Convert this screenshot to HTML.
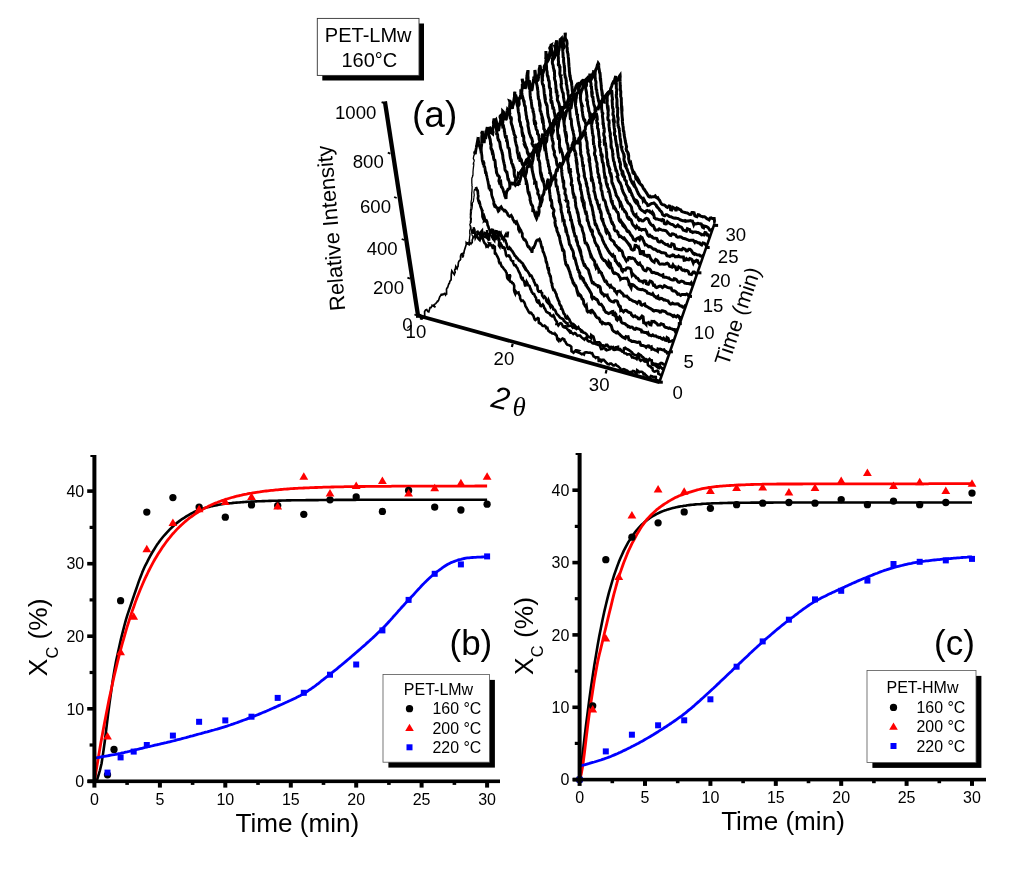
<!DOCTYPE html>
<html><head><meta charset="utf-8"><title>figure</title>
<style>
html,body{margin:0;padding:0;background:#fff;}
body{width:1024px;height:875px;overflow:hidden;font-family:'Liberation Sans', sans-serif;}
svg{display:block;will-change:transform;}
text{font-family:'Liberation Sans', sans-serif;fill:#000;}
</style></head><body>
<svg width="1024" height="875" viewBox="0 0 1024 875">
<rect width="1024" height="875" fill="#fff"/>
<g id="wf">
<path d="M553 140 L553.2 138.9 L553.3 137.7 L554.2 137.1 L554.3 136.2 L554.5 134.7 L553.9 131.7 L554.1 130.7 L554.2 129.9 L554.5 129.3 L554.7 127.8 L554.8 126.9 L554.7 127 L554.8 125.7 L555.1 124.5 L555.2 123.4 L555.4 121.9 L555.9 122.7 L556 121.2 L556.1 119.9 L555.9 117 L556 115.7 L556.1 114.4 L556.3 113.4 L556.4 112.3 L556.5 110.9 L556.1 109 L556.2 108.2 L556.9 109 L557 108 L557.1 107 L557.1 105.8 L556.9 104.1 L557 102.8 L557 102 L557.1 101.3 L556.9 100.3 L557 99.4 L557.5 95.9 L557.6 94.4 L557.8 93.9 L557.9 92.4 L558 90.8 L557.9 92.1 L557.9 90.8 L558 89.7 L558.1 87.3 L558.3 86.1 L558 84.7 L558.2 84.1 L558.2 83.4 L558.3 82.6 L558.2 81.8 L558.3 80 L558.3 78.9 L558.7 76.3 L558.7 77.5 L558.7 75.4 L559.1 72.3 L559.2 71.1 L559.1 71.7 L559.1 70.7 L558.9 68.6 L558.9 67.5 L559.3 68.3 L559.4 67.3 L559.4 66.2 L559.2 61.9 L559.2 60.6 L559.9 59.9 L559.9 58.9 L560 57.7 L559.6 57.8 L559.6 56.4 L559.7 55.7 L560.1 54 L560 54.3 L560 52.8 L560 51.7 L559.8 51.2 L559.8 49.6 L560.1 47.9 L560.1 46.3 L560.1 45 L560.2 43.4 L560.2 42.4 L560.3 40.7 L560.3 39.5 L560.4 38.3 L560.4 40.3 L560.7 41.5 L561.2 43.2 L561.5 44.7 L561.8 46.2 L561.9 45.3 L562.2 46.3 L562.6 48.1 L562.9 49.4 L563.1 47.7 L563.7 47.7 L563.8 45.9 L563.3 42.5 L563.5 41.1 L563.7 40.3 L564.4 39.9 L564.5 38.6 L564.5 38.2 L564.9 36.6 L565.1 36.1 L565.2 35.1 L565.1 33.5 L565.2 32.9 L565.4 33.9 L565.2 36.4 L565.3 37.3 L565.4 38.2 L566.1 39.9 L566.3 41.4 L566.2 39.8 L566.8 41 L566.9 42.3 L567.1 43.4 L566.8 46.5 L566.9 47.6 L567.2 47.9 L567.3 49.5 L567.2 50.9 L567.4 52.2 L567.4 51.6 L567.6 52.7 L568 54.1 L568.1 55.1 L568.2 56.7 L568.2 56.7 L568.3 57.8 L568.5 58.3 L568.7 62.1 L568.8 64 L568.9 64.7 L568.9 65.4 L569 66.5 L569.2 67.9 L569.3 69.7 L569.4 71.6 L569.6 72.8 L569.8 75.6 L569.9 77.1 L570.1 74.9 L570.2 76.6 L570.4 77.6 L570.5 79.3 L570.7 79.5 L570.8 80.7 L571.3 81.1 L571.5 82.3 L571.7 83.7 L571.6 83.9 L571.8 85.4 L572 86.5 L572.2 89.8 L572.4 91.3 L572.6 92.3 L572.8 91.3 L573 92.2 L573.2 93.8 L573.3 95 L573.6 96.1 L573.8 96.9 L574.3 96.6 L574.3 95.1 L574.4 93.8 L574.5 93.4 L574.8 92.4 L575.1 90.9 L575.5 89.9 L575.9 88.6 L576.5 87.4 L577 86.2 L577.5 85.4 L577.6 84.6 L578.3 84.3 L578.9 83.5 L579.7 83.7 L580.3 83.1 L581 82.5 L581.9 81 L582.8 80.4 L583.9 80.6 L585.3 80.1 L586.3 79.1 L587.8 80.6 L588.9 79.8 L589.7 79.6 L590.7 80.9 L591.3 81.9 L591.8 83.2 L592.3 84.4 L592.7 82.8 L593 81.6 L593 79.5 L593.4 78.2 L593.7 77.1 L594 74.7 L594.4 74.3 L594.7 73.6 L595.1 71.6 L595.5 70.9 L595.8 69.4 L596.4 68.8 L596.7 67.4 L597.1 66.6 L597.1 66.1 L597.4 64.9 L597.7 64.8 L598.2 63.2 L598.6 63.8 L598.7 64.3 L598.8 65.9 L598.5 64.7 L598.7 66.2 L598.8 67.9 L599.1 69.1 L599.3 70.2 L599.5 72 L599.6 72.8 L600 73.1 L600.1 74.1 L600.3 76.8 L600.2 77.9 L600.3 79 L600.5 80.1 L600.7 80 L600.8 81.6 L601 83.2 L601.2 86 L601.3 86.8 L601.3 87.5 L601.4 88.9 L601.9 91.4 L602 92.7 L602.2 92.5 L602.4 93.7 L602.3 94.5 L602.7 96.8 L602.9 97.8 L603.1 99 L603.2 101.1 L603.2 100.8 L603.4 101.6 L604 102.4 L604.4 99.1 L604.9 97.7 L605.4 96.9 L605.9 95.7 L606.5 94.7 L607 94.7 L607.6 93.5 L608.2 92.7 L609.3 92.2 L609.6 91.4 L610.2 90.8 L610.8 89.7 L611.9 88.7 L612.5 87.9 L613.2 86.4 L613.6 87.5 L614.3 86.1 L615 81.9 L615.6 82 L616.3 81.1 L617 80.6 L617.8 80 L618.5 78.3 L619.4 76.2 L620.1 75.2 L620.2 76.5 L620 79.2 L620.1 80.4 L620.1 81.3 L620 80.3 L620.1 81.7 L620.1 82.9 L620.2 85.5 L620.3 86.4 L620.3 88 L620.4 90.2 L620.6 90.7 L620.7 91.5 L620.8 91.8 L620.7 94.4 L620.7 96.2 L620.8 97.2 L620.9 97 L620.9 98.1 L621.2 97.3 L621.3 98.5 L621.3 101.3 L621.4 102.4 L621.4 103.9 L621.4 105.4 L621.5 106.5 L621.6 108.3 L621.9 108.1 L622 109.5 L622 110.9 L621.8 111.5 L621.8 112.4 L622 115 L622.1 116.3 L622.2 117.3 L622.5 120 L622.6 121.3 L622.3 119.9 L622.4 121.3 L622.5 122.5 L622.6 123.4 L622.7 124.6 L622.9 125.1 L623 126 L623.2 127.2 L623.3 129.8 L623.4 131.1 L623.8 131.3 L624 132.6 L624.1 134.1 L624.3 134.7 L624.2 135.2 L624.4 136.3 L624.6 137.4 L625 139.2 L625.2 140.6 L625.4 141.6 L625.6 142.8 L625.9 143.7 L626.1 145 L626.4 146 L626.6 146.7 L626.1 149 L626.4 149.6 L626.6 150.9 L627.5 151.8 L627.8 152.5 L628.1 154.1 L628.4 154.1 L628.7 155.9 L628.6 158.8 L628.9 159.7 L629.3 161.8 L629.6 162.9 L630 163.6 L630.7 162.9 L631 164.4 L631.4 165.7 L631.8 168.3 L632.2 169.5 L632.6 170.2 L632.8 171.8 L633.1 171.7 L633.6 173.1 L634.2 172.8 L634.6 173.7 L635.1 174.2 L635.4 175.2 L635.8 178.2 L636.4 179.3 L637.2 179.9 L637.8 180.8 L638.1 179.3 L638.9 180.7 L639.5 182.2 L639.7 183.1 L640.3 183.9 L641 184.9 L641.7 185.1 L642.3 185.9 L643.3 188.3 L644 189.4 L644.7 189.8 L645 190.7 L645.7 191.5 L646.2 192.4 L647 193.6 L648.4 196.2 L649.3 196.9 L650.1 196.2 L651.2 197.1 L652.2 196.8 L653 196.8 L654.2 196.7 L655.2 195.9 L656.4 197.7 L657.2 198.1 L657.8 197.8 L658.5 199.1 L659.6 200.4 L660.3 201.9 L661.1 203.3 L661.2 203.7 L662.1 204.5 L663.1 204.8 L664.2 204.9 L665.2 205.6 L666.3 206.9 L667.4 207.5 L669 205.9 L670.1 206.2 L670.6 209.8 L671.7 210 L672.9 207.4 L674 208.1 L675.1 208.3 L676 211.1 L677.1 208.1 L678.2 208.6 L679.3 209.5 L680.7 209.9 L681.6 211.3 L682.7 211.9 L683.8 212.1 L685.1 212.6 L686.2 212.8 L687.3 212.9 L688.8 214 L689.9 214.5 L691.1 214.3 L691.9 212.5 L693 212.6 L694.1 212.8 L694.8 215.7 L695.9 216.3 L697 216.7 L698.1 214.6 L699.2 214.8 L700.6 216.1 L701.7 216.4 L702.8 216.9 L703.4 216.7 L704.5 216.8 L705.6 217.4 L706.9 218.7 L708 219.2 L709.1 219.9 L710.1 218.1 L711.2 217.8 L712.3 218.6 L714.2 218.6 L714.6 221.9 L715.7 222.3 L715.7 430 L553 430 Z" fill="#fff" stroke="none"/>
<path d="M553 140 L553.2 138.9 L553.3 137.7 L554.2 137.1 L554.3 136.2 L554.5 134.7 L553.9 131.7 L554.1 130.7 L554.2 129.9 L554.5 129.3 L554.7 127.8 L554.8 126.9 L554.7 127 L554.8 125.7 L555.1 124.5 L555.2 123.4 L555.4 121.9 L555.9 122.7 L556 121.2 L556.1 119.9 L555.9 117 L556 115.7 L556.1 114.4 L556.3 113.4 L556.4 112.3 L556.5 110.9 L556.1 109 L556.2 108.2 L556.9 109 L557 108 L557.1 107 L557.1 105.8 L556.9 104.1 L557 102.8 L557 102 L557.1 101.3 L556.9 100.3 L557 99.4 L557.5 95.9 L557.6 94.4 L557.8 93.9 L557.9 92.4 L558 90.8 L557.9 92.1 L557.9 90.8 L558 89.7 L558.1 87.3 L558.3 86.1 L558 84.7 L558.2 84.1 L558.2 83.4 L558.3 82.6 L558.2 81.8 L558.3 80 L558.3 78.9 L558.7 76.3 L558.7 77.5 L558.7 75.4 L559.1 72.3 L559.2 71.1 L559.1 71.7 L559.1 70.7 L558.9 68.6 L558.9 67.5 L559.3 68.3 L559.4 67.3 L559.4 66.2 L559.2 61.9 L559.2 60.6 L559.9 59.9 L559.9 58.9 L560 57.7 L559.6 57.8 L559.6 56.4 L559.7 55.7 L560.1 54 L560 54.3 L560 52.8 L560 51.7 L559.8 51.2 L559.8 49.6 L560.1 47.9 L560.1 46.3 L560.1 45 L560.2 43.4 L560.2 42.4 L560.3 40.7 L560.3 39.5 L560.4 38.3 L560.4 40.3 L560.7 41.5 L561.2 43.2 L561.5 44.7 L561.8 46.2 L561.9 45.3 L562.2 46.3 L562.6 48.1 L562.9 49.4 L563.1 47.7 L563.7 47.7 L563.8 45.9 L563.3 42.5 L563.5 41.1 L563.7 40.3 L564.4 39.9 L564.5 38.6 L564.5 38.2 L564.9 36.6 L565.1 36.1 L565.2 35.1 L565.1 33.5 L565.2 32.9 L565.4 33.9 L565.2 36.4 L565.3 37.3 L565.4 38.2 L566.1 39.9 L566.3 41.4 L566.2 39.8 L566.8 41 L566.9 42.3 L567.1 43.4 L566.8 46.5 L566.9 47.6 L567.2 47.9 L567.3 49.5 L567.2 50.9 L567.4 52.2 L567.4 51.6 L567.6 52.7 L568 54.1 L568.1 55.1 L568.2 56.7 L568.2 56.7 L568.3 57.8 L568.5 58.3 L568.7 62.1 L568.8 64 L568.9 64.7 L568.9 65.4 L569 66.5 L569.2 67.9 L569.3 69.7 L569.4 71.6 L569.6 72.8 L569.8 75.6 L569.9 77.1 L570.1 74.9 L570.2 76.6 L570.4 77.6 L570.5 79.3 L570.7 79.5 L570.8 80.7 L571.3 81.1 L571.5 82.3 L571.7 83.7 L571.6 83.9 L571.8 85.4 L572 86.5 L572.2 89.8 L572.4 91.3 L572.6 92.3 L572.8 91.3 L573 92.2 L573.2 93.8 L573.3 95 L573.6 96.1 L573.8 96.9 L574.3 96.6 L574.3 95.1 L574.4 93.8 L574.5 93.4 L574.8 92.4 L575.1 90.9 L575.5 89.9 L575.9 88.6 L576.5 87.4 L577 86.2 L577.5 85.4 L577.6 84.6 L578.3 84.3 L578.9 83.5 L579.7 83.7 L580.3 83.1 L581 82.5 L581.9 81 L582.8 80.4 L583.9 80.6 L585.3 80.1 L586.3 79.1 L587.8 80.6 L588.9 79.8 L589.7 79.6 L590.7 80.9 L591.3 81.9 L591.8 83.2 L592.3 84.4 L592.7 82.8 L593 81.6 L593 79.5 L593.4 78.2 L593.7 77.1 L594 74.7 L594.4 74.3 L594.7 73.6 L595.1 71.6 L595.5 70.9 L595.8 69.4 L596.4 68.8 L596.7 67.4 L597.1 66.6 L597.1 66.1 L597.4 64.9 L597.7 64.8 L598.2 63.2 L598.6 63.8 L598.7 64.3 L598.8 65.9 L598.5 64.7 L598.7 66.2 L598.8 67.9 L599.1 69.1 L599.3 70.2 L599.5 72 L599.6 72.8 L600 73.1 L600.1 74.1 L600.3 76.8 L600.2 77.9 L600.3 79 L600.5 80.1 L600.7 80 L600.8 81.6 L601 83.2 L601.2 86 L601.3 86.8 L601.3 87.5 L601.4 88.9 L601.9 91.4 L602 92.7 L602.2 92.5 L602.4 93.7 L602.3 94.5 L602.7 96.8 L602.9 97.8 L603.1 99 L603.2 101.1 L603.2 100.8 L603.4 101.6 L604 102.4 L604.4 99.1 L604.9 97.7 L605.4 96.9 L605.9 95.7 L606.5 94.7 L607 94.7 L607.6 93.5 L608.2 92.7 L609.3 92.2 L609.6 91.4 L610.2 90.8 L610.8 89.7 L611.9 88.7 L612.5 87.9 L613.2 86.4 L613.6 87.5 L614.3 86.1 L615 81.9 L615.6 82 L616.3 81.1 L617 80.6 L617.8 80 L618.5 78.3 L619.4 76.2 L620.1 75.2 L620.2 76.5 L620 79.2 L620.1 80.4 L620.1 81.3 L620 80.3 L620.1 81.7 L620.1 82.9 L620.2 85.5 L620.3 86.4 L620.3 88 L620.4 90.2 L620.6 90.7 L620.7 91.5 L620.8 91.8 L620.7 94.4 L620.7 96.2 L620.8 97.2 L620.9 97 L620.9 98.1 L621.2 97.3 L621.3 98.5 L621.3 101.3 L621.4 102.4 L621.4 103.9 L621.4 105.4 L621.5 106.5 L621.6 108.3 L621.9 108.1 L622 109.5 L622 110.9 L621.8 111.5 L621.8 112.4 L622 115 L622.1 116.3 L622.2 117.3 L622.5 120 L622.6 121.3 L622.3 119.9 L622.4 121.3 L622.5 122.5 L622.6 123.4 L622.7 124.6 L622.9 125.1 L623 126 L623.2 127.2 L623.3 129.8 L623.4 131.1 L623.8 131.3 L624 132.6 L624.1 134.1 L624.3 134.7 L624.2 135.2 L624.4 136.3 L624.6 137.4 L625 139.2 L625.2 140.6 L625.4 141.6 L625.6 142.8 L625.9 143.7 L626.1 145 L626.4 146 L626.6 146.7 L626.1 149 L626.4 149.6 L626.6 150.9 L627.5 151.8 L627.8 152.5 L628.1 154.1 L628.4 154.1 L628.7 155.9 L628.6 158.8 L628.9 159.7 L629.3 161.8 L629.6 162.9 L630 163.6 L630.7 162.9 L631 164.4 L631.4 165.7 L631.8 168.3 L632.2 169.5 L632.6 170.2 L632.8 171.8 L633.1 171.7 L633.6 173.1 L634.2 172.8 L634.6 173.7 L635.1 174.2 L635.4 175.2 L635.8 178.2 L636.4 179.3 L637.2 179.9 L637.8 180.8 L638.1 179.3 L638.9 180.7 L639.5 182.2 L639.7 183.1 L640.3 183.9 L641 184.9 L641.7 185.1 L642.3 185.9 L643.3 188.3 L644 189.4 L644.7 189.8 L645 190.7 L645.7 191.5 L646.2 192.4 L647 193.6 L648.4 196.2 L649.3 196.9 L650.1 196.2 L651.2 197.1 L652.2 196.8 L653 196.8 L654.2 196.7 L655.2 195.9 L656.4 197.7 L657.2 198.1 L657.8 197.8 L658.5 199.1 L659.6 200.4 L660.3 201.9 L661.1 203.3 L661.2 203.7 L662.1 204.5 L663.1 204.8 L664.2 204.9 L665.2 205.6 L666.3 206.9 L667.4 207.5 L669 205.9 L670.1 206.2 L670.6 209.8 L671.7 210 L672.9 207.4 L674 208.1 L675.1 208.3 L676 211.1 L677.1 208.1 L678.2 208.6 L679.3 209.5 L680.7 209.9 L681.6 211.3 L682.7 211.9 L683.8 212.1 L685.1 212.6 L686.2 212.8 L687.3 212.9 L688.8 214 L689.9 214.5 L691.1 214.3 L691.9 212.5 L693 212.6 L694.1 212.8 L694.8 215.7 L695.9 216.3 L697 216.7 L698.1 214.6 L699.2 214.8 L700.6 216.1 L701.7 216.4 L702.8 216.9 L703.4 216.7 L704.5 216.8 L705.6 217.4 L706.9 218.7 L708 219.2 L709.1 219.9 L710.1 218.1 L711.2 217.8 L712.3 218.6 L714.2 218.6 L714.6 221.9 L715.7 222.3" fill="none" stroke="#000" stroke-width="3.0" stroke-linejoin="miter" stroke-miterlimit="3"/>
<path d="M548.4 147 L548.6 145.9 L548.8 144.7 L549.1 142.5 L549.2 141.1 L549.4 139.8 L549.1 139.7 L549.3 139.3 L549.5 138.9 L549.6 137.7 L549.8 136.7 L550.4 135 L550.5 134 L550.7 133 L550.8 131.8 L550.9 131.1 L550.5 129.2 L550.6 127.9 L551 124.9 L550.8 124.9 L550.9 124 L551 122.7 L551.2 121.3 L551.3 120.1 L551.4 121.4 L551.5 119.7 L551.8 116.5 L551.7 116.5 L552.1 116.3 L552.2 115.8 L552.5 112.8 L552.6 111.5 L552.7 110.2 L552.6 108.4 L552.6 107.6 L552.7 106.8 L553 106.6 L552.5 105.2 L552.5 104.1 L552.8 102.8 L552.8 101.7 L552.9 100.9 L553.3 98.4 L553.5 97.9 L553.6 96.9 L553.3 96.2 L553.3 95 L553.9 92 L554 90.6 L554.1 90.2 L554.2 88.9 L553.2 89.9 L553.2 89 L553.9 85.3 L554 84.3 L554.1 83.7 L554.4 81.6 L554.5 80.6 L554.5 79.4 L553.9 80.8 L554.6 77 L554.7 76.1 L554.8 74.5 L554.2 76 L554.3 75 L554.6 72.6 L554.7 71.4 L554.5 69.9 L554.6 68.9 L554.6 68 L555.1 65.6 L555.2 64.5 L555.3 63.7 L555.4 62.4 L555.4 60.9 L555.4 61.8 L555.5 60.8 L555.7 57.7 L555.7 56.4 L555.8 55.1 L554.9 54 L554.9 52.5 L555 51.4 L555.5 50.2 L555.6 49.7 L555.9 48.5 L555.9 47.5 L556 46.7 L556.1 43.6 L556 43.9 L556.3 45.5 L556.5 47 L556.8 47.3 L557.1 48 L557.4 48.6 L557.7 50 L557.7 51.9 L558 53.4 L558.2 55.1 L558.5 51.9 L558.7 50.2 L558.9 49.1 L558.9 50.7 L559.1 49.3 L559.6 46.3 L559.8 45 L559.7 43.2 L559.9 41.6 L559.9 42.2 L560.1 41.1 L560.7 41.3 L561.2 39.5 L561.4 38.5 L561.5 38.4 L561.6 39.5 L561.2 40.5 L561.4 41.9 L561.7 42.3 L561.8 43.7 L561.9 44.7 L562.1 45.3 L562.4 46.9 L562.6 47.8 L562.7 49.3 L562.8 51.2 L562.9 52.5 L563 53.6 L563.1 56.6 L563.2 57.8 L563.5 57.2 L563.6 58.2 L563.6 60.6 L563.7 62.1 L563.8 62.9 L563.9 63.2 L564.1 64.2 L564 64 L564.2 65.1 L564.3 66.4 L564.4 66.4 L564.5 67.6 L564.6 68.7 L564.7 72.9 L564.8 74.4 L565.1 75.7 L565.2 77 L565.4 78.3 L565.8 77.4 L566 79.4 L566.2 81.1 L566.4 82.4 L566.2 83.4 L566.4 84 L566.9 85.8 L567 86.9 L567.2 88.8 L567.4 89.6 L567.5 90.6 L567.6 89.8 L567.8 90.6 L567.9 92 L567.9 93 L568.1 94.1 L568.3 95 L568.8 97.7 L569 99.1 L569 100.4 L568.9 100.2 L569.1 101.5 L569.3 102.5 L569.9 103.5 L570.1 104.4 L570.3 105.6 L570.4 107.7 L570.6 108.8 L570.1 107.6 L570.1 106.2 L570.3 103.9 L570.5 102.7 L571 99.9 L571.3 98.3 L570.9 97.5 L571.3 96.4 L572.3 94.4 L572.7 93.1 L573.1 92.2 L573.2 92.3 L573.8 91 L574.3 90.2 L574.7 90.4 L575.2 89.4 L575.9 86.5 L576.5 85.4 L577 84.7 L577.9 86.6 L578.6 86.8 L579.6 86.5 L580.9 83.6 L582.2 83.5 L583.9 83.9 L584.9 84.4 L585.3 83.9 L586 83.5 L586.4 83.8 L586.9 85.3 L588 86.4 L588.5 86.7 L588.3 86.6 L588.7 85.2 L589.5 82.7 L589.9 81.7 L590.3 80.4 L590.2 81.4 L590.6 80.7 L591.3 79.4 L591.7 78.6 L592.1 77.6 L592.4 75 L592.8 73.6 L593.5 73.2 L593.6 71.8 L594.3 71.9 L594.5 73.3 L594.9 72 L595 73.4 L595.2 74.4 L595 76.1 L595.2 77.3 L595.1 77.7 L595.3 78.6 L595.5 80 L596 82.1 L595.8 85.3 L596 86.1 L596.1 87.2 L596.1 87.9 L596.2 89.1 L596.7 89.8 L596.8 91 L596.9 92 L597.3 94.4 L597.5 95.5 L597.7 96.6 L597.8 96.8 L598 98.2 L598.3 99 L598.4 100.5 L598.8 101.6 L599.2 102.7 L599.9 104.2 L600.7 103 L601.1 101.9 L601.9 100.4 L602.8 98.3 L603.5 97.7 L604.3 96.5 L604.9 96.1 L605.6 95.6 L606.6 94.7 L607.2 93.9 L607.9 92.4 L608.1 93.4 L608.7 91.9 L609.8 91.6 L610.4 90.3 L610.7 88.6 L611.3 87.1 L611.8 85.7 L612.2 84.2 L612.7 83.3 L613.2 82.2 L613.9 82.6 L614.3 81.9 L614.5 80.5 L614.9 78.7 L615.4 77.3 L615.8 75.9 L615.8 77.1 L616.1 78.1 L616.1 78.6 L615.9 80.2 L615.9 81.3 L616.3 83 L616.4 83.8 L616.3 84.6 L616.3 85.9 L616.3 87.2 L616.4 89.4 L616.8 88.6 L616.9 89.3 L616.5 92.2 L616.6 93.5 L616.6 94.3 L616.3 94.6 L616.3 95.9 L616.4 97.1 L616.9 99 L617 100.6 L617 102.3 L617 103.6 L617.1 105.1 L616.9 105 L616.9 106.4 L617 107.4 L617.7 107.9 L617.8 108.9 L617.6 110.7 L617.7 112 L617.5 115.6 L617.6 116.9 L618 117.4 L618.1 118.7 L618.2 119.1 L617.8 121.7 L617.9 123.2 L618 124.1 L618.3 123.4 L618 124.9 L618.1 125.8 L618.2 126.6 L618.5 125.9 L618.6 127.3 L619.2 128.6 L619.3 129.5 L619.4 130.2 L619.5 131.9 L619.6 132.9 L619.8 134 L619.9 136 L620 137.2 L620.3 138.8 L620.5 140 L620.4 140 L620.6 141.2 L620.8 142 L620.8 144.5 L621 145.4 L621.2 147.2 L621.9 147.4 L621.7 148.6 L621.9 149.9 L622.2 150.5 L623.4 153.4 L623.7 154.1 L623.9 155.9 L624.2 155.7 L624.4 156.8 L623.9 159.1 L624.1 160.7 L624.4 161.1 L624.7 162.3 L624.8 163.2 L625.1 165.1 L625.9 164.6 L626.2 165 L626.2 167.6 L626.6 168.5 L627 168.8 L627.4 170.3 L627.8 171.3 L628.2 172.3 L628.9 173.7 L629.3 174.8 L629.7 176 L630 177.4 L630.4 178.5 L630.3 179.3 L630.7 180 L631.2 180.6 L632.3 183.2 L632.8 183.6 L633.3 184.5 L633.9 183.3 L634.5 185.2 L635 186.4 L635.1 187.1 L635.7 187.7 L636.6 189.6 L637.2 191.1 L637.7 192.2 L638.3 193.7 L639 194.7 L639.6 195.6 L640.3 196.6 L641 197.3 L642 198.2 L642.8 199 L643.1 200.4 L643.8 199.2 L644.9 201.3 L645.7 202.6 L646.6 203.3 L647.5 204.6 L647.8 205.6 L648.8 205.4 L650.5 204.1 L651.7 203.5 L652.7 203.4 L653.8 203 L654.6 203.7 L655.3 204.4 L656.3 205.2 L656.5 206.3 L657.1 206.6 L657.9 207.9 L658.8 208.5 L659.8 210.3 L660.8 211.1 L661.9 212.5 L662.6 214.6 L663.7 215.5 L664.7 215.8 L665.8 214.8 L666.9 214.8 L668.1 215.5 L669.2 216.3 L670.3 216.7 L671 216.7 L672.7 217.7 L673.8 218.1 L674.9 218.3 L675.6 218.1 L676.6 218.3 L677.8 218.4 L678.9 219 L680.7 220 L681.8 220.3 L682.7 220.7 L683.8 220.8 L685 221.2 L685.4 220.6 L686.5 221.1 L687.6 221 L688.7 221.1 L690.3 220.5 L691.4 221 L692.5 221.1 L693.7 224.6 L694.2 223.4 L695.3 224 L696.7 223.8 L697.8 223.3 L698.8 223.5 L700.2 223.7 L701.3 224 L702.5 227.2 L703.6 227.8 L704.2 226 L705 226.3 L706.1 226.4 L707.2 227 L708.3 227.8 L709.8 230.2 L710.9 230.2 L712 229.4 L713.1 229.8 L713.1 430 L548.4 430 Z" fill="#fff" stroke="none"/>
<path d="M548.4 147 L548.6 145.9 L548.8 144.7 L549.1 142.5 L549.2 141.1 L549.4 139.8 L549.1 139.7 L549.3 139.3 L549.5 138.9 L549.6 137.7 L549.8 136.7 L550.4 135 L550.5 134 L550.7 133 L550.8 131.8 L550.9 131.1 L550.5 129.2 L550.6 127.9 L551 124.9 L550.8 124.9 L550.9 124 L551 122.7 L551.2 121.3 L551.3 120.1 L551.4 121.4 L551.5 119.7 L551.8 116.5 L551.7 116.5 L552.1 116.3 L552.2 115.8 L552.5 112.8 L552.6 111.5 L552.7 110.2 L552.6 108.4 L552.6 107.6 L552.7 106.8 L553 106.6 L552.5 105.2 L552.5 104.1 L552.8 102.8 L552.8 101.7 L552.9 100.9 L553.3 98.4 L553.5 97.9 L553.6 96.9 L553.3 96.2 L553.3 95 L553.9 92 L554 90.6 L554.1 90.2 L554.2 88.9 L553.2 89.9 L553.2 89 L553.9 85.3 L554 84.3 L554.1 83.7 L554.4 81.6 L554.5 80.6 L554.5 79.4 L553.9 80.8 L554.6 77 L554.7 76.1 L554.8 74.5 L554.2 76 L554.3 75 L554.6 72.6 L554.7 71.4 L554.5 69.9 L554.6 68.9 L554.6 68 L555.1 65.6 L555.2 64.5 L555.3 63.7 L555.4 62.4 L555.4 60.9 L555.4 61.8 L555.5 60.8 L555.7 57.7 L555.7 56.4 L555.8 55.1 L554.9 54 L554.9 52.5 L555 51.4 L555.5 50.2 L555.6 49.7 L555.9 48.5 L555.9 47.5 L556 46.7 L556.1 43.6 L556 43.9 L556.3 45.5 L556.5 47 L556.8 47.3 L557.1 48 L557.4 48.6 L557.7 50 L557.7 51.9 L558 53.4 L558.2 55.1 L558.5 51.9 L558.7 50.2 L558.9 49.1 L558.9 50.7 L559.1 49.3 L559.6 46.3 L559.8 45 L559.7 43.2 L559.9 41.6 L559.9 42.2 L560.1 41.1 L560.7 41.3 L561.2 39.5 L561.4 38.5 L561.5 38.4 L561.6 39.5 L561.2 40.5 L561.4 41.9 L561.7 42.3 L561.8 43.7 L561.9 44.7 L562.1 45.3 L562.4 46.9 L562.6 47.8 L562.7 49.3 L562.8 51.2 L562.9 52.5 L563 53.6 L563.1 56.6 L563.2 57.8 L563.5 57.2 L563.6 58.2 L563.6 60.6 L563.7 62.1 L563.8 62.9 L563.9 63.2 L564.1 64.2 L564 64 L564.2 65.1 L564.3 66.4 L564.4 66.4 L564.5 67.6 L564.6 68.7 L564.7 72.9 L564.8 74.4 L565.1 75.7 L565.2 77 L565.4 78.3 L565.8 77.4 L566 79.4 L566.2 81.1 L566.4 82.4 L566.2 83.4 L566.4 84 L566.9 85.8 L567 86.9 L567.2 88.8 L567.4 89.6 L567.5 90.6 L567.6 89.8 L567.8 90.6 L567.9 92 L567.9 93 L568.1 94.1 L568.3 95 L568.8 97.7 L569 99.1 L569 100.4 L568.9 100.2 L569.1 101.5 L569.3 102.5 L569.9 103.5 L570.1 104.4 L570.3 105.6 L570.4 107.7 L570.6 108.8 L570.1 107.6 L570.1 106.2 L570.3 103.9 L570.5 102.7 L571 99.9 L571.3 98.3 L570.9 97.5 L571.3 96.4 L572.3 94.4 L572.7 93.1 L573.1 92.2 L573.2 92.3 L573.8 91 L574.3 90.2 L574.7 90.4 L575.2 89.4 L575.9 86.5 L576.5 85.4 L577 84.7 L577.9 86.6 L578.6 86.8 L579.6 86.5 L580.9 83.6 L582.2 83.5 L583.9 83.9 L584.9 84.4 L585.3 83.9 L586 83.5 L586.4 83.8 L586.9 85.3 L588 86.4 L588.5 86.7 L588.3 86.6 L588.7 85.2 L589.5 82.7 L589.9 81.7 L590.3 80.4 L590.2 81.4 L590.6 80.7 L591.3 79.4 L591.7 78.6 L592.1 77.6 L592.4 75 L592.8 73.6 L593.5 73.2 L593.6 71.8 L594.3 71.9 L594.5 73.3 L594.9 72 L595 73.4 L595.2 74.4 L595 76.1 L595.2 77.3 L595.1 77.7 L595.3 78.6 L595.5 80 L596 82.1 L595.8 85.3 L596 86.1 L596.1 87.2 L596.1 87.9 L596.2 89.1 L596.7 89.8 L596.8 91 L596.9 92 L597.3 94.4 L597.5 95.5 L597.7 96.6 L597.8 96.8 L598 98.2 L598.3 99 L598.4 100.5 L598.8 101.6 L599.2 102.7 L599.9 104.2 L600.7 103 L601.1 101.9 L601.9 100.4 L602.8 98.3 L603.5 97.7 L604.3 96.5 L604.9 96.1 L605.6 95.6 L606.6 94.7 L607.2 93.9 L607.9 92.4 L608.1 93.4 L608.7 91.9 L609.8 91.6 L610.4 90.3 L610.7 88.6 L611.3 87.1 L611.8 85.7 L612.2 84.2 L612.7 83.3 L613.2 82.2 L613.9 82.6 L614.3 81.9 L614.5 80.5 L614.9 78.7 L615.4 77.3 L615.8 75.9 L615.8 77.1 L616.1 78.1 L616.1 78.6 L615.9 80.2 L615.9 81.3 L616.3 83 L616.4 83.8 L616.3 84.6 L616.3 85.9 L616.3 87.2 L616.4 89.4 L616.8 88.6 L616.9 89.3 L616.5 92.2 L616.6 93.5 L616.6 94.3 L616.3 94.6 L616.3 95.9 L616.4 97.1 L616.9 99 L617 100.6 L617 102.3 L617 103.6 L617.1 105.1 L616.9 105 L616.9 106.4 L617 107.4 L617.7 107.9 L617.8 108.9 L617.6 110.7 L617.7 112 L617.5 115.6 L617.6 116.9 L618 117.4 L618.1 118.7 L618.2 119.1 L617.8 121.7 L617.9 123.2 L618 124.1 L618.3 123.4 L618 124.9 L618.1 125.8 L618.2 126.6 L618.5 125.9 L618.6 127.3 L619.2 128.6 L619.3 129.5 L619.4 130.2 L619.5 131.9 L619.6 132.9 L619.8 134 L619.9 136 L620 137.2 L620.3 138.8 L620.5 140 L620.4 140 L620.6 141.2 L620.8 142 L620.8 144.5 L621 145.4 L621.2 147.2 L621.9 147.4 L621.7 148.6 L621.9 149.9 L622.2 150.5 L623.4 153.4 L623.7 154.1 L623.9 155.9 L624.2 155.7 L624.4 156.8 L623.9 159.1 L624.1 160.7 L624.4 161.1 L624.7 162.3 L624.8 163.2 L625.1 165.1 L625.9 164.6 L626.2 165 L626.2 167.6 L626.6 168.5 L627 168.8 L627.4 170.3 L627.8 171.3 L628.2 172.3 L628.9 173.7 L629.3 174.8 L629.7 176 L630 177.4 L630.4 178.5 L630.3 179.3 L630.7 180 L631.2 180.6 L632.3 183.2 L632.8 183.6 L633.3 184.5 L633.9 183.3 L634.5 185.2 L635 186.4 L635.1 187.1 L635.7 187.7 L636.6 189.6 L637.2 191.1 L637.7 192.2 L638.3 193.7 L639 194.7 L639.6 195.6 L640.3 196.6 L641 197.3 L642 198.2 L642.8 199 L643.1 200.4 L643.8 199.2 L644.9 201.3 L645.7 202.6 L646.6 203.3 L647.5 204.6 L647.8 205.6 L648.8 205.4 L650.5 204.1 L651.7 203.5 L652.7 203.4 L653.8 203 L654.6 203.7 L655.3 204.4 L656.3 205.2 L656.5 206.3 L657.1 206.6 L657.9 207.9 L658.8 208.5 L659.8 210.3 L660.8 211.1 L661.9 212.5 L662.6 214.6 L663.7 215.5 L664.7 215.8 L665.8 214.8 L666.9 214.8 L668.1 215.5 L669.2 216.3 L670.3 216.7 L671 216.7 L672.7 217.7 L673.8 218.1 L674.9 218.3 L675.6 218.1 L676.6 218.3 L677.8 218.4 L678.9 219 L680.7 220 L681.8 220.3 L682.7 220.7 L683.8 220.8 L685 221.2 L685.4 220.6 L686.5 221.1 L687.6 221 L688.7 221.1 L690.3 220.5 L691.4 221 L692.5 221.1 L693.7 224.6 L694.2 223.4 L695.3 224 L696.7 223.8 L697.8 223.3 L698.8 223.5 L700.2 223.7 L701.3 224 L702.5 227.2 L703.6 227.8 L704.2 226 L705 226.3 L706.1 226.4 L707.2 227 L708.3 227.8 L709.8 230.2 L710.9 230.2 L712 229.4 L713.1 229.8" fill="none" stroke="#000" stroke-width="3.0" stroke-linejoin="miter" stroke-miterlimit="3"/>
<path d="M543.9 154.1 L544.1 152.9 L544.2 151.8 L544.5 150.7 L544.5 151.7 L544.7 150.7 L544.8 149.5 L545 147.1 L545 145.7 L545.2 145 L545.3 143.3 L545.6 141.2 L545.7 140.4 L545.6 141.3 L545.7 140.4 L546.2 138.7 L545.9 138.5 L546 137 L546.4 134.8 L546.5 133.8 L546.5 132.2 L546.6 131.1 L547.1 129.4 L547.2 128.2 L547.6 129.2 L547.7 128.2 L547.8 127.4 L547.5 123.1 L547.5 121.8 L547.6 121 L547.4 119.7 L547.5 118.3 L547.6 117.2 L548.1 117 L548.2 116.7 L548.3 115.5 L547.9 113.2 L548 112.1 L548.1 110.5 L548.7 110.2 L548.8 109.5 L549 108.2 L548.7 105.8 L548.6 105.7 L548.6 104.1 L548.6 101.9 L549.1 102.2 L549.2 101.4 L549.2 101 L548.7 99.1 L548.8 98.6 L548.9 98.3 L549.5 96 L549.5 94.2 L549.5 94.2 L549.6 92.7 L549.7 91.2 L549.5 89.5 L549.6 86.5 L549.7 85.8 L549.8 85 L549.8 83.3 L549.7 83.9 L550.1 83.3 L550.1 81.9 L550.2 80.6 L550.8 76.5 L550.8 75.6 L550 74.9 L550.2 74.6 L550.2 73.8 L550.3 72.9 L550.6 70.5 L550.6 69.5 L550.4 69.7 L550.4 68.5 L551 67 L550.5 62.9 L550.5 61.5 L550.7 62.4 L550.8 61.4 L550.8 60 L550.8 57.2 L550.8 56.4 L550.9 58.2 L551 56.9 L551 55.8 L550.7 53.3 L550.8 52.5 L551.3 51.6 L551.4 50.5 L551.3 49.9 L551.3 48.6 L551.6 49.3 L552.1 51.8 L552.5 53.4 L552.8 54.5 L552.9 52.2 L553.2 53.6 L553.4 56.4 L553.8 58.7 L554.5 57.6 L554.7 55.6 L554.6 54.7 L554.7 53.7 L554.9 52.8 L555.5 50.6 L555.7 49.2 L555.1 47.3 L555.7 47.6 L555.9 46.1 L556 44.7 L555.8 44.8 L555.9 43.8 L556.1 42.6 L556.7 40.4 L556.8 41.6 L556.9 43.1 L556.8 46.2 L556.9 47.1 L557.2 47.9 L557.3 50.1 L557.4 51.6 L557.5 52.4 L557.6 53.5 L557.4 56.4 L558.1 55.3 L558.3 56.9 L558.4 58.2 L558.3 60.1 L558.5 61.3 L558.6 62.3 L558.3 64.2 L558.4 65 L559.3 65.1 L559.5 65.9 L559.6 67.2 L560 67.3 L559.9 68.9 L560 70.3 L559.8 73.4 L560 74.8 L560.3 75.6 L560.7 75.7 L560.4 76.1 L560.5 76.8 L560.8 77.3 L561 78.2 L561.1 79.2 L561.4 82.2 L561.6 83.6 L561 84.3 L561.2 85.8 L561.3 87.3 L561.7 88.3 L561.9 89.4 L562.2 90.9 L562.4 91.7 L562.6 92.2 L563 92.7 L563.2 94.1 L563.4 95.2 L563.4 97.1 L563.7 98.2 L563.9 99.5 L564.2 101.1 L564.4 102 L564.7 102.8 L564.7 104.2 L565 105.3 L565.2 106.3 L565.8 108 L566.1 109.7 L566.3 110.8 L566.8 110 L566.8 108.9 L566.5 109.4 L566.7 107.7 L567 105.9 L567.6 101.9 L568 100.3 L568.4 99.4 L568.6 98.7 L569.1 97.8 L569.7 97.4 L570.2 97.4 L570.8 95.9 L571.5 95 L572.5 94 L572.9 94 L573.6 94.3 L574.3 94.5 L575.7 94 L576.9 94 L578.2 93.7 L579.3 91.9 L580.4 91.9 L581.3 91.9 L582.4 91.7 L583 92.3 L583.5 93.7 L584 96.4 L584.3 95 L584.6 93.4 L584.6 93.4 L584.9 92 L585.2 90.7 L585.3 87.3 L585.6 86.1 L586.3 86 L586.6 84.6 L586.4 82.9 L586.7 82.2 L587.3 81.4 L587.2 78.7 L587.6 78 L588.9 79.8 L589.2 78.6 L589.5 77.6 L589.5 76.1 L589.8 75.6 L589.8 73.6 L589.9 75 L590 76.2 L590.2 76.1 L590.3 77.8 L590.4 79.3 L590.4 81.3 L590.7 82.2 L590.9 83 L591.1 84 L590.9 86.1 L591.5 86.6 L591.5 88.4 L591.7 89.4 L591.8 90.8 L592.1 91.9 L592.3 93.3 L592.1 95.3 L591.9 95.1 L592 96.1 L592.6 97.5 L592.7 96.1 L592.8 96.9 L593 97.9 L593.2 100.8 L593.5 101.7 L593.6 102.5 L593.8 103.8 L594 104.7 L594.2 105.5 L594.6 106.2 L594.9 107.8 L595.1 109.1 L594.9 110 L595.2 111.1 L595.5 112.2 L595.9 111.5 L596.4 110.8 L597.3 111.5 L597.8 109.5 L598.4 108.7 L599.1 106 L599.7 105.9 L600.3 105 L600.9 104.2 L601.4 104.6 L602 103.7 L602.7 102.9 L603.4 100.5 L604.2 99.5 L605 97.9 L605.8 96.7 L606.5 96.1 L607.9 94.9 L608.7 93.5 L609.4 93.2 L610.2 92.7 L611.1 91.6 L611.8 91.5 L611.9 92.3 L612 93.1 L612 95.5 L612 96.2 L612.3 97.5 L612.4 98.6 L612.5 99.6 L612.1 100.2 L612.2 101.8 L612.3 103 L612.4 105.4 L612.5 106.2 L612.6 107.9 L613 108.5 L613.1 109.2 L613.2 110.7 L613.3 111.2 L612.9 114 L613 115.7 L613.4 114.6 L613.9 118.4 L613.2 119.6 L613.3 120.5 L613.4 121.1 L614.3 121 L614.4 122 L613.8 123.8 L613.9 124.8 L614 125.5 L614.1 126.4 L614.2 127.7 L614.3 128.4 L614.9 131.5 L614.4 132.4 L614.5 134.3 L614.6 135.1 L615.3 136 L615.5 136.5 L615.4 137.1 L615.5 138.5 L615.6 139.7 L615.9 140.7 L616 142.1 L616.3 143.3 L616.4 144.6 L616.6 145.5 L617 145.5 L617.1 146.6 L617.3 147.6 L617.5 149.1 L617.3 149.3 L617.5 150.7 L618 153.8 L618.2 155.4 L618.3 156.4 L618.5 157.6 L619.1 158.5 L619.3 159.5 L619.3 160.9 L619.6 161.9 L620 162 L620.3 163.3 L620.5 164.4 L620.3 166.5 L620.5 167.9 L620.8 169.1 L621.7 170.8 L622 172.1 L622.3 172.9 L622 173.4 L622.3 174.4 L622.6 175 L623.2 173.9 L623.5 175.5 L624.3 176.6 L624.6 177.1 L624.6 179.3 L625 180.3 L625.9 180.8 L626.3 181.2 L626.5 184.3 L627 185 L627.5 185.7 L627.9 186.8 L628.4 187.7 L628.7 189.3 L629.2 190.3 L629.8 189.3 L630.3 190.3 L630.8 191.8 L632.1 194.7 L631.9 195.1 L632.5 195.9 L633.1 197.2 L634.2 199.9 L634.9 201.4 L635.5 202.1 L636 200.3 L636.7 200.7 L637.4 201.7 L638.3 205.2 L639 206.4 L639.7 207.1 L639.8 208.4 L640.6 209.2 L641.3 209.9 L642.1 210.6 L643.4 211.3 L644.2 212.1 L645.1 212.6 L646.1 211 L647.2 210.5 L648.3 211.2 L649.4 210.9 L650.4 212.4 L651.2 212.6 L652 213.4 L652.5 212.3 L653.2 213.3 L653.9 214.9 L654.3 217.8 L655.1 218.3 L655.9 219 L657.3 219 L658.2 219.4 L659.4 219.8 L660.4 219.8 L661.4 220.5 L662.5 219.6 L663.6 220.1 L664.3 223.4 L665.4 223.9 L666.4 223.8 L667.4 221.7 L668.6 222.8 L669.7 223.5 L670.8 224.2 L672.2 224.5 L673.3 225 L674.4 226.2 L675.5 226.9 L676.5 226.4 L677.9 225 L679 226.1 L679.4 226.8 L680.5 226.8 L681.6 227.3 L683.3 230.1 L684.4 230.4 L685.3 230.8 L686.4 231.1 L687.3 228.7 L688.4 229.2 L689.5 229.3 L690.5 231.4 L691.6 231.7 L692.7 232.5 L694.1 231.9 L695.2 231.9 L695.8 231.9 L696.9 232.4 L698 232.4 L699.4 233.3 L700.5 233.8 L701.6 234.9 L702.9 234.6 L703.9 234.9 L705 232.5 L706.1 232.7 L706.9 234.9 L708 234.8 L709.3 236.9 L710.4 237.3 L710.4 430 L543.9 430 Z" fill="#fff" stroke="none"/>
<path d="M543.9 154.1 L544.1 152.9 L544.2 151.8 L544.5 150.7 L544.5 151.7 L544.7 150.7 L544.8 149.5 L545 147.1 L545 145.7 L545.2 145 L545.3 143.3 L545.6 141.2 L545.7 140.4 L545.6 141.3 L545.7 140.4 L546.2 138.7 L545.9 138.5 L546 137 L546.4 134.8 L546.5 133.8 L546.5 132.2 L546.6 131.1 L547.1 129.4 L547.2 128.2 L547.6 129.2 L547.7 128.2 L547.8 127.4 L547.5 123.1 L547.5 121.8 L547.6 121 L547.4 119.7 L547.5 118.3 L547.6 117.2 L548.1 117 L548.2 116.7 L548.3 115.5 L547.9 113.2 L548 112.1 L548.1 110.5 L548.7 110.2 L548.8 109.5 L549 108.2 L548.7 105.8 L548.6 105.7 L548.6 104.1 L548.6 101.9 L549.1 102.2 L549.2 101.4 L549.2 101 L548.7 99.1 L548.8 98.6 L548.9 98.3 L549.5 96 L549.5 94.2 L549.5 94.2 L549.6 92.7 L549.7 91.2 L549.5 89.5 L549.6 86.5 L549.7 85.8 L549.8 85 L549.8 83.3 L549.7 83.9 L550.1 83.3 L550.1 81.9 L550.2 80.6 L550.8 76.5 L550.8 75.6 L550 74.9 L550.2 74.6 L550.2 73.8 L550.3 72.9 L550.6 70.5 L550.6 69.5 L550.4 69.7 L550.4 68.5 L551 67 L550.5 62.9 L550.5 61.5 L550.7 62.4 L550.8 61.4 L550.8 60 L550.8 57.2 L550.8 56.4 L550.9 58.2 L551 56.9 L551 55.8 L550.7 53.3 L550.8 52.5 L551.3 51.6 L551.4 50.5 L551.3 49.9 L551.3 48.6 L551.6 49.3 L552.1 51.8 L552.5 53.4 L552.8 54.5 L552.9 52.2 L553.2 53.6 L553.4 56.4 L553.8 58.7 L554.5 57.6 L554.7 55.6 L554.6 54.7 L554.7 53.7 L554.9 52.8 L555.5 50.6 L555.7 49.2 L555.1 47.3 L555.7 47.6 L555.9 46.1 L556 44.7 L555.8 44.8 L555.9 43.8 L556.1 42.6 L556.7 40.4 L556.8 41.6 L556.9 43.1 L556.8 46.2 L556.9 47.1 L557.2 47.9 L557.3 50.1 L557.4 51.6 L557.5 52.4 L557.6 53.5 L557.4 56.4 L558.1 55.3 L558.3 56.9 L558.4 58.2 L558.3 60.1 L558.5 61.3 L558.6 62.3 L558.3 64.2 L558.4 65 L559.3 65.1 L559.5 65.9 L559.6 67.2 L560 67.3 L559.9 68.9 L560 70.3 L559.8 73.4 L560 74.8 L560.3 75.6 L560.7 75.7 L560.4 76.1 L560.5 76.8 L560.8 77.3 L561 78.2 L561.1 79.2 L561.4 82.2 L561.6 83.6 L561 84.3 L561.2 85.8 L561.3 87.3 L561.7 88.3 L561.9 89.4 L562.2 90.9 L562.4 91.7 L562.6 92.2 L563 92.7 L563.2 94.1 L563.4 95.2 L563.4 97.1 L563.7 98.2 L563.9 99.5 L564.2 101.1 L564.4 102 L564.7 102.8 L564.7 104.2 L565 105.3 L565.2 106.3 L565.8 108 L566.1 109.7 L566.3 110.8 L566.8 110 L566.8 108.9 L566.5 109.4 L566.7 107.7 L567 105.9 L567.6 101.9 L568 100.3 L568.4 99.4 L568.6 98.7 L569.1 97.8 L569.7 97.4 L570.2 97.4 L570.8 95.9 L571.5 95 L572.5 94 L572.9 94 L573.6 94.3 L574.3 94.5 L575.7 94 L576.9 94 L578.2 93.7 L579.3 91.9 L580.4 91.9 L581.3 91.9 L582.4 91.7 L583 92.3 L583.5 93.7 L584 96.4 L584.3 95 L584.6 93.4 L584.6 93.4 L584.9 92 L585.2 90.7 L585.3 87.3 L585.6 86.1 L586.3 86 L586.6 84.6 L586.4 82.9 L586.7 82.2 L587.3 81.4 L587.2 78.7 L587.6 78 L588.9 79.8 L589.2 78.6 L589.5 77.6 L589.5 76.1 L589.8 75.6 L589.8 73.6 L589.9 75 L590 76.2 L590.2 76.1 L590.3 77.8 L590.4 79.3 L590.4 81.3 L590.7 82.2 L590.9 83 L591.1 84 L590.9 86.1 L591.5 86.6 L591.5 88.4 L591.7 89.4 L591.8 90.8 L592.1 91.9 L592.3 93.3 L592.1 95.3 L591.9 95.1 L592 96.1 L592.6 97.5 L592.7 96.1 L592.8 96.9 L593 97.9 L593.2 100.8 L593.5 101.7 L593.6 102.5 L593.8 103.8 L594 104.7 L594.2 105.5 L594.6 106.2 L594.9 107.8 L595.1 109.1 L594.9 110 L595.2 111.1 L595.5 112.2 L595.9 111.5 L596.4 110.8 L597.3 111.5 L597.8 109.5 L598.4 108.7 L599.1 106 L599.7 105.9 L600.3 105 L600.9 104.2 L601.4 104.6 L602 103.7 L602.7 102.9 L603.4 100.5 L604.2 99.5 L605 97.9 L605.8 96.7 L606.5 96.1 L607.9 94.9 L608.7 93.5 L609.4 93.2 L610.2 92.7 L611.1 91.6 L611.8 91.5 L611.9 92.3 L612 93.1 L612 95.5 L612 96.2 L612.3 97.5 L612.4 98.6 L612.5 99.6 L612.1 100.2 L612.2 101.8 L612.3 103 L612.4 105.4 L612.5 106.2 L612.6 107.9 L613 108.5 L613.1 109.2 L613.2 110.7 L613.3 111.2 L612.9 114 L613 115.7 L613.4 114.6 L613.9 118.4 L613.2 119.6 L613.3 120.5 L613.4 121.1 L614.3 121 L614.4 122 L613.8 123.8 L613.9 124.8 L614 125.5 L614.1 126.4 L614.2 127.7 L614.3 128.4 L614.9 131.5 L614.4 132.4 L614.5 134.3 L614.6 135.1 L615.3 136 L615.5 136.5 L615.4 137.1 L615.5 138.5 L615.6 139.7 L615.9 140.7 L616 142.1 L616.3 143.3 L616.4 144.6 L616.6 145.5 L617 145.5 L617.1 146.6 L617.3 147.6 L617.5 149.1 L617.3 149.3 L617.5 150.7 L618 153.8 L618.2 155.4 L618.3 156.4 L618.5 157.6 L619.1 158.5 L619.3 159.5 L619.3 160.9 L619.6 161.9 L620 162 L620.3 163.3 L620.5 164.4 L620.3 166.5 L620.5 167.9 L620.8 169.1 L621.7 170.8 L622 172.1 L622.3 172.9 L622 173.4 L622.3 174.4 L622.6 175 L623.2 173.9 L623.5 175.5 L624.3 176.6 L624.6 177.1 L624.6 179.3 L625 180.3 L625.9 180.8 L626.3 181.2 L626.5 184.3 L627 185 L627.5 185.7 L627.9 186.8 L628.4 187.7 L628.7 189.3 L629.2 190.3 L629.8 189.3 L630.3 190.3 L630.8 191.8 L632.1 194.7 L631.9 195.1 L632.5 195.9 L633.1 197.2 L634.2 199.9 L634.9 201.4 L635.5 202.1 L636 200.3 L636.7 200.7 L637.4 201.7 L638.3 205.2 L639 206.4 L639.7 207.1 L639.8 208.4 L640.6 209.2 L641.3 209.9 L642.1 210.6 L643.4 211.3 L644.2 212.1 L645.1 212.6 L646.1 211 L647.2 210.5 L648.3 211.2 L649.4 210.9 L650.4 212.4 L651.2 212.6 L652 213.4 L652.5 212.3 L653.2 213.3 L653.9 214.9 L654.3 217.8 L655.1 218.3 L655.9 219 L657.3 219 L658.2 219.4 L659.4 219.8 L660.4 219.8 L661.4 220.5 L662.5 219.6 L663.6 220.1 L664.3 223.4 L665.4 223.9 L666.4 223.8 L667.4 221.7 L668.6 222.8 L669.7 223.5 L670.8 224.2 L672.2 224.5 L673.3 225 L674.4 226.2 L675.5 226.9 L676.5 226.4 L677.9 225 L679 226.1 L679.4 226.8 L680.5 226.8 L681.6 227.3 L683.3 230.1 L684.4 230.4 L685.3 230.8 L686.4 231.1 L687.3 228.7 L688.4 229.2 L689.5 229.3 L690.5 231.4 L691.6 231.7 L692.7 232.5 L694.1 231.9 L695.2 231.9 L695.8 231.9 L696.9 232.4 L698 232.4 L699.4 233.3 L700.5 233.8 L701.6 234.9 L702.9 234.6 L703.9 234.9 L705 232.5 L706.1 232.7 L706.9 234.9 L708 234.8 L709.3 236.9 L710.4 237.3" fill="none" stroke="#000" stroke-width="3.0" stroke-linejoin="miter" stroke-miterlimit="3"/>
<path d="M538.6 162.3 L538.7 161.1 L538.9 160 L538.6 158.2 L539.2 158.3 L539.3 157.2 L539.4 156.4 L539.6 155.1 L539.5 154.6 L539.6 153 L539.8 152.3 L540.6 149.5 L540.7 148.3 L540.7 147 L540.8 145.6 L540.9 143.9 L541 141.4 L541.1 140.1 L541.2 138.5 L541.3 136.9 L541.5 136.8 L541.7 136.7 L541.7 136 L541.8 135.1 L541.9 134.5 L541.7 132.8 L541.8 131.8 L542 130.3 L542.1 128.8 L542.3 127.4 L542.4 126 L542.5 125.1 L542.6 123.7 L542.6 123 L543.7 122.6 L543.8 121 L543.9 120.1 L542.9 119.7 L543 118.9 L543.6 118.3 L543.7 117.4 L543.8 116.6 L543.4 114.7 L543.5 113.1 L543.6 111.1 L543.3 110.6 L543.4 109.6 L543.5 108.6 L543.9 106.6 L544 105.8 L544 104 L544.3 103.6 L544.4 102.3 L544.4 101.2 L543.9 100.3 L544.2 98.5 L544.2 97.4 L544.2 96.6 L544.3 95.6 L544 94.1 L544 93 L544.6 90.4 L544.7 90 L544.3 90.5 L544.5 88.9 L544.6 87.6 L544.9 86.4 L545 85.3 L544.9 82.8 L545 81.8 L545 80.7 L544.9 82 L544.9 80.8 L545 79.9 L544.8 78.1 L544.8 77.1 L544.9 75.7 L545 73.1 L545.3 71.2 L545.4 69.7 L545.5 68.6 L545.7 68.8 L545.8 67.9 L545.6 68.8 L545.7 67.5 L545.8 65.9 L545.8 62.8 L545.9 61.8 L545.9 60.3 L546.1 60.7 L546.1 59.4 L546.1 58.1 L545.8 58 L545.9 56.7 L545.9 55.6 L545.9 52.1 L545.9 51.1 L546.1 53.3 L546.4 54.2 L546.8 56.1 L547.1 57.3 L547.4 58.3 L547.9 58.9 L548.2 60.2 L548.6 59.5 L548.8 58.2 L549.3 57.9 L549.5 56.8 L549.7 55.4 L549.4 55.2 L549.6 53.4 L549.8 52.1 L550.2 51.7 L550.4 50.1 L549.7 48 L550.3 46.8 L550.9 46.2 L551.1 45.4 L550.7 45.7 L551.3 44.2 L551.4 45.2 L551.3 47.3 L551.4 48.6 L551.5 49.5 L551.4 50.8 L551.5 51.7 L551.6 52.8 L552.1 55.2 L552.2 55.9 L552.5 54.9 L552.7 55.4 L552.8 57.2 L552.4 58.8 L552.5 60 L552.3 61.8 L552.4 63.3 L552.5 63.8 L553 64.9 L553.2 65.9 L553.3 66.9 L553.3 67.3 L553.4 67.9 L553.9 69.6 L554 70.7 L554.4 70.9 L554.5 72.2 L554.5 74.6 L554.7 76.2 L554.8 77.2 L554.3 76.4 L554.5 77.7 L554.6 79.1 L555.3 81.2 L555.5 82 L555.6 84.1 L555.7 84.6 L555.9 85.8 L555.9 88.3 L556.1 89.6 L556.2 91.4 L556.8 91.3 L557 91.9 L557 94.6 L557.2 96.1 L557.4 97.3 L557.6 97.2 L557.3 99 L557.5 100.4 L558.1 101.5 L558.3 102 L558.7 102.7 L559 104 L559.3 105 L559.7 107.5 L560 110.5 L560.3 111.4 L560.6 111.7 L560.9 113.2 L561.5 112.1 L561.9 113 L562.4 114.5 L562.7 113.1 L563 110.9 L563.5 109.3 L564.1 107.3 L564.7 106 L565.4 104.6 L566.4 104.3 L567.2 103.7 L568 102.1 L568.5 100.1 L569.4 99.6 L570.2 101 L571.4 100.4 L572.8 98.9 L574 98.6 L575.3 97.5 L576 97.4 L576.7 97.8 L577.7 97.6 L578.3 98.8 L578.7 102.5 L579 100.7 L579 98.7 L579.5 97.1 L579.8 96.1 L580.3 96 L580.6 95.2 L580.8 93.5 L581.1 92.6 L581.4 91.4 L581.1 91.1 L581.4 90.5 L582.1 89.9 L582.4 88.8 L583 86.6 L583.4 85.4 L583.4 83.4 L583.7 82.4 L584 81.2 L584.3 79.7 L584.4 81 L584.7 80.2 L584.8 81.3 L584.6 84.3 L585.1 85.7 L585.1 86.2 L585.2 86.9 L585.2 85.4 L585.4 86.4 L585.5 87.9 L586.3 91.3 L586.5 92.6 L586.6 94.1 L586.8 95 L587 96.6 L586.6 100.1 L586.8 101.3 L587.2 99.4 L587.4 100.6 L587.6 101.3 L587.6 102.8 L587.5 103.6 L587.7 104.8 L587.9 105.9 L588.6 108.6 L588.7 110.2 L588.8 110.2 L589.2 111.9 L589.4 112.3 L589.6 113.5 L589.6 113.5 L589.8 114.6 L589.8 115.9 L590 116.8 L590.4 118.9 L590.5 119.8 L590.7 121.6 L590.9 122 L591.1 123.5 L590.9 124.6 L591.2 124 L591.6 122.9 L592.7 120.9 L593.1 119.8 L593 119.1 L593.8 117.3 L594.3 116.2 L594.4 117.3 L594.8 116.2 L595.7 114.1 L596.2 113.5 L596.3 111 L596.9 109.8 L597.5 110.1 L598 109.5 L599.1 106.8 L599.7 106.3 L600.3 105.5 L600.7 106.5 L601.4 105.8 L601.3 103.2 L602 102.4 L602.7 101.5 L604 101.9 L604.1 98.4 L604.8 97.4 L606.4 97.4 L607.2 96.8 L607.2 98.4 L607.2 99.6 L607.3 100.6 L607.1 102.6 L607.1 102.9 L607.2 103.9 L607.3 105.3 L607.5 107.8 L607.6 108.3 L608.1 107.9 L608.2 109 L608.3 110.1 L608 113 L608.1 114.4 L608.3 114.9 L608.4 116 L608.3 114.9 L607.8 117.6 L607.9 118.8 L608 119.8 L609 120.6 L609.1 122 L609.2 123.1 L608.9 124.1 L609 125.2 L609.1 126.7 L609.3 127.9 L609.4 129.5 L609.5 130.4 L610.1 132.5 L610.2 133.6 L610.1 132.6 L610.2 133.6 L610.4 134.9 L610.1 135.7 L610.3 136.6 L610.9 140.3 L611 141.6 L611.1 142.2 L611 146.2 L611.1 147.3 L611.3 148.2 L611.2 146 L611.7 148.4 L612 148.8 L612.2 149.6 L612.4 150.4 L612.6 152.2 L612.8 153.6 L613 154.1 L612.7 154.8 L612.9 156.4 L613.3 159.1 L613.5 160.5 L613.7 161.1 L614.1 161.8 L614.4 162.7 L614.4 163.9 L614.6 164.4 L614.8 165.8 L615.2 166.8 L615.5 167.9 L615.7 168.5 L615.6 168.9 L616.1 171.4 L616.4 169.9 L616.7 170.9 L617 172.4 L618 175.3 L617 176.8 L617.7 177.7 L618 178.9 L618.3 180.2 L618.8 181.1 L619.2 181.6 L619.5 182.9 L619.8 181.9 L620.1 182.9 L620.5 183.8 L621.3 185.8 L621.7 186.9 L621.8 188.7 L622.3 189.5 L622.7 190.7 L622.8 191.4 L623.2 192.1 L623.7 193.3 L625.1 195.6 L625.6 196.9 L626.1 197.6 L625.9 198.6 L626.4 200.1 L626.9 200.5 L627.5 202 L628 203 L628.8 203.5 L629.4 203.8 L630.2 205 L630.8 205.9 L631.5 207.3 L632 210.8 L632.7 211.7 L633.3 213.6 L634 214.6 L634.7 215.5 L636 214.6 L636.3 217 L637.2 217 L637.9 217.6 L638.4 219.5 L639.1 220.3 L640 219.5 L640.9 219.8 L641.8 220.8 L643 220.9 L644.1 220.2 L645.2 218.9 L646.4 218.3 L647.3 218.7 L648.1 219.1 L649.1 221.2 L649.4 222.5 L650 223 L650.7 224.2 L651.4 224.8 L652.3 225.7 L653.1 225.5 L654 226.8 L654.8 229.4 L655.8 230.1 L657.2 229.9 L658.2 230.1 L659.3 228.9 L660.4 229.5 L661.5 229.9 L662.7 230.2 L663.8 230.2 L664.9 230.6 L665.8 230.7 L666.8 231.5 L668 233.2 L669.1 234.2 L669.9 235.1 L671 235.5 L672.2 233.9 L673.3 234 L674.5 234.6 L675.6 234.9 L676.6 236.7 L677.7 237.2 L678.8 237 L679.7 236.7 L680.8 236.9 L681.9 237.6 L683 238.4 L684.1 238.5 L685.2 238.8 L686.2 239.1 L687.3 239.6 L688.1 239.8 L689.2 240.5 L691 240.3 L692.1 240.2 L693.2 240.2 L694.7 242.2 L695.1 241.4 L696.2 241.6 L697.4 242.4 L698.4 243 L699.5 242.8 L700.6 244.4 L701.7 245 L702.9 243 L704 243.2 L705.1 243.8 L706.2 245.7 L707.3 246.1 L707.3 430 L538.6 430 Z" fill="#fff" stroke="none"/>
<path d="M538.6 162.3 L538.7 161.1 L538.9 160 L538.6 158.2 L539.2 158.3 L539.3 157.2 L539.4 156.4 L539.6 155.1 L539.5 154.6 L539.6 153 L539.8 152.3 L540.6 149.5 L540.7 148.3 L540.7 147 L540.8 145.6 L540.9 143.9 L541 141.4 L541.1 140.1 L541.2 138.5 L541.3 136.9 L541.5 136.8 L541.7 136.7 L541.7 136 L541.8 135.1 L541.9 134.5 L541.7 132.8 L541.8 131.8 L542 130.3 L542.1 128.8 L542.3 127.4 L542.4 126 L542.5 125.1 L542.6 123.7 L542.6 123 L543.7 122.6 L543.8 121 L543.9 120.1 L542.9 119.7 L543 118.9 L543.6 118.3 L543.7 117.4 L543.8 116.6 L543.4 114.7 L543.5 113.1 L543.6 111.1 L543.3 110.6 L543.4 109.6 L543.5 108.6 L543.9 106.6 L544 105.8 L544 104 L544.3 103.6 L544.4 102.3 L544.4 101.2 L543.9 100.3 L544.2 98.5 L544.2 97.4 L544.2 96.6 L544.3 95.6 L544 94.1 L544 93 L544.6 90.4 L544.7 90 L544.3 90.5 L544.5 88.9 L544.6 87.6 L544.9 86.4 L545 85.3 L544.9 82.8 L545 81.8 L545 80.7 L544.9 82 L544.9 80.8 L545 79.9 L544.8 78.1 L544.8 77.1 L544.9 75.7 L545 73.1 L545.3 71.2 L545.4 69.7 L545.5 68.6 L545.7 68.8 L545.8 67.9 L545.6 68.8 L545.7 67.5 L545.8 65.9 L545.8 62.8 L545.9 61.8 L545.9 60.3 L546.1 60.7 L546.1 59.4 L546.1 58.1 L545.8 58 L545.9 56.7 L545.9 55.6 L545.9 52.1 L545.9 51.1 L546.1 53.3 L546.4 54.2 L546.8 56.1 L547.1 57.3 L547.4 58.3 L547.9 58.9 L548.2 60.2 L548.6 59.5 L548.8 58.2 L549.3 57.9 L549.5 56.8 L549.7 55.4 L549.4 55.2 L549.6 53.4 L549.8 52.1 L550.2 51.7 L550.4 50.1 L549.7 48 L550.3 46.8 L550.9 46.2 L551.1 45.4 L550.7 45.7 L551.3 44.2 L551.4 45.2 L551.3 47.3 L551.4 48.6 L551.5 49.5 L551.4 50.8 L551.5 51.7 L551.6 52.8 L552.1 55.2 L552.2 55.9 L552.5 54.9 L552.7 55.4 L552.8 57.2 L552.4 58.8 L552.5 60 L552.3 61.8 L552.4 63.3 L552.5 63.8 L553 64.9 L553.2 65.9 L553.3 66.9 L553.3 67.3 L553.4 67.9 L553.9 69.6 L554 70.7 L554.4 70.9 L554.5 72.2 L554.5 74.6 L554.7 76.2 L554.8 77.2 L554.3 76.4 L554.5 77.7 L554.6 79.1 L555.3 81.2 L555.5 82 L555.6 84.1 L555.7 84.6 L555.9 85.8 L555.9 88.3 L556.1 89.6 L556.2 91.4 L556.8 91.3 L557 91.9 L557 94.6 L557.2 96.1 L557.4 97.3 L557.6 97.2 L557.3 99 L557.5 100.4 L558.1 101.5 L558.3 102 L558.7 102.7 L559 104 L559.3 105 L559.7 107.5 L560 110.5 L560.3 111.4 L560.6 111.7 L560.9 113.2 L561.5 112.1 L561.9 113 L562.4 114.5 L562.7 113.1 L563 110.9 L563.5 109.3 L564.1 107.3 L564.7 106 L565.4 104.6 L566.4 104.3 L567.2 103.7 L568 102.1 L568.5 100.1 L569.4 99.6 L570.2 101 L571.4 100.4 L572.8 98.9 L574 98.6 L575.3 97.5 L576 97.4 L576.7 97.8 L577.7 97.6 L578.3 98.8 L578.7 102.5 L579 100.7 L579 98.7 L579.5 97.1 L579.8 96.1 L580.3 96 L580.6 95.2 L580.8 93.5 L581.1 92.6 L581.4 91.4 L581.1 91.1 L581.4 90.5 L582.1 89.9 L582.4 88.8 L583 86.6 L583.4 85.4 L583.4 83.4 L583.7 82.4 L584 81.2 L584.3 79.7 L584.4 81 L584.7 80.2 L584.8 81.3 L584.6 84.3 L585.1 85.7 L585.1 86.2 L585.2 86.9 L585.2 85.4 L585.4 86.4 L585.5 87.9 L586.3 91.3 L586.5 92.6 L586.6 94.1 L586.8 95 L587 96.6 L586.6 100.1 L586.8 101.3 L587.2 99.4 L587.4 100.6 L587.6 101.3 L587.6 102.8 L587.5 103.6 L587.7 104.8 L587.9 105.9 L588.6 108.6 L588.7 110.2 L588.8 110.2 L589.2 111.9 L589.4 112.3 L589.6 113.5 L589.6 113.5 L589.8 114.6 L589.8 115.9 L590 116.8 L590.4 118.9 L590.5 119.8 L590.7 121.6 L590.9 122 L591.1 123.5 L590.9 124.6 L591.2 124 L591.6 122.9 L592.7 120.9 L593.1 119.8 L593 119.1 L593.8 117.3 L594.3 116.2 L594.4 117.3 L594.8 116.2 L595.7 114.1 L596.2 113.5 L596.3 111 L596.9 109.8 L597.5 110.1 L598 109.5 L599.1 106.8 L599.7 106.3 L600.3 105.5 L600.7 106.5 L601.4 105.8 L601.3 103.2 L602 102.4 L602.7 101.5 L604 101.9 L604.1 98.4 L604.8 97.4 L606.4 97.4 L607.2 96.8 L607.2 98.4 L607.2 99.6 L607.3 100.6 L607.1 102.6 L607.1 102.9 L607.2 103.9 L607.3 105.3 L607.5 107.8 L607.6 108.3 L608.1 107.9 L608.2 109 L608.3 110.1 L608 113 L608.1 114.4 L608.3 114.9 L608.4 116 L608.3 114.9 L607.8 117.6 L607.9 118.8 L608 119.8 L609 120.6 L609.1 122 L609.2 123.1 L608.9 124.1 L609 125.2 L609.1 126.7 L609.3 127.9 L609.4 129.5 L609.5 130.4 L610.1 132.5 L610.2 133.6 L610.1 132.6 L610.2 133.6 L610.4 134.9 L610.1 135.7 L610.3 136.6 L610.9 140.3 L611 141.6 L611.1 142.2 L611 146.2 L611.1 147.3 L611.3 148.2 L611.2 146 L611.7 148.4 L612 148.8 L612.2 149.6 L612.4 150.4 L612.6 152.2 L612.8 153.6 L613 154.1 L612.7 154.8 L612.9 156.4 L613.3 159.1 L613.5 160.5 L613.7 161.1 L614.1 161.8 L614.4 162.7 L614.4 163.9 L614.6 164.4 L614.8 165.8 L615.2 166.8 L615.5 167.9 L615.7 168.5 L615.6 168.9 L616.1 171.4 L616.4 169.9 L616.7 170.9 L617 172.4 L618 175.3 L617 176.8 L617.7 177.7 L618 178.9 L618.3 180.2 L618.8 181.1 L619.2 181.6 L619.5 182.9 L619.8 181.9 L620.1 182.9 L620.5 183.8 L621.3 185.8 L621.7 186.9 L621.8 188.7 L622.3 189.5 L622.7 190.7 L622.8 191.4 L623.2 192.1 L623.7 193.3 L625.1 195.6 L625.6 196.9 L626.1 197.6 L625.9 198.6 L626.4 200.1 L626.9 200.5 L627.5 202 L628 203 L628.8 203.5 L629.4 203.8 L630.2 205 L630.8 205.9 L631.5 207.3 L632 210.8 L632.7 211.7 L633.3 213.6 L634 214.6 L634.7 215.5 L636 214.6 L636.3 217 L637.2 217 L637.9 217.6 L638.4 219.5 L639.1 220.3 L640 219.5 L640.9 219.8 L641.8 220.8 L643 220.9 L644.1 220.2 L645.2 218.9 L646.4 218.3 L647.3 218.7 L648.1 219.1 L649.1 221.2 L649.4 222.5 L650 223 L650.7 224.2 L651.4 224.8 L652.3 225.7 L653.1 225.5 L654 226.8 L654.8 229.4 L655.8 230.1 L657.2 229.9 L658.2 230.1 L659.3 228.9 L660.4 229.5 L661.5 229.9 L662.7 230.2 L663.8 230.2 L664.9 230.6 L665.8 230.7 L666.8 231.5 L668 233.2 L669.1 234.2 L669.9 235.1 L671 235.5 L672.2 233.9 L673.3 234 L674.5 234.6 L675.6 234.9 L676.6 236.7 L677.7 237.2 L678.8 237 L679.7 236.7 L680.8 236.9 L681.9 237.6 L683 238.4 L684.1 238.5 L685.2 238.8 L686.2 239.1 L687.3 239.6 L688.1 239.8 L689.2 240.5 L691 240.3 L692.1 240.2 L693.2 240.2 L694.7 242.2 L695.1 241.4 L696.2 241.6 L697.4 242.4 L698.4 243 L699.5 242.8 L700.6 244.4 L701.7 245 L702.9 243 L704 243.2 L705.1 243.8 L706.2 245.7 L707.3 246.1" fill="none" stroke="#000" stroke-width="3.0" stroke-linejoin="miter" stroke-miterlimit="3"/>
<path d="M532.7 171.4 L532.9 170.2 L533 169.1 L533.5 169.3 L533.7 168.1 L533.8 166.7 L533.6 165.4 L533.7 164.7 L533.9 163.8 L534.2 160.2 L534.4 158.7 L534.5 157.6 L534.2 157.7 L534.3 156.4 L535 157.2 L535.2 153.7 L535.3 152.6 L535.4 151.7 L535.4 151.5 L535.6 150.1 L535.7 149.1 L535.6 148.4 L535.9 146.2 L536 144.8 L536.1 143.4 L535.8 143.7 L535.8 142.7 L535.9 141.4 L535.9 139.5 L536.1 139.5 L536.2 138.6 L536.2 136.7 L536.6 133.2 L536.7 133.5 L536.8 131.9 L536.8 130.7 L536.9 130.8 L537 129.3 L536.9 126.2 L536.9 124.6 L537 123.8 L537.2 122.7 L537.3 121 L537.5 121.8 L537.6 120.7 L537.4 117.3 L537.4 116.4 L537.7 116.9 L537.8 116.4 L537.8 115.3 L537.5 112.9 L537.5 112 L537.6 110.9 L538.2 109 L538.2 108.2 L538.3 107.2 L538.2 105.2 L538.3 103.8 L538.8 103.6 L538.1 101.5 L538.2 100.2 L539.1 101.6 L539.2 100.7 L538.8 97 L538.9 95.3 L538.9 94.1 L538.7 93.5 L538.8 92.2 L538.9 91.6 L539 90.8 L539 89.9 L538.9 89 L538.9 87.2 L539 85.9 L539.1 85.2 L539.2 84.6 L539.2 83.9 L540.1 79.8 L540.1 78.7 L539.8 79 L539.9 78.1 L539.9 76.4 L539.7 75.4 L539.7 75.2 L539.9 73.2 L539.7 73.2 L539.8 71.7 L540 69.2 L540 68.5 L540.1 67.1 L540 67 L540.3 68.2 L540.7 69.5 L541.1 71.2 L541.4 71.8 L541.9 74.6 L542.2 75.6 L542.6 76 L542.2 76.9 L542.4 75.6 L542.6 74.3 L543.5 71.7 L543.6 70.4 L543.8 69.3 L544 69.9 L544.2 68.8 L544.1 67.2 L544.3 66.3 L544.8 65.7 L545 64.9 L545.3 64.5 L545.5 63.6 L545.7 64.9 L546.3 64.9 L546.5 66.5 L546.6 68.8 L546.4 69.1 L546.6 69.8 L547 71.1 L547.2 72.4 L547.2 74.3 L547.4 75.7 L547.6 76.3 L548 76.3 L548.2 76.9 L548.2 77.8 L548.4 79.2 L548.5 80.5 L549 80.9 L549.2 82.2 L549.3 83.2 L549.3 85.9 L549.4 87 L549.6 87.4 L550 89.3 L550.3 88.1 L550.5 88.9 L550.4 90.3 L550.6 91.5 L550.7 92.7 L550.5 94.8 L551 97.1 L551.2 98.2 L550.7 99.7 L550.9 100.6 L551.1 102 L551.9 101.8 L552.1 103.2 L552.4 104.3 L552.3 105.1 L552.6 106.3 L552.8 108 L553.5 108 L553.8 109.1 L554.1 110.1 L554.1 111.5 L554.4 112.8 L554.7 114.2 L555.1 116.7 L555.5 118.2 L555.8 119.4 L555.7 119.6 L556 120.5 L556.6 120.3 L556.8 118.5 L557.1 117.4 L558.1 118.4 L558.5 117.7 L559 116.6 L558.6 115.2 L559.2 114.3 L559.9 113.3 L561.3 111.2 L562.1 110.6 L562 109.9 L562.8 109.6 L563.8 107.7 L564.7 107.5 L565.7 106.9 L567.4 106 L568.6 105.1 L570 104.5 L570.9 103.6 L571.4 106.1 L572.1 106.9 L572.4 110.3 L573.1 111.3 L573.4 109.9 L573.7 108.9 L574.1 106.1 L574.4 104.1 L574.7 103.3 L575.5 103 L575.8 102 L575.6 101.6 L575.9 100.2 L575.6 99.8 L575.9 99.1 L576.2 98.3 L576.6 95 L576.9 93.7 L577.2 92.9 L578 92.5 L578.3 91.5 L578.6 90.4 L578.3 88.4 L578.6 86.9 L578.8 87.8 L579.2 88.7 L579.3 90 L579.5 91.2 L580.3 94.5 L580.4 95.7 L580.6 97.1 L580.3 97.7 L580.5 98.9 L580.7 99.9 L580.5 99.4 L580.7 100.6 L580.9 102 L581.7 104.1 L581.3 103.9 L581.5 105.4 L581.7 106.6 L581.9 107.6 L582.1 109.7 L582 110.5 L582.5 112.2 L582.6 113.4 L582.8 115 L582.8 115.7 L583 116.4 L583.2 117.3 L583.4 117.9 L583.6 119 L583.9 119.8 L584.2 120.3 L584.8 120.2 L585.1 121.6 L585.4 122.5 L585.8 123.9 L586.2 124.8 L586.6 126.7 L586.5 127.3 L587.1 126 L587.8 124.2 L588.4 122.9 L589.4 120.1 L590.1 119.7 L590.7 118.8 L591.3 117.7 L591.8 118.2 L592.1 116.4 L592.7 115.3 L593.3 114.3 L594.2 113.8 L594.7 112.9 L595.3 112 L595.8 111.3 L596.1 109.4 L596.7 109 L597.3 108.1 L598.3 108.6 L598.9 106.8 L599.4 103.3 L599.9 102.6 L600 102.2 L600.6 101.6 L601.1 100.7 L601.3 103.5 L601.4 104.1 L601.6 104.3 L601.6 105.7 L601.6 108.3 L601.7 109.4 L601.8 110.7 L601.9 110.5 L602 111.3 L602.1 112.5 L602.8 113.2 L602.9 113.7 L602.4 115.1 L602.4 116.1 L602.8 118.7 L602.9 119.7 L603 121.1 L603 124 L603.1 124.9 L603.2 122.4 L603.3 123.8 L603.7 127 L603.8 128.8 L604.1 127.6 L604.2 128.7 L604.2 130.5 L604.3 131.8 L603.7 133.4 L603.8 135.1 L604.8 138 L604.1 139.7 L604.2 140.8 L604.3 142.3 L604.9 141.5 L605 142.1 L605.6 144.5 L605.7 145.8 L605.5 143.7 L605.6 144.9 L605.8 146.1 L606 148 L606.2 149.5 L606.3 150.7 L606.6 152.7 L606.7 154.3 L606.7 157.4 L606.9 158.4 L607.1 159 L607.3 159.4 L607.5 160.5 L607.5 161.2 L607.7 161.1 L607.9 162.3 L608.1 163.2 L608.1 164.4 L608.3 165.2 L609.1 167.4 L608.9 167.3 L609.2 168 L609.6 170.9 L609.8 172.8 L610.1 173.3 L610.4 173.5 L610.7 174.9 L611.1 174.6 L611.4 176 L611.7 177.8 L611.8 181.7 L612.1 183.1 L612.4 184.1 L612.4 183.1 L612.7 183.7 L613.1 185.5 L613.4 186.1 L613.6 186.4 L613.9 187.5 L614.8 189.9 L615.1 190.7 L615.3 191.8 L615.7 192.9 L616.1 194.1 L616 195 L616.4 195.7 L617.3 196.9 L617.7 197.6 L618.1 198 L618.3 198.3 L618.7 199.7 L619.2 200.8 L619.7 201.6 L620.2 205 L621 203.8 L621.5 205.3 L621.6 205.4 L622.1 206.2 L622.6 209 L623.5 209.3 L624.1 210.3 L624.7 211.7 L625.3 211.6 L625.9 212.5 L626.5 213.6 L627.1 216.3 L627.8 217.9 L628.5 218.7 L629.2 218.1 L629.9 219.5 L630.7 219.5 L631.4 220.5 L632.2 223.5 L632.9 224.6 L633.7 225.8 L634.1 226.1 L634.9 227 L635.7 228 L636.7 226.2 L637.6 227.5 L638.5 227.6 L639.3 229.4 L640.4 229.2 L641.5 230.2 L642.4 229.6 L643.4 229.6 L644.2 229.8 L645.2 229.4 L645.9 230.5 L646.5 231.4 L647.3 234.1 L648.1 235.6 L648.9 236.2 L649.9 235.2 L650.8 236.2 L651.8 237 L652.2 236.8 L653.2 237.9 L654.2 238.3 L655.7 238.3 L656.8 238.6 L658 241.4 L659.1 241.9 L660 241.9 L661.1 241 L662.2 241.7 L663.1 242.9 L664.4 243.5 L665.5 244.4 L666.6 244.7 L667.6 244.4 L668.6 245.9 L669.7 246.2 L670.8 246.5 L671.8 243.8 L672.9 244.1 L674 244.6 L675 248.6 L676.1 248.8 L677.9 249.3 L679 249.4 L679.5 249.6 L680.6 249.7 L681.7 249.9 L683 248.3 L684.1 248.8 L685.2 249.3 L686.4 250.9 L687.5 250.8 L688.8 249.2 L689.9 249.3 L691 250 L692 251.6 L693.1 253.5 L694.2 254.3 L694.7 253.7 L695.8 254.2 L697 254.8 L698.3 254.9 L699.4 254.9 L700.5 256.1 L701.7 256.2 L702.8 255.5 L703.9 255.8 L703.9 430 L532.7 430 Z" fill="#fff" stroke="none"/>
<path d="M532.7 171.4 L532.9 170.2 L533 169.1 L533.5 169.3 L533.7 168.1 L533.8 166.7 L533.6 165.4 L533.7 164.7 L533.9 163.8 L534.2 160.2 L534.4 158.7 L534.5 157.6 L534.2 157.7 L534.3 156.4 L535 157.2 L535.2 153.7 L535.3 152.6 L535.4 151.7 L535.4 151.5 L535.6 150.1 L535.7 149.1 L535.6 148.4 L535.9 146.2 L536 144.8 L536.1 143.4 L535.8 143.7 L535.8 142.7 L535.9 141.4 L535.9 139.5 L536.1 139.5 L536.2 138.6 L536.2 136.7 L536.6 133.2 L536.7 133.5 L536.8 131.9 L536.8 130.7 L536.9 130.8 L537 129.3 L536.9 126.2 L536.9 124.6 L537 123.8 L537.2 122.7 L537.3 121 L537.5 121.8 L537.6 120.7 L537.4 117.3 L537.4 116.4 L537.7 116.9 L537.8 116.4 L537.8 115.3 L537.5 112.9 L537.5 112 L537.6 110.9 L538.2 109 L538.2 108.2 L538.3 107.2 L538.2 105.2 L538.3 103.8 L538.8 103.6 L538.1 101.5 L538.2 100.2 L539.1 101.6 L539.2 100.7 L538.8 97 L538.9 95.3 L538.9 94.1 L538.7 93.5 L538.8 92.2 L538.9 91.6 L539 90.8 L539 89.9 L538.9 89 L538.9 87.2 L539 85.9 L539.1 85.2 L539.2 84.6 L539.2 83.9 L540.1 79.8 L540.1 78.7 L539.8 79 L539.9 78.1 L539.9 76.4 L539.7 75.4 L539.7 75.2 L539.9 73.2 L539.7 73.2 L539.8 71.7 L540 69.2 L540 68.5 L540.1 67.1 L540 67 L540.3 68.2 L540.7 69.5 L541.1 71.2 L541.4 71.8 L541.9 74.6 L542.2 75.6 L542.6 76 L542.2 76.9 L542.4 75.6 L542.6 74.3 L543.5 71.7 L543.6 70.4 L543.8 69.3 L544 69.9 L544.2 68.8 L544.1 67.2 L544.3 66.3 L544.8 65.7 L545 64.9 L545.3 64.5 L545.5 63.6 L545.7 64.9 L546.3 64.9 L546.5 66.5 L546.6 68.8 L546.4 69.1 L546.6 69.8 L547 71.1 L547.2 72.4 L547.2 74.3 L547.4 75.7 L547.6 76.3 L548 76.3 L548.2 76.9 L548.2 77.8 L548.4 79.2 L548.5 80.5 L549 80.9 L549.2 82.2 L549.3 83.2 L549.3 85.9 L549.4 87 L549.6 87.4 L550 89.3 L550.3 88.1 L550.5 88.9 L550.4 90.3 L550.6 91.5 L550.7 92.7 L550.5 94.8 L551 97.1 L551.2 98.2 L550.7 99.7 L550.9 100.6 L551.1 102 L551.9 101.8 L552.1 103.2 L552.4 104.3 L552.3 105.1 L552.6 106.3 L552.8 108 L553.5 108 L553.8 109.1 L554.1 110.1 L554.1 111.5 L554.4 112.8 L554.7 114.2 L555.1 116.7 L555.5 118.2 L555.8 119.4 L555.7 119.6 L556 120.5 L556.6 120.3 L556.8 118.5 L557.1 117.4 L558.1 118.4 L558.5 117.7 L559 116.6 L558.6 115.2 L559.2 114.3 L559.9 113.3 L561.3 111.2 L562.1 110.6 L562 109.9 L562.8 109.6 L563.8 107.7 L564.7 107.5 L565.7 106.9 L567.4 106 L568.6 105.1 L570 104.5 L570.9 103.6 L571.4 106.1 L572.1 106.9 L572.4 110.3 L573.1 111.3 L573.4 109.9 L573.7 108.9 L574.1 106.1 L574.4 104.1 L574.7 103.3 L575.5 103 L575.8 102 L575.6 101.6 L575.9 100.2 L575.6 99.8 L575.9 99.1 L576.2 98.3 L576.6 95 L576.9 93.7 L577.2 92.9 L578 92.5 L578.3 91.5 L578.6 90.4 L578.3 88.4 L578.6 86.9 L578.8 87.8 L579.2 88.7 L579.3 90 L579.5 91.2 L580.3 94.5 L580.4 95.7 L580.6 97.1 L580.3 97.7 L580.5 98.9 L580.7 99.9 L580.5 99.4 L580.7 100.6 L580.9 102 L581.7 104.1 L581.3 103.9 L581.5 105.4 L581.7 106.6 L581.9 107.6 L582.1 109.7 L582 110.5 L582.5 112.2 L582.6 113.4 L582.8 115 L582.8 115.7 L583 116.4 L583.2 117.3 L583.4 117.9 L583.6 119 L583.9 119.8 L584.2 120.3 L584.8 120.2 L585.1 121.6 L585.4 122.5 L585.8 123.9 L586.2 124.8 L586.6 126.7 L586.5 127.3 L587.1 126 L587.8 124.2 L588.4 122.9 L589.4 120.1 L590.1 119.7 L590.7 118.8 L591.3 117.7 L591.8 118.2 L592.1 116.4 L592.7 115.3 L593.3 114.3 L594.2 113.8 L594.7 112.9 L595.3 112 L595.8 111.3 L596.1 109.4 L596.7 109 L597.3 108.1 L598.3 108.6 L598.9 106.8 L599.4 103.3 L599.9 102.6 L600 102.2 L600.6 101.6 L601.1 100.7 L601.3 103.5 L601.4 104.1 L601.6 104.3 L601.6 105.7 L601.6 108.3 L601.7 109.4 L601.8 110.7 L601.9 110.5 L602 111.3 L602.1 112.5 L602.8 113.2 L602.9 113.7 L602.4 115.1 L602.4 116.1 L602.8 118.7 L602.9 119.7 L603 121.1 L603 124 L603.1 124.9 L603.2 122.4 L603.3 123.8 L603.7 127 L603.8 128.8 L604.1 127.6 L604.2 128.7 L604.2 130.5 L604.3 131.8 L603.7 133.4 L603.8 135.1 L604.8 138 L604.1 139.7 L604.2 140.8 L604.3 142.3 L604.9 141.5 L605 142.1 L605.6 144.5 L605.7 145.8 L605.5 143.7 L605.6 144.9 L605.8 146.1 L606 148 L606.2 149.5 L606.3 150.7 L606.6 152.7 L606.7 154.3 L606.7 157.4 L606.9 158.4 L607.1 159 L607.3 159.4 L607.5 160.5 L607.5 161.2 L607.7 161.1 L607.9 162.3 L608.1 163.2 L608.1 164.4 L608.3 165.2 L609.1 167.4 L608.9 167.3 L609.2 168 L609.6 170.9 L609.8 172.8 L610.1 173.3 L610.4 173.5 L610.7 174.9 L611.1 174.6 L611.4 176 L611.7 177.8 L611.8 181.7 L612.1 183.1 L612.4 184.1 L612.4 183.1 L612.7 183.7 L613.1 185.5 L613.4 186.1 L613.6 186.4 L613.9 187.5 L614.8 189.9 L615.1 190.7 L615.3 191.8 L615.7 192.9 L616.1 194.1 L616 195 L616.4 195.7 L617.3 196.9 L617.7 197.6 L618.1 198 L618.3 198.3 L618.7 199.7 L619.2 200.8 L619.7 201.6 L620.2 205 L621 203.8 L621.5 205.3 L621.6 205.4 L622.1 206.2 L622.6 209 L623.5 209.3 L624.1 210.3 L624.7 211.7 L625.3 211.6 L625.9 212.5 L626.5 213.6 L627.1 216.3 L627.8 217.9 L628.5 218.7 L629.2 218.1 L629.9 219.5 L630.7 219.5 L631.4 220.5 L632.2 223.5 L632.9 224.6 L633.7 225.8 L634.1 226.1 L634.9 227 L635.7 228 L636.7 226.2 L637.6 227.5 L638.5 227.6 L639.3 229.4 L640.4 229.2 L641.5 230.2 L642.4 229.6 L643.4 229.6 L644.2 229.8 L645.2 229.4 L645.9 230.5 L646.5 231.4 L647.3 234.1 L648.1 235.6 L648.9 236.2 L649.9 235.2 L650.8 236.2 L651.8 237 L652.2 236.8 L653.2 237.9 L654.2 238.3 L655.7 238.3 L656.8 238.6 L658 241.4 L659.1 241.9 L660 241.9 L661.1 241 L662.2 241.7 L663.1 242.9 L664.4 243.5 L665.5 244.4 L666.6 244.7 L667.6 244.4 L668.6 245.9 L669.7 246.2 L670.8 246.5 L671.8 243.8 L672.9 244.1 L674 244.6 L675 248.6 L676.1 248.8 L677.9 249.3 L679 249.4 L679.5 249.6 L680.6 249.7 L681.7 249.9 L683 248.3 L684.1 248.8 L685.2 249.3 L686.4 250.9 L687.5 250.8 L688.8 249.2 L689.9 249.3 L691 250 L692 251.6 L693.1 253.5 L694.2 254.3 L694.7 253.7 L695.8 254.2 L697 254.8 L698.3 254.9 L699.4 254.9 L700.5 256.1 L701.7 256.2 L702.8 255.5 L703.9 255.8" fill="none" stroke="#000" stroke-width="3.0" stroke-linejoin="miter" stroke-miterlimit="3"/>
<path d="M527.4 179.6 L527.5 178.4 L527.7 177.3 L527.6 177.4 L528.3 173.7 L528.5 172.1 L528.2 172.7 L528.4 171.2 L528.5 170.3 L529.1 167 L529.3 165.8 L529.2 167.1 L529.3 165.5 L529.4 163.4 L529.5 161.9 L529.9 161.5 L530 160.6 L530.2 157.6 L530.4 156.8 L530.5 155.9 L530.6 154.7 L530.7 153.3 L530.5 153.9 L530.6 151.2 L530.7 150.9 L530.6 149.9 L530.6 148.8 L530.3 147.8 L530.4 146.7 L531.4 143.6 L531 144 L531 143.5 L531.1 142.1 L531.2 142.6 L531.3 141.4 L531.9 140 L532 138.9 L532.1 137.8 L531.9 137.3 L531.9 136.4 L532 135.3 L531.8 133.7 L531.9 132.3 L531.9 131 L531.9 128 L532 126.5 L532.1 125 L532.3 124.6 L532.5 123.9 L532.6 122.6 L532.7 121.1 L532.1 118.9 L532.2 118 L532.8 117.9 L532.9 116.7 L533 115.4 L533.1 113.9 L533.2 112.7 L532.9 113 L533.1 112.1 L533.2 110.7 L533.3 109.7 L533.4 106.4 L533.4 105.7 L533.5 105 L533.5 106.8 L533.6 105.6 L533.6 104.6 L533.8 102.4 L533.8 101.6 L533.9 100.4 L533.8 97.9 L533.8 96.4 L533.9 95.3 L533.9 95.8 L534 94.5 L533.8 92.3 L534.3 91.6 L534.3 90.2 L534.3 89.7 L534.4 89 L534.4 87.7 L534.5 85.4 L534.5 84.1 L534.5 83.5 L534.5 82.8 L534.6 82 L534.6 82 L534.7 80.5 L534.7 78.7 L534.9 76.1 L534.9 75.4 L535 74.4 L534.8 71.7 L534.9 70.1 L535.2 71.8 L535.6 76.8 L535.9 77.5 L536.2 78.2 L536.9 78 L537.3 79.7 L537.2 79.2 L537.5 80.6 L538.1 80 L538.3 78.8 L538.5 77.2 L538.4 76 L538.6 74.7 L538.8 73.9 L539 73 L539.2 72.7 L539.1 70.1 L539.3 68.8 L539.5 68.7 L539.7 67.4 L539.9 66 L539.9 64.9 L540.5 69 L540.7 70.1 L540.9 71.1 L541.2 70.4 L541.4 72.3 L541.7 74.7 L541.9 76.7 L542.2 76.3 L542.4 77.4 L542.4 79.7 L542.6 80.2 L542.1 81 L542.3 82.7 L542.5 83.9 L543.5 85.8 L543.7 87.5 L543 84.7 L543.2 85.2 L543.4 86 L543.9 88.9 L544.2 92.6 L544.3 93.9 L544.5 95.1 L544.5 95 L544.7 96.7 L545 96.5 L545.2 97.8 L545.4 99.2 L545.1 99.5 L545.3 100.6 L545.4 102 L546.5 104.6 L546.7 105.7 L546.3 106.2 L546.9 105.1 L547.1 105.6 L547.4 109.6 L547.6 111.2 L547.6 112.2 L547.6 112.9 L547.8 114.1 L548 114.6 L548 115.3 L548.2 116.4 L549 118.9 L549.2 119.2 L549.4 120.5 L549.4 121.4 L549.7 122 L550.1 123.1 L550.4 124.7 L550.6 126.5 L551.1 126.5 L551.4 127.3 L551.7 128.2 L551.3 131.4 L551.6 132.5 L551.9 133.5 L552.4 130.3 L552.5 129.1 L552.7 127.8 L552.9 128.5 L553.2 127 L553.5 125.5 L553.7 120.7 L554.1 120 L554.6 118.9 L554.6 121.5 L555.2 120.9 L555.8 119.9 L557.2 116.2 L557.8 115.2 L557.8 114.5 L558.4 113.7 L559.2 112.9 L560.7 112.9 L562 112.6 L563.3 112.3 L564.6 113.9 L565.5 113.6 L566.2 113.8 L566.9 114.9 L567.6 116.3 L568 117.2 L568.3 116 L568.7 114.3 L568.9 114.6 L569.2 113.7 L569.4 112 L569.7 110.9 L570 109.6 L570 109.1 L570.3 108 L571.1 107.8 L571.4 106 L571.6 104.4 L571.8 100.5 L572.1 98.9 L572.3 97.7 L572.8 99.5 L573.1 98.6 L573.3 97.2 L573.3 94.1 L573.6 93.5 L573.9 92.9 L574.1 94.1 L574.2 95.4 L574 95.4 L574.1 96.6 L574.3 97.6 L574.8 100.6 L575.1 102.7 L575.3 103.5 L575.4 104.8 L575.5 105.5 L575.7 106.7 L575.9 107.3 L576.3 110.1 L576.3 110 L576.5 111 L576.6 112.1 L576.6 112.8 L576.8 114.5 L577 115.5 L577.6 113.7 L577.5 117.4 L577.7 118.2 L577.8 119.1 L577.8 119.4 L578.1 121 L578.3 121.8 L578.5 123.5 L578.7 124.2 L578.9 125.4 L579.6 127.8 L579.8 129.7 L579.7 129.9 L579.9 131.4 L580.2 131.7 L580.4 132.7 L580.4 135.6 L580.6 137.3 L580.8 137.2 L581 138.2 L581.2 139.3 L581.1 141.8 L581.3 143.4 L581.5 144.7 L582 144.8 L582.2 143.5 L582.3 142.8 L582.5 141.7 L582.4 139.5 L582.8 138.6 L583.2 136 L583.6 134.9 L583.9 134.2 L584.3 135.6 L584.7 134.5 L585.1 134.1 L585.2 131.2 L585.7 130 L586.2 129 L587.3 127.2 L587.8 126.4 L588 126.3 L588.6 125.3 L589.5 124.2 L590.1 123.5 L590.5 124.2 L591.2 123 L592.2 120.7 L593.1 119.5 L594 118.1 L594.5 115.6 L595.6 114.8 L596.6 114.5 L597.1 116.8 L597.2 118.2 L597.3 119.6 L596.6 120.5 L596.8 121.6 L596.9 123 L597.6 123.4 L597.7 124.6 L597.4 126.2 L597.5 127.3 L597.7 129.2 L598.2 128.3 L598.3 130.1 L598.7 132.9 L598.6 133.8 L598.8 135 L598.9 136.1 L599.2 137.3 L599.3 138.2 L599.6 140 L599.7 141.1 L599.9 141.9 L599.4 142.1 L599.5 143.8 L600 145.5 L599.3 144.2 L599.5 145.4 L599.6 146.5 L600.5 149 L600.7 150.3 L600.5 149.8 L600.6 151 L601.1 153.2 L600.9 154.6 L602 154.8 L602.2 155.9 L601.5 155.9 L601.7 156.8 L602.1 159.4 L602.3 160.8 L602.2 160.8 L602.4 162.1 L603.1 163 L603.3 164.1 L603.4 165.3 L603.7 167.2 L603.9 168.6 L604 170.8 L604.2 172.7 L604.1 171.9 L604.4 173.1 L604.6 174.6 L604.8 177.2 L605.6 177.2 L605.9 178.2 L605.9 180.7 L606.2 182.1 L606.4 183.3 L606.4 183.5 L606.7 184.4 L607.4 183.4 L607.4 186.5 L607.7 187.3 L608 188 L608.9 189.9 L609.2 190.9 L608.8 191.5 L609.3 191.7 L609.7 193.1 L610 194.4 L610.6 197.3 L610.9 198.5 L611.2 201 L611.5 201.7 L612.2 200.1 L612.2 201.6 L612.6 204 L613 205.3 L613.4 206.3 L613.6 207.3 L614.3 207 L614.8 208 L615.2 209 L615.6 209 L616 210 L616.5 211.2 L617.3 212.6 L617.4 211.4 L617.9 212.9 L618.4 214.1 L618.8 218.6 L619.3 220.5 L620.2 221.6 L620.8 220.8 L621.4 222 L622.1 222.8 L622.8 225.4 L623.5 226.1 L623.7 224.7 L624.4 225.6 L625.1 226.7 L626.5 229.5 L626.8 230.8 L627.5 231.5 L628.4 231.1 L629.2 231.9 L629.9 233.2 L630.5 234.6 L631.2 235.5 L632 236.2 L632.5 237.1 L633.7 239.8 L634.6 240.2 L635.5 240.7 L636.1 239.3 L637.3 238.4 L638.4 237.9 L639.6 239.5 L640.7 236.8 L641.5 237.3 L642.2 237.8 L642.8 239.5 L643.5 240.7 L644.4 243 L645.1 244.7 L645.6 244.5 L646.4 244.9 L647.4 245.6 L648.5 246.8 L649.6 246.3 L650.6 246.8 L651.7 247.6 L652.5 248.3 L653.6 249.2 L654.6 249.1 L655.7 249.6 L656.7 250.6 L657.8 251.3 L658.9 251 L660.1 251.7 L661.1 252.4 L661.7 252.7 L663.4 252.8 L664.5 252.9 L665.6 253.2 L666.9 255.7 L668 255.9 L669.1 256.1 L669.9 256.5 L670.9 255.8 L672 255.8 L672.6 255 L673.7 255.2 L675.3 256.9 L676.7 256.6 L677.8 256.7 L678.6 255.8 L679.7 256.7 L681.2 256.9 L682.3 256.9 L683.4 257 L684.1 260.3 L685.3 260.1 L686.4 258.6 L687.6 259.6 L688.7 259.9 L689.7 258.6 L690.8 259 L691.9 259.5 L693.3 263 L694.2 261.1 L695.3 261.3 L696.5 260.3 L697.6 260.7 L698 262.2 L699.7 264.3 L700.8 264.6 L700.8 430 L527.4 430 Z" fill="#fff" stroke="none"/>
<path d="M527.4 179.6 L527.5 178.4 L527.7 177.3 L527.6 177.4 L528.3 173.7 L528.5 172.1 L528.2 172.7 L528.4 171.2 L528.5 170.3 L529.1 167 L529.3 165.8 L529.2 167.1 L529.3 165.5 L529.4 163.4 L529.5 161.9 L529.9 161.5 L530 160.6 L530.2 157.6 L530.4 156.8 L530.5 155.9 L530.6 154.7 L530.7 153.3 L530.5 153.9 L530.6 151.2 L530.7 150.9 L530.6 149.9 L530.6 148.8 L530.3 147.8 L530.4 146.7 L531.4 143.6 L531 144 L531 143.5 L531.1 142.1 L531.2 142.6 L531.3 141.4 L531.9 140 L532 138.9 L532.1 137.8 L531.9 137.3 L531.9 136.4 L532 135.3 L531.8 133.7 L531.9 132.3 L531.9 131 L531.9 128 L532 126.5 L532.1 125 L532.3 124.6 L532.5 123.9 L532.6 122.6 L532.7 121.1 L532.1 118.9 L532.2 118 L532.8 117.9 L532.9 116.7 L533 115.4 L533.1 113.9 L533.2 112.7 L532.9 113 L533.1 112.1 L533.2 110.7 L533.3 109.7 L533.4 106.4 L533.4 105.7 L533.5 105 L533.5 106.8 L533.6 105.6 L533.6 104.6 L533.8 102.4 L533.8 101.6 L533.9 100.4 L533.8 97.9 L533.8 96.4 L533.9 95.3 L533.9 95.8 L534 94.5 L533.8 92.3 L534.3 91.6 L534.3 90.2 L534.3 89.7 L534.4 89 L534.4 87.7 L534.5 85.4 L534.5 84.1 L534.5 83.5 L534.5 82.8 L534.6 82 L534.6 82 L534.7 80.5 L534.7 78.7 L534.9 76.1 L534.9 75.4 L535 74.4 L534.8 71.7 L534.9 70.1 L535.2 71.8 L535.6 76.8 L535.9 77.5 L536.2 78.2 L536.9 78 L537.3 79.7 L537.2 79.2 L537.5 80.6 L538.1 80 L538.3 78.8 L538.5 77.2 L538.4 76 L538.6 74.7 L538.8 73.9 L539 73 L539.2 72.7 L539.1 70.1 L539.3 68.8 L539.5 68.7 L539.7 67.4 L539.9 66 L539.9 64.9 L540.5 69 L540.7 70.1 L540.9 71.1 L541.2 70.4 L541.4 72.3 L541.7 74.7 L541.9 76.7 L542.2 76.3 L542.4 77.4 L542.4 79.7 L542.6 80.2 L542.1 81 L542.3 82.7 L542.5 83.9 L543.5 85.8 L543.7 87.5 L543 84.7 L543.2 85.2 L543.4 86 L543.9 88.9 L544.2 92.6 L544.3 93.9 L544.5 95.1 L544.5 95 L544.7 96.7 L545 96.5 L545.2 97.8 L545.4 99.2 L545.1 99.5 L545.3 100.6 L545.4 102 L546.5 104.6 L546.7 105.7 L546.3 106.2 L546.9 105.1 L547.1 105.6 L547.4 109.6 L547.6 111.2 L547.6 112.2 L547.6 112.9 L547.8 114.1 L548 114.6 L548 115.3 L548.2 116.4 L549 118.9 L549.2 119.2 L549.4 120.5 L549.4 121.4 L549.7 122 L550.1 123.1 L550.4 124.7 L550.6 126.5 L551.1 126.5 L551.4 127.3 L551.7 128.2 L551.3 131.4 L551.6 132.5 L551.9 133.5 L552.4 130.3 L552.5 129.1 L552.7 127.8 L552.9 128.5 L553.2 127 L553.5 125.5 L553.7 120.7 L554.1 120 L554.6 118.9 L554.6 121.5 L555.2 120.9 L555.8 119.9 L557.2 116.2 L557.8 115.2 L557.8 114.5 L558.4 113.7 L559.2 112.9 L560.7 112.9 L562 112.6 L563.3 112.3 L564.6 113.9 L565.5 113.6 L566.2 113.8 L566.9 114.9 L567.6 116.3 L568 117.2 L568.3 116 L568.7 114.3 L568.9 114.6 L569.2 113.7 L569.4 112 L569.7 110.9 L570 109.6 L570 109.1 L570.3 108 L571.1 107.8 L571.4 106 L571.6 104.4 L571.8 100.5 L572.1 98.9 L572.3 97.7 L572.8 99.5 L573.1 98.6 L573.3 97.2 L573.3 94.1 L573.6 93.5 L573.9 92.9 L574.1 94.1 L574.2 95.4 L574 95.4 L574.1 96.6 L574.3 97.6 L574.8 100.6 L575.1 102.7 L575.3 103.5 L575.4 104.8 L575.5 105.5 L575.7 106.7 L575.9 107.3 L576.3 110.1 L576.3 110 L576.5 111 L576.6 112.1 L576.6 112.8 L576.8 114.5 L577 115.5 L577.6 113.7 L577.5 117.4 L577.7 118.2 L577.8 119.1 L577.8 119.4 L578.1 121 L578.3 121.8 L578.5 123.5 L578.7 124.2 L578.9 125.4 L579.6 127.8 L579.8 129.7 L579.7 129.9 L579.9 131.4 L580.2 131.7 L580.4 132.7 L580.4 135.6 L580.6 137.3 L580.8 137.2 L581 138.2 L581.2 139.3 L581.1 141.8 L581.3 143.4 L581.5 144.7 L582 144.8 L582.2 143.5 L582.3 142.8 L582.5 141.7 L582.4 139.5 L582.8 138.6 L583.2 136 L583.6 134.9 L583.9 134.2 L584.3 135.6 L584.7 134.5 L585.1 134.1 L585.2 131.2 L585.7 130 L586.2 129 L587.3 127.2 L587.8 126.4 L588 126.3 L588.6 125.3 L589.5 124.2 L590.1 123.5 L590.5 124.2 L591.2 123 L592.2 120.7 L593.1 119.5 L594 118.1 L594.5 115.6 L595.6 114.8 L596.6 114.5 L597.1 116.8 L597.2 118.2 L597.3 119.6 L596.6 120.5 L596.8 121.6 L596.9 123 L597.6 123.4 L597.7 124.6 L597.4 126.2 L597.5 127.3 L597.7 129.2 L598.2 128.3 L598.3 130.1 L598.7 132.9 L598.6 133.8 L598.8 135 L598.9 136.1 L599.2 137.3 L599.3 138.2 L599.6 140 L599.7 141.1 L599.9 141.9 L599.4 142.1 L599.5 143.8 L600 145.5 L599.3 144.2 L599.5 145.4 L599.6 146.5 L600.5 149 L600.7 150.3 L600.5 149.8 L600.6 151 L601.1 153.2 L600.9 154.6 L602 154.8 L602.2 155.9 L601.5 155.9 L601.7 156.8 L602.1 159.4 L602.3 160.8 L602.2 160.8 L602.4 162.1 L603.1 163 L603.3 164.1 L603.4 165.3 L603.7 167.2 L603.9 168.6 L604 170.8 L604.2 172.7 L604.1 171.9 L604.4 173.1 L604.6 174.6 L604.8 177.2 L605.6 177.2 L605.9 178.2 L605.9 180.7 L606.2 182.1 L606.4 183.3 L606.4 183.5 L606.7 184.4 L607.4 183.4 L607.4 186.5 L607.7 187.3 L608 188 L608.9 189.9 L609.2 190.9 L608.8 191.5 L609.3 191.7 L609.7 193.1 L610 194.4 L610.6 197.3 L610.9 198.5 L611.2 201 L611.5 201.7 L612.2 200.1 L612.2 201.6 L612.6 204 L613 205.3 L613.4 206.3 L613.6 207.3 L614.3 207 L614.8 208 L615.2 209 L615.6 209 L616 210 L616.5 211.2 L617.3 212.6 L617.4 211.4 L617.9 212.9 L618.4 214.1 L618.8 218.6 L619.3 220.5 L620.2 221.6 L620.8 220.8 L621.4 222 L622.1 222.8 L622.8 225.4 L623.5 226.1 L623.7 224.7 L624.4 225.6 L625.1 226.7 L626.5 229.5 L626.8 230.8 L627.5 231.5 L628.4 231.1 L629.2 231.9 L629.9 233.2 L630.5 234.6 L631.2 235.5 L632 236.2 L632.5 237.1 L633.7 239.8 L634.6 240.2 L635.5 240.7 L636.1 239.3 L637.3 238.4 L638.4 237.9 L639.6 239.5 L640.7 236.8 L641.5 237.3 L642.2 237.8 L642.8 239.5 L643.5 240.7 L644.4 243 L645.1 244.7 L645.6 244.5 L646.4 244.9 L647.4 245.6 L648.5 246.8 L649.6 246.3 L650.6 246.8 L651.7 247.6 L652.5 248.3 L653.6 249.2 L654.6 249.1 L655.7 249.6 L656.7 250.6 L657.8 251.3 L658.9 251 L660.1 251.7 L661.1 252.4 L661.7 252.7 L663.4 252.8 L664.5 252.9 L665.6 253.2 L666.9 255.7 L668 255.9 L669.1 256.1 L669.9 256.5 L670.9 255.8 L672 255.8 L672.6 255 L673.7 255.2 L675.3 256.9 L676.7 256.6 L677.8 256.7 L678.6 255.8 L679.7 256.7 L681.2 256.9 L682.3 256.9 L683.4 257 L684.1 260.3 L685.3 260.1 L686.4 258.6 L687.6 259.6 L688.7 259.9 L689.7 258.6 L690.8 259 L691.9 259.5 L693.3 263 L694.2 261.1 L695.3 261.3 L696.5 260.3 L697.6 260.7 L698 262.2 L699.7 264.3 L700.8 264.6" fill="none" stroke="#000" stroke-width="3.0" stroke-linejoin="miter" stroke-miterlimit="3"/>
<path d="M521.4 188.7 L521.6 187.6 L521.8 186.4 L521.7 185.6 L521.9 184.7 L522 183.1 L522.5 181.7 L522.7 180.6 L522.8 179.3 L522.8 179.5 L522.9 177.9 L522.9 174.9 L523 174.2 L523.2 173.4 L523.7 172.4 L523.7 171.7 L523.8 171 L523.9 169.3 L524 168.1 L524 167.1 L524.1 165.7 L524.2 163.7 L524.3 162.3 L524.4 161.1 L524.7 161.1 L524.8 159.9 L524.8 159.4 L524.9 158.1 L525 157.6 L525.2 155.3 L525.4 155.8 L525.5 154.6 L525.5 153.7 L525.5 151.9 L525.6 150.6 L525.6 149.2 L525.4 147.2 L525.5 145.9 L525.5 145 L525.5 143 L525.6 141.6 L525.8 141.2 L525.9 139.8 L525.9 138.8 L526.1 139.9 L526.1 138.4 L526.6 134.2 L526.6 132.8 L526.4 133.6 L526.5 133 L526.6 130.7 L526.6 130 L526.7 130.4 L526.7 129.4 L526.2 125.2 L526.2 123.9 L526.3 122.9 L526.9 123.1 L526.9 121.8 L527.1 120.6 L527.1 119.3 L526.9 118.3 L527.6 117.6 L527.6 116.7 L527.7 115.5 L527.1 113.9 L527.2 113 L527.2 111.5 L527.3 110.3 L527.3 108.7 L527.9 107.4 L527.9 106 L528 104.3 L528.2 102.2 L528.2 100.7 L528.2 101.1 L527.8 98.5 L527.9 96.5 L527.9 96.2 L528.1 97.9 L528.2 97.1 L528.2 96.1 L528.1 93.9 L528.2 93.1 L528.2 92.6 L528.9 91.6 L528.9 90.9 L529 89.2 L528.1 89.4 L528.7 87.1 L528.8 85.5 L528.8 84 L529.2 81.6 L529.2 80.2 L529.5 81.8 L529.8 83.4 L530.1 85.1 L530.2 88.1 L530.5 89.2 L530.8 90.2 L530.8 90 L531.1 90.9 L531.3 90.1 L532 89.7 L532.2 88.9 L532.5 86.7 L532.7 85.2 L532.9 83.8 L532.9 83.7 L533.2 81.9 L533.4 80.8 L533.5 79.3 L533.7 78.5 L533.9 76.8 L534.6 78.3 L535.1 78.9 L535.3 79.6 L535.6 80.5 L535.6 80.6 L535.9 81.6 L536.1 82.6 L536.6 83.2 L536.8 84.7 L537.1 85.6 L537.4 88.1 L537.6 89.3 L537.8 90.6 L538 91.5 L537.9 93 L538.2 96.3 L538.4 96.7 L538.6 97.6 L538.2 97.1 L538.4 98.6 L539.1 100.1 L539.3 100.9 L539.4 103.4 L539.5 104.5 L540 104.3 L540.2 105.4 L540 109.1 L540.2 110.8 L540.8 111.4 L541 112.5 L541.3 112.2 L541.1 112.9 L541.3 113.8 L541.8 115.2 L542 116.4 L542.2 117.6 L541.9 118.2 L542.1 118.9 L542.3 120.3 L542.9 119.6 L543.1 120.5 L543.5 124.5 L543.7 125.6 L543.8 128.9 L544 129.7 L544.1 129.1 L544.5 129.6 L544.7 131 L545 132.6 L545.4 132.7 L545.7 133.9 L545.6 137.4 L546.1 136.8 L546.3 137.8 L546.1 139.4 L546.3 141.1 L547 142.5 L547.3 143.3 L547 143.1 L547.1 141.5 L547.2 139.7 L547.5 136.9 L547.7 135.4 L547.9 135.8 L548.3 132.5 L548.6 131.2 L548.6 129.8 L549 129.2 L550.3 129.6 L550.7 128.5 L550.7 125.9 L551.2 125.1 L551.7 124 L552.5 123.4 L553.1 123.1 L553.9 120.9 L554.6 120.8 L555.6 120.5 L556.6 119.2 L557.9 118.9 L559.1 118.2 L559.7 119.9 L560.4 120.1 L561.3 120.4 L561.8 121.4 L561.9 123.4 L562.7 121.5 L563.2 121.4 L563.6 120.1 L564.2 120.6 L564.9 117.3 L564.9 117 L565.4 114.6 L565.8 113.3 L566 113.6 L566.4 111.8 L567 110.4 L567.4 109.5 L567.8 108.2 L568.5 107.5 L568.8 108.4 L569.1 111.3 L568.5 111.2 L569.6 111.4 L569.9 112.6 L570.1 115 L570.3 118.6 L570.6 119.4 L570.8 118 L571.1 119.4 L571.4 120.8 L571.4 123.1 L571.7 125.7 L571.9 126.5 L572.1 127.7 L572.4 129 L572.6 130.1 L572.9 130.3 L573.1 131.2 L573.3 132.8 L573.6 134.1 L573.8 135.2 L574 136.1 L573.8 139.4 L574.1 141.1 L574.9 140.2 L575 141.1 L575.3 142.4 L575.2 142.1 L575.9 144.3 L576.2 145.9 L576.5 147.3 L576.6 149.2 L576.9 150.4 L577.3 149.2 L577.6 148.6 L578.2 147.2 L578.6 145.1 L579 143.8 L579.5 143 L579.9 143 L580.7 141.2 L581.1 139.5 L581.6 139.6 L582 138.3 L582.2 137.4 L582.7 134.8 L583.1 133.4 L583.6 132.1 L583.9 132.3 L584.4 131.3 L584.8 130.2 L585.3 129.4 L585.4 126.9 L585.9 125.8 L586.4 125 L587.2 123.8 L587.7 123.5 L588.6 122.9 L589.1 121.6 L589.6 120.8 L589.8 120.2 L590.3 119.6 L590.9 117.3 L591.4 116.3 L591.7 117.5 L591.8 118.5 L591.9 119.5 L591.1 123.5 L591.2 124.7 L592 121.2 L592.1 122.6 L591.6 124.6 L591.7 125.9 L591.8 126.6 L591.9 127.9 L592 128.7 L592.3 130.8 L592.4 133 L592.5 134.3 L592.7 133.7 L592.8 135.1 L593.3 136.4 L593.4 137.6 L593.2 139.7 L593.4 141 L593.5 142 L593.5 143.8 L593.6 144.9 L593.8 143.6 L594 144.7 L593.9 144.3 L594.1 145.3 L594.8 148.9 L594.9 149.7 L595.1 150.6 L594.4 153.3 L594.5 153.9 L594.7 155.2 L595.4 156.1 L595.6 157.2 L595.7 158.8 L595.8 157.3 L595.8 159.3 L596 160 L596.2 160.9 L597 163.4 L597.1 164.8 L596.9 165.7 L597.1 167.2 L597.4 167.9 L597.6 169.4 L597.8 170.2 L597.6 170.8 L597.8 172.7 L598.8 175.2 L599 176.6 L598.5 177.1 L598.8 177.6 L599.1 178.3 L599.4 178.4 L599.6 179.7 L599.8 183.5 L599.5 181.7 L600.4 183.4 L600.7 184.5 L601 185.3 L600.9 188.1 L601.2 189.5 L601.4 190.3 L601.9 191.1 L602.2 192.8 L602.3 194.5 L602.8 196.4 L603.1 197.7 L603.3 199 L603.6 199.7 L603.9 200.7 L604 199.3 L604.3 200.1 L604.9 201 L605.3 201.9 L605.6 203.5 L606.2 206.5 L606.6 207.5 L606.9 208.8 L607.1 208.6 L607.5 210.1 L607.9 210.5 L608.2 212.7 L608.6 213.4 L609.5 214.5 L609.9 215.9 L609.8 216.8 L610.2 217.7 L610.7 218.8 L611.1 220.7 L611.5 222.1 L612 223.2 L612.5 223 L613 224.2 L613.7 225.5 L614.2 226.8 L614.2 229 L614.7 230 L615.3 230.9 L616.7 231 L617.3 231.9 L617.9 232.4 L618.2 234.3 L618.9 235.1 L619.4 236.6 L620.6 236.2 L621.3 236.8 L622 237.6 L622.6 237.7 L623.3 238.6 L624.2 238 L624.9 239 L625.7 240.4 L626.4 241.1 L627.1 242 L628.1 243.3 L628.9 244.6 L629.2 244.4 L630 245.3 L631.2 249 L632.1 249.7 L633 250.2 L634.2 249.7 L635.1 245.3 L636.2 245.4 L637.3 246.7 L638.1 247.7 L638.8 248.1 L638.9 247.9 L639.6 249.8 L640.5 254.6 L641.8 251.5 L642.6 251.4 L643.5 251.6 L643.8 254.8 L644.8 255.3 L645.8 255.3 L647.1 256.3 L648.1 255.2 L649.2 255.3 L650.4 258.2 L652 260.7 L653.1 261.4 L654.2 262.1 L654.6 260.8 L655.6 259.4 L656.7 260 L657.8 261.2 L658.9 263.3 L660 264.2 L661.1 264.1 L661.8 264 L662.9 264 L664 264.2 L665.7 264.1 L666.1 263.6 L667.3 263.2 L668.4 264 L669.7 266.4 L670.8 266.6 L671.9 267.1 L673 264.8 L674.2 266.8 L675.3 266.8 L676.3 269.7 L677.4 269.4 L678.6 266.9 L679.6 267.8 L680.7 267.8 L681.9 269.9 L683 270.4 L684.1 270 L685.1 270.9 L686.1 270.3 L687.2 270.7 L688.3 271.5 L689.3 274.1 L690.4 274.4 L691.5 274.6 L693.2 272.1 L694.3 272.1 L695.4 273 L696.2 274.1 L697.3 274.4 L697.3 430 L521.4 430 Z" fill="#fff" stroke="none"/>
<path d="M521.4 188.7 L521.6 187.6 L521.8 186.4 L521.7 185.6 L521.9 184.7 L522 183.1 L522.5 181.7 L522.7 180.6 L522.8 179.3 L522.8 179.5 L522.9 177.9 L522.9 174.9 L523 174.2 L523.2 173.4 L523.7 172.4 L523.7 171.7 L523.8 171 L523.9 169.3 L524 168.1 L524 167.1 L524.1 165.7 L524.2 163.7 L524.3 162.3 L524.4 161.1 L524.7 161.1 L524.8 159.9 L524.8 159.4 L524.9 158.1 L525 157.6 L525.2 155.3 L525.4 155.8 L525.5 154.6 L525.5 153.7 L525.5 151.9 L525.6 150.6 L525.6 149.2 L525.4 147.2 L525.5 145.9 L525.5 145 L525.5 143 L525.6 141.6 L525.8 141.2 L525.9 139.8 L525.9 138.8 L526.1 139.9 L526.1 138.4 L526.6 134.2 L526.6 132.8 L526.4 133.6 L526.5 133 L526.6 130.7 L526.6 130 L526.7 130.4 L526.7 129.4 L526.2 125.2 L526.2 123.9 L526.3 122.9 L526.9 123.1 L526.9 121.8 L527.1 120.6 L527.1 119.3 L526.9 118.3 L527.6 117.6 L527.6 116.7 L527.7 115.5 L527.1 113.9 L527.2 113 L527.2 111.5 L527.3 110.3 L527.3 108.7 L527.9 107.4 L527.9 106 L528 104.3 L528.2 102.2 L528.2 100.7 L528.2 101.1 L527.8 98.5 L527.9 96.5 L527.9 96.2 L528.1 97.9 L528.2 97.1 L528.2 96.1 L528.1 93.9 L528.2 93.1 L528.2 92.6 L528.9 91.6 L528.9 90.9 L529 89.2 L528.1 89.4 L528.7 87.1 L528.8 85.5 L528.8 84 L529.2 81.6 L529.2 80.2 L529.5 81.8 L529.8 83.4 L530.1 85.1 L530.2 88.1 L530.5 89.2 L530.8 90.2 L530.8 90 L531.1 90.9 L531.3 90.1 L532 89.7 L532.2 88.9 L532.5 86.7 L532.7 85.2 L532.9 83.8 L532.9 83.7 L533.2 81.9 L533.4 80.8 L533.5 79.3 L533.7 78.5 L533.9 76.8 L534.6 78.3 L535.1 78.9 L535.3 79.6 L535.6 80.5 L535.6 80.6 L535.9 81.6 L536.1 82.6 L536.6 83.2 L536.8 84.7 L537.1 85.6 L537.4 88.1 L537.6 89.3 L537.8 90.6 L538 91.5 L537.9 93 L538.2 96.3 L538.4 96.7 L538.6 97.6 L538.2 97.1 L538.4 98.6 L539.1 100.1 L539.3 100.9 L539.4 103.4 L539.5 104.5 L540 104.3 L540.2 105.4 L540 109.1 L540.2 110.8 L540.8 111.4 L541 112.5 L541.3 112.2 L541.1 112.9 L541.3 113.8 L541.8 115.2 L542 116.4 L542.2 117.6 L541.9 118.2 L542.1 118.9 L542.3 120.3 L542.9 119.6 L543.1 120.5 L543.5 124.5 L543.7 125.6 L543.8 128.9 L544 129.7 L544.1 129.1 L544.5 129.6 L544.7 131 L545 132.6 L545.4 132.7 L545.7 133.9 L545.6 137.4 L546.1 136.8 L546.3 137.8 L546.1 139.4 L546.3 141.1 L547 142.5 L547.3 143.3 L547 143.1 L547.1 141.5 L547.2 139.7 L547.5 136.9 L547.7 135.4 L547.9 135.8 L548.3 132.5 L548.6 131.2 L548.6 129.8 L549 129.2 L550.3 129.6 L550.7 128.5 L550.7 125.9 L551.2 125.1 L551.7 124 L552.5 123.4 L553.1 123.1 L553.9 120.9 L554.6 120.8 L555.6 120.5 L556.6 119.2 L557.9 118.9 L559.1 118.2 L559.7 119.9 L560.4 120.1 L561.3 120.4 L561.8 121.4 L561.9 123.4 L562.7 121.5 L563.2 121.4 L563.6 120.1 L564.2 120.6 L564.9 117.3 L564.9 117 L565.4 114.6 L565.8 113.3 L566 113.6 L566.4 111.8 L567 110.4 L567.4 109.5 L567.8 108.2 L568.5 107.5 L568.8 108.4 L569.1 111.3 L568.5 111.2 L569.6 111.4 L569.9 112.6 L570.1 115 L570.3 118.6 L570.6 119.4 L570.8 118 L571.1 119.4 L571.4 120.8 L571.4 123.1 L571.7 125.7 L571.9 126.5 L572.1 127.7 L572.4 129 L572.6 130.1 L572.9 130.3 L573.1 131.2 L573.3 132.8 L573.6 134.1 L573.8 135.2 L574 136.1 L573.8 139.4 L574.1 141.1 L574.9 140.2 L575 141.1 L575.3 142.4 L575.2 142.1 L575.9 144.3 L576.2 145.9 L576.5 147.3 L576.6 149.2 L576.9 150.4 L577.3 149.2 L577.6 148.6 L578.2 147.2 L578.6 145.1 L579 143.8 L579.5 143 L579.9 143 L580.7 141.2 L581.1 139.5 L581.6 139.6 L582 138.3 L582.2 137.4 L582.7 134.8 L583.1 133.4 L583.6 132.1 L583.9 132.3 L584.4 131.3 L584.8 130.2 L585.3 129.4 L585.4 126.9 L585.9 125.8 L586.4 125 L587.2 123.8 L587.7 123.5 L588.6 122.9 L589.1 121.6 L589.6 120.8 L589.8 120.2 L590.3 119.6 L590.9 117.3 L591.4 116.3 L591.7 117.5 L591.8 118.5 L591.9 119.5 L591.1 123.5 L591.2 124.7 L592 121.2 L592.1 122.6 L591.6 124.6 L591.7 125.9 L591.8 126.6 L591.9 127.9 L592 128.7 L592.3 130.8 L592.4 133 L592.5 134.3 L592.7 133.7 L592.8 135.1 L593.3 136.4 L593.4 137.6 L593.2 139.7 L593.4 141 L593.5 142 L593.5 143.8 L593.6 144.9 L593.8 143.6 L594 144.7 L593.9 144.3 L594.1 145.3 L594.8 148.9 L594.9 149.7 L595.1 150.6 L594.4 153.3 L594.5 153.9 L594.7 155.2 L595.4 156.1 L595.6 157.2 L595.7 158.8 L595.8 157.3 L595.8 159.3 L596 160 L596.2 160.9 L597 163.4 L597.1 164.8 L596.9 165.7 L597.1 167.2 L597.4 167.9 L597.6 169.4 L597.8 170.2 L597.6 170.8 L597.8 172.7 L598.8 175.2 L599 176.6 L598.5 177.1 L598.8 177.6 L599.1 178.3 L599.4 178.4 L599.6 179.7 L599.8 183.5 L599.5 181.7 L600.4 183.4 L600.7 184.5 L601 185.3 L600.9 188.1 L601.2 189.5 L601.4 190.3 L601.9 191.1 L602.2 192.8 L602.3 194.5 L602.8 196.4 L603.1 197.7 L603.3 199 L603.6 199.7 L603.9 200.7 L604 199.3 L604.3 200.1 L604.9 201 L605.3 201.9 L605.6 203.5 L606.2 206.5 L606.6 207.5 L606.9 208.8 L607.1 208.6 L607.5 210.1 L607.9 210.5 L608.2 212.7 L608.6 213.4 L609.5 214.5 L609.9 215.9 L609.8 216.8 L610.2 217.7 L610.7 218.8 L611.1 220.7 L611.5 222.1 L612 223.2 L612.5 223 L613 224.2 L613.7 225.5 L614.2 226.8 L614.2 229 L614.7 230 L615.3 230.9 L616.7 231 L617.3 231.9 L617.9 232.4 L618.2 234.3 L618.9 235.1 L619.4 236.6 L620.6 236.2 L621.3 236.8 L622 237.6 L622.6 237.7 L623.3 238.6 L624.2 238 L624.9 239 L625.7 240.4 L626.4 241.1 L627.1 242 L628.1 243.3 L628.9 244.6 L629.2 244.4 L630 245.3 L631.2 249 L632.1 249.7 L633 250.2 L634.2 249.7 L635.1 245.3 L636.2 245.4 L637.3 246.7 L638.1 247.7 L638.8 248.1 L638.9 247.9 L639.6 249.8 L640.5 254.6 L641.8 251.5 L642.6 251.4 L643.5 251.6 L643.8 254.8 L644.8 255.3 L645.8 255.3 L647.1 256.3 L648.1 255.2 L649.2 255.3 L650.4 258.2 L652 260.7 L653.1 261.4 L654.2 262.1 L654.6 260.8 L655.6 259.4 L656.7 260 L657.8 261.2 L658.9 263.3 L660 264.2 L661.1 264.1 L661.8 264 L662.9 264 L664 264.2 L665.7 264.1 L666.1 263.6 L667.3 263.2 L668.4 264 L669.7 266.4 L670.8 266.6 L671.9 267.1 L673 264.8 L674.2 266.8 L675.3 266.8 L676.3 269.7 L677.4 269.4 L678.6 266.9 L679.6 267.8 L680.7 267.8 L681.9 269.9 L683 270.4 L684.1 270 L685.1 270.9 L686.1 270.3 L687.2 270.7 L688.3 271.5 L689.3 274.1 L690.4 274.4 L691.5 274.6 L693.2 272.1 L694.3 272.1 L695.4 273 L696.2 274.1 L697.3 274.4" fill="none" stroke="#000" stroke-width="3.0" stroke-linejoin="miter" stroke-miterlimit="3"/>
<path d="M514.9 198.9 L515 197.8 L515.2 196.6 L515.7 193.5 L515.8 192.3 L516 191.6 L515.7 190.5 L515.9 189.4 L515.6 187.5 L516.3 188.3 L516.6 188.2 L516.7 187.2 L516.9 186.1 L516.9 185.3 L517 184.5 L517 183.4 L516.8 182.7 L517 181.8 L517.3 179.4 L517.7 178.1 L517.8 176.7 L517.9 175.6 L518.2 174.4 L518.2 173.5 L518.3 172.3 L518.4 170.2 L518.5 168.9 L517.8 168.9 L517.9 167.3 L518.5 167.3 L518.6 165.7 L518.7 164.3 L518.5 161.5 L518.7 160.6 L519.1 158.6 L519.2 157.8 L519.2 156.1 L518.8 155.7 L519.2 154.7 L519.3 153.5 L519.6 153.7 L519.7 153.4 L519.8 151.7 L519.6 150.8 L519.4 149.2 L519.5 147.7 L519.5 144 L519.7 145.7 L519.7 144.6 L519.9 143.3 L519.9 141.9 L520 140.8 L520 140.2 L520.1 139 L520.1 138 L520.2 133.7 L520.2 132.2 L520.3 130.8 L520.5 129.7 L520.5 128.7 L520.5 127.9 L520.7 127.4 L520.8 126.5 L520.8 125.3 L520.8 124.4 L520.9 122.8 L521.1 123.4 L521.1 122.3 L521.1 120 L520.8 118.7 L520.8 117.1 L521.1 116.7 L521.2 115.6 L520.9 113.1 L521.4 112.5 L521.3 114.3 L521.3 113.6 L521.4 111.3 L521.4 110.6 L521.5 109.3 L521.1 110.1 L521.2 108.8 L521.2 107.9 L521.5 104.2 L521.5 103.3 L521.8 102.5 L521.6 102.3 L521.8 98.3 L521.8 96.7 L522 97.4 L521.6 94.7 L521.6 93.2 L521.6 91.6 L521.7 91.4 L521.8 91.8 L521.9 90.2 L522.3 87.5 L522.3 86.4 L522.3 85.5 L522.8 85.5 L522.8 84.1 L522.8 83 L522.2 79.8 L522.2 78.7 L522.6 80.6 L523.4 82.7 L523.2 85.1 L523.4 84.3 L523.7 85 L524 85.8 L524.9 87.2 L525.2 88.8 L525.4 87.9 L525.6 86.7 L525.8 84.5 L526 83.1 L526.2 81.8 L526.3 82.4 L526.5 81 L526.7 79.2 L526.8 77.3 L527 76.1 L527.2 74 L527.4 72.7 L527.6 72.3 L527.8 70.7 L527.9 71.8 L528 70.1 L528.1 71.5 L527.9 75.3 L528 76.6 L528.1 78 L528 79.6 L528.6 80.8 L528.8 82.4 L528.9 83.7 L528.8 85.6 L528.9 86.5 L529.1 87.9 L530 89.7 L530.1 90.7 L530 91.4 L529.9 92.5 L530 92.3 L530.1 93.2 L530.2 95.4 L530.4 97.3 L530.6 98.6 L530.9 100 L531.1 100.3 L531.3 101.6 L531.6 103.2 L531.3 102.2 L531.5 103.4 L531.8 106.1 L532 107.7 L532.7 108.4 L532.9 109.6 L533 111.6 L533.2 112.5 L533.3 110.9 L533.5 112.3 L533.7 113.5 L533.9 115.1 L534.2 116.9 L534 120.3 L534.2 121.3 L534.4 122.6 L535.3 122 L535.5 122.6 L535.8 123.4 L535.4 125.1 L535.6 126.1 L535.9 127.2 L536.2 129.1 L536.7 130.1 L537.1 130.4 L537.4 131.3 L537.5 133.8 L537.9 134.1 L538.5 134.8 L538.9 136 L539.2 139.5 L539.5 140.1 L540 138.5 L540.4 140 L540.7 141.4 L541 143.3 L541.4 144 L541.6 142.1 L541.9 141.4 L542.3 140.3 L542.6 140.7 L543.1 139.4 L543.6 137.3 L544.2 136.1 L544.9 135.1 L545.6 132.7 L546.4 132.4 L547.1 131.5 L548.2 132.1 L548.9 130.4 L550.1 130.2 L551.6 129.1 L552.8 128.6 L553.9 128.8 L554.7 128.7 L555.4 129.4 L556.1 131.2 L556.5 133.6 L556.3 132.1 L556.6 131.6 L556.9 131 L557.5 129.3 L557.8 128.6 L558.1 127.3 L557.9 127.3 L558.2 126.4 L558.4 126 L558.7 122.3 L559 121.2 L559.3 119.8 L559.8 118.9 L560 117.8 L560.2 115.5 L560.5 114.5 L560.7 113.5 L561.2 113.1 L561.5 111.5 L561.7 110.3 L561.6 107.7 L561.9 106.1 L562.1 108.7 L562.2 109 L562.5 111.3 L562.7 112.6 L562.6 113.7 L562.8 115.1 L562.9 116.2 L563.2 117.9 L563.3 119 L563.6 119.5 L563.8 120.8 L563.9 122.1 L563.9 121.8 L564.3 125.6 L564.5 127.2 L564.5 125.5 L564.7 126.5 L564.9 129.6 L564.7 130 L564.9 131.4 L565.1 132.2 L565.4 133.7 L565.6 134.8 L566.2 134 L566.4 135 L566.6 136.5 L566.4 140 L566.6 141.3 L566.9 142.6 L567.4 143.8 L567.6 144.4 L567.9 145.6 L568.2 149.1 L568.5 149.6 L568.7 150.5 L568.8 148.7 L569.2 149.7 L569.5 150.6 L570.4 151.6 L570.8 152.7 L570.8 154.6 L571.2 156.2 L571.9 153.9 L572.2 152.8 L572.6 151.9 L572.7 151.6 L573.2 150.2 L573.9 150.3 L574.4 149.6 L574.9 149.1 L575.4 147.7 L575.9 146.5 L576.5 145.2 L577 144.1 L577.5 142.8 L578.1 142.1 L578.7 140.8 L579 138.5 L579.6 137.8 L580.3 136.5 L581.1 138.1 L581.8 137.2 L582.5 136.1 L583.9 132.9 L584.7 132.1 L585.4 132.6 L585.4 133.7 L585.6 134.8 L585.7 135.9 L585.8 136.5 L585.9 137.5 L586.1 139.2 L586.1 137.7 L586.2 139.3 L586.4 140 L586.9 141.6 L587 142.3 L587.2 143.9 L587.1 145.5 L587.3 147 L587.4 148.5 L588 150 L588.1 150.7 L587.8 151.2 L587.9 152.8 L588.5 154.5 L588.7 155.3 L588.9 156.3 L589.3 157.4 L589.5 158.5 L589.6 159.7 L589 159.7 L589.1 161 L589.8 163.2 L590 164 L589.8 164.9 L590 166.2 L590.2 166.9 L590.5 169 L590.6 170.3 L590.8 171.2 L591.2 173.6 L591.1 174 L591.3 175.3 L591.5 176.4 L591.2 178.4 L591.4 179.6 L592.2 179.1 L592.4 180 L592.6 180.6 L592.8 181.6 L593.3 183.4 L593.6 184.6 L593.6 185.9 L593.9 187 L594.1 187.7 L594 189.9 L593.9 191.2 L594.5 191.9 L595.3 195.6 L595.6 197 L595.6 197.4 L595.9 198.8 L596.2 199.6 L596.7 199.9 L597 200.9 L597.2 201.2 L597.2 202.6 L597.5 203.2 L598 204.6 L598.3 205.6 L598.6 206.6 L599.2 206.2 L599.1 208.6 L599.7 208.9 L600 209.6 L600.5 213.2 L600.6 211 L601 212.4 L601.3 213.9 L601.4 219.1 L601.7 218.7 L602.1 219.8 L602.8 219.6 L603.1 222.1 L603.5 223 L603.9 224.7 L604.3 225.2 L604.7 226.2 L605.1 227 L605.4 228.1 L606 231.7 L606.5 232.6 L607.3 231.2 L607.8 232.4 L608.3 233.5 L608.3 232.4 L608.8 233.1 L609.4 234.8 L610 236.1 L610.2 238.6 L610.8 239 L611.4 240 L612.4 240.5 L613 241.2 L613.6 241.5 L614.2 242.3 L614.6 244.2 L615.3 245.1 L616 245.5 L617.3 247.2 L618 248 L618.7 249.2 L619.1 248.4 L619.8 249 L620.5 250.4 L621.7 250.8 L622.4 252.1 L623.3 255.9 L624 256.8 L624.8 258 L625.5 259.6 L626.3 260.8 L627 259.6 L627.9 259.8 L628.7 257.4 L629.9 257.4 L631.1 258.4 L632.2 257.9 L633.6 258.6 L634.4 258.8 L635.1 260.2 L635.3 260.5 L635.9 261.6 L636.8 262.3 L637.4 263.6 L638.2 264.3 L639.7 263.2 L640.3 264.7 L641.3 265.8 L642.3 266.7 L643.1 269 L643.9 270 L644.9 270.7 L646 270.9 L647.4 268.3 L648.5 268.7 L649.6 269 L650.5 270.1 L651.8 272.5 L652.8 272.7 L653.9 272.4 L654.9 272.8 L656.1 273.4 L656.8 273.3 L657.8 273.6 L658.9 274.5 L660.4 275.1 L661.5 275.5 L662.9 274.9 L663.3 277 L664.4 277.3 L666.1 277.3 L667.2 277.7 L668.4 278.1 L668.9 278 L670 279.1 L671.1 279.6 L672.5 279.9 L673.6 280 L674.2 278.8 L675.3 279 L676.4 279.6 L678.1 282 L679.2 282.3 L680.4 281.6 L681.4 281.1 L682.5 281.4 L683.6 281.8 L684.7 283 L685.8 283.2 L686.9 283.4 L688.1 283.5 L689.2 283.7 L690.3 284 L691.3 282.8 L692.4 285 L693.5 285.3 L693.5 430 L514.9 430 Z" fill="#fff" stroke="none"/>
<path d="M514.9 198.9 L515 197.8 L515.2 196.6 L515.7 193.5 L515.8 192.3 L516 191.6 L515.7 190.5 L515.9 189.4 L515.6 187.5 L516.3 188.3 L516.6 188.2 L516.7 187.2 L516.9 186.1 L516.9 185.3 L517 184.5 L517 183.4 L516.8 182.7 L517 181.8 L517.3 179.4 L517.7 178.1 L517.8 176.7 L517.9 175.6 L518.2 174.4 L518.2 173.5 L518.3 172.3 L518.4 170.2 L518.5 168.9 L517.8 168.9 L517.9 167.3 L518.5 167.3 L518.6 165.7 L518.7 164.3 L518.5 161.5 L518.7 160.6 L519.1 158.6 L519.2 157.8 L519.2 156.1 L518.8 155.7 L519.2 154.7 L519.3 153.5 L519.6 153.7 L519.7 153.4 L519.8 151.7 L519.6 150.8 L519.4 149.2 L519.5 147.7 L519.5 144 L519.7 145.7 L519.7 144.6 L519.9 143.3 L519.9 141.9 L520 140.8 L520 140.2 L520.1 139 L520.1 138 L520.2 133.7 L520.2 132.2 L520.3 130.8 L520.5 129.7 L520.5 128.7 L520.5 127.9 L520.7 127.4 L520.8 126.5 L520.8 125.3 L520.8 124.4 L520.9 122.8 L521.1 123.4 L521.1 122.3 L521.1 120 L520.8 118.7 L520.8 117.1 L521.1 116.7 L521.2 115.6 L520.9 113.1 L521.4 112.5 L521.3 114.3 L521.3 113.6 L521.4 111.3 L521.4 110.6 L521.5 109.3 L521.1 110.1 L521.2 108.8 L521.2 107.9 L521.5 104.2 L521.5 103.3 L521.8 102.5 L521.6 102.3 L521.8 98.3 L521.8 96.7 L522 97.4 L521.6 94.7 L521.6 93.2 L521.6 91.6 L521.7 91.4 L521.8 91.8 L521.9 90.2 L522.3 87.5 L522.3 86.4 L522.3 85.5 L522.8 85.5 L522.8 84.1 L522.8 83 L522.2 79.8 L522.2 78.7 L522.6 80.6 L523.4 82.7 L523.2 85.1 L523.4 84.3 L523.7 85 L524 85.8 L524.9 87.2 L525.2 88.8 L525.4 87.9 L525.6 86.7 L525.8 84.5 L526 83.1 L526.2 81.8 L526.3 82.4 L526.5 81 L526.7 79.2 L526.8 77.3 L527 76.1 L527.2 74 L527.4 72.7 L527.6 72.3 L527.8 70.7 L527.9 71.8 L528 70.1 L528.1 71.5 L527.9 75.3 L528 76.6 L528.1 78 L528 79.6 L528.6 80.8 L528.8 82.4 L528.9 83.7 L528.8 85.6 L528.9 86.5 L529.1 87.9 L530 89.7 L530.1 90.7 L530 91.4 L529.9 92.5 L530 92.3 L530.1 93.2 L530.2 95.4 L530.4 97.3 L530.6 98.6 L530.9 100 L531.1 100.3 L531.3 101.6 L531.6 103.2 L531.3 102.2 L531.5 103.4 L531.8 106.1 L532 107.7 L532.7 108.4 L532.9 109.6 L533 111.6 L533.2 112.5 L533.3 110.9 L533.5 112.3 L533.7 113.5 L533.9 115.1 L534.2 116.9 L534 120.3 L534.2 121.3 L534.4 122.6 L535.3 122 L535.5 122.6 L535.8 123.4 L535.4 125.1 L535.6 126.1 L535.9 127.2 L536.2 129.1 L536.7 130.1 L537.1 130.4 L537.4 131.3 L537.5 133.8 L537.9 134.1 L538.5 134.8 L538.9 136 L539.2 139.5 L539.5 140.1 L540 138.5 L540.4 140 L540.7 141.4 L541 143.3 L541.4 144 L541.6 142.1 L541.9 141.4 L542.3 140.3 L542.6 140.7 L543.1 139.4 L543.6 137.3 L544.2 136.1 L544.9 135.1 L545.6 132.7 L546.4 132.4 L547.1 131.5 L548.2 132.1 L548.9 130.4 L550.1 130.2 L551.6 129.1 L552.8 128.6 L553.9 128.8 L554.7 128.7 L555.4 129.4 L556.1 131.2 L556.5 133.6 L556.3 132.1 L556.6 131.6 L556.9 131 L557.5 129.3 L557.8 128.6 L558.1 127.3 L557.9 127.3 L558.2 126.4 L558.4 126 L558.7 122.3 L559 121.2 L559.3 119.8 L559.8 118.9 L560 117.8 L560.2 115.5 L560.5 114.5 L560.7 113.5 L561.2 113.1 L561.5 111.5 L561.7 110.3 L561.6 107.7 L561.9 106.1 L562.1 108.7 L562.2 109 L562.5 111.3 L562.7 112.6 L562.6 113.7 L562.8 115.1 L562.9 116.2 L563.2 117.9 L563.3 119 L563.6 119.5 L563.8 120.8 L563.9 122.1 L563.9 121.8 L564.3 125.6 L564.5 127.2 L564.5 125.5 L564.7 126.5 L564.9 129.6 L564.7 130 L564.9 131.4 L565.1 132.2 L565.4 133.7 L565.6 134.8 L566.2 134 L566.4 135 L566.6 136.5 L566.4 140 L566.6 141.3 L566.9 142.6 L567.4 143.8 L567.6 144.4 L567.9 145.6 L568.2 149.1 L568.5 149.6 L568.7 150.5 L568.8 148.7 L569.2 149.7 L569.5 150.6 L570.4 151.6 L570.8 152.7 L570.8 154.6 L571.2 156.2 L571.9 153.9 L572.2 152.8 L572.6 151.9 L572.7 151.6 L573.2 150.2 L573.9 150.3 L574.4 149.6 L574.9 149.1 L575.4 147.7 L575.9 146.5 L576.5 145.2 L577 144.1 L577.5 142.8 L578.1 142.1 L578.7 140.8 L579 138.5 L579.6 137.8 L580.3 136.5 L581.1 138.1 L581.8 137.2 L582.5 136.1 L583.9 132.9 L584.7 132.1 L585.4 132.6 L585.4 133.7 L585.6 134.8 L585.7 135.9 L585.8 136.5 L585.9 137.5 L586.1 139.2 L586.1 137.7 L586.2 139.3 L586.4 140 L586.9 141.6 L587 142.3 L587.2 143.9 L587.1 145.5 L587.3 147 L587.4 148.5 L588 150 L588.1 150.7 L587.8 151.2 L587.9 152.8 L588.5 154.5 L588.7 155.3 L588.9 156.3 L589.3 157.4 L589.5 158.5 L589.6 159.7 L589 159.7 L589.1 161 L589.8 163.2 L590 164 L589.8 164.9 L590 166.2 L590.2 166.9 L590.5 169 L590.6 170.3 L590.8 171.2 L591.2 173.6 L591.1 174 L591.3 175.3 L591.5 176.4 L591.2 178.4 L591.4 179.6 L592.2 179.1 L592.4 180 L592.6 180.6 L592.8 181.6 L593.3 183.4 L593.6 184.6 L593.6 185.9 L593.9 187 L594.1 187.7 L594 189.9 L593.9 191.2 L594.5 191.9 L595.3 195.6 L595.6 197 L595.6 197.4 L595.9 198.8 L596.2 199.6 L596.7 199.9 L597 200.9 L597.2 201.2 L597.2 202.6 L597.5 203.2 L598 204.6 L598.3 205.6 L598.6 206.6 L599.2 206.2 L599.1 208.6 L599.7 208.9 L600 209.6 L600.5 213.2 L600.6 211 L601 212.4 L601.3 213.9 L601.4 219.1 L601.7 218.7 L602.1 219.8 L602.8 219.6 L603.1 222.1 L603.5 223 L603.9 224.7 L604.3 225.2 L604.7 226.2 L605.1 227 L605.4 228.1 L606 231.7 L606.5 232.6 L607.3 231.2 L607.8 232.4 L608.3 233.5 L608.3 232.4 L608.8 233.1 L609.4 234.8 L610 236.1 L610.2 238.6 L610.8 239 L611.4 240 L612.4 240.5 L613 241.2 L613.6 241.5 L614.2 242.3 L614.6 244.2 L615.3 245.1 L616 245.5 L617.3 247.2 L618 248 L618.7 249.2 L619.1 248.4 L619.8 249 L620.5 250.4 L621.7 250.8 L622.4 252.1 L623.3 255.9 L624 256.8 L624.8 258 L625.5 259.6 L626.3 260.8 L627 259.6 L627.9 259.8 L628.7 257.4 L629.9 257.4 L631.1 258.4 L632.2 257.9 L633.6 258.6 L634.4 258.8 L635.1 260.2 L635.3 260.5 L635.9 261.6 L636.8 262.3 L637.4 263.6 L638.2 264.3 L639.7 263.2 L640.3 264.7 L641.3 265.8 L642.3 266.7 L643.1 269 L643.9 270 L644.9 270.7 L646 270.9 L647.4 268.3 L648.5 268.7 L649.6 269 L650.5 270.1 L651.8 272.5 L652.8 272.7 L653.9 272.4 L654.9 272.8 L656.1 273.4 L656.8 273.3 L657.8 273.6 L658.9 274.5 L660.4 275.1 L661.5 275.5 L662.9 274.9 L663.3 277 L664.4 277.3 L666.1 277.3 L667.2 277.7 L668.4 278.1 L668.9 278 L670 279.1 L671.1 279.6 L672.5 279.9 L673.6 280 L674.2 278.8 L675.3 279 L676.4 279.6 L678.1 282 L679.2 282.3 L680.4 281.6 L681.4 281.1 L682.5 281.4 L683.6 281.8 L684.7 283 L685.8 283.2 L686.9 283.4 L688.1 283.5 L689.2 283.7 L690.3 284 L691.3 282.8 L692.4 285 L693.5 285.3" fill="none" stroke="#000" stroke-width="3.0" stroke-linejoin="miter" stroke-miterlimit="3"/>
<path d="M508.3 209 L508.5 207.9 L508.6 206.7 L509 205.9 L508.8 204.8 L508.9 203.5 L509.1 202.1 L509.8 199.8 L509.3 201.2 L509.5 199.6 L509.5 197.3 L509.7 195.8 L509.4 195.9 L509.5 194.1 L509.6 192.2 L510.3 190.6 L510.4 189.1 L510.8 190.3 L510.9 189.7 L511.1 188.3 L511.3 186.7 L511.4 185.8 L511.5 184.4 L511.7 181 L511.7 179.8 L511.8 178.8 L511.5 178.7 L511.3 176 L511.4 174.6 L512 175.4 L511.8 172.8 L511.7 172.3 L511.8 171.4 L511.9 170.3 L512.2 167.8 L512.3 166.7 L512.4 166.1 L512.2 166.3 L512.3 166 L512.8 164.6 L512.9 163.5 L513 162.2 L512.9 164.3 L513 159 L513.1 158.1 L513.2 156.6 L513 157.2 L513.2 156.6 L513.3 155.2 L513.1 153.7 L513.2 152.1 L513.2 151.3 L513.7 153.2 L513.8 151.3 L513.3 147.1 L513.4 146.2 L513.7 145.1 L513.7 144.7 L513.8 143.5 L513.9 141.6 L513.8 140.2 L513.9 138.9 L514.3 138 L514.1 136.8 L514.3 136.5 L514.4 134.9 L514.4 133.4 L514.6 129.5 L514.6 128.5 L514.5 129.8 L514.1 129.2 L514.2 128.2 L514.6 125.7 L514.7 124 L514.7 123.1 L514.8 120.5 L514.8 119.9 L514.8 118.8 L514.9 117.5 L514.8 119.5 L515.4 119.1 L515.4 117.8 L515.4 116.2 L515.5 114.7 L515.5 113.3 L515 112.5 L515.1 111.8 L515.2 107.8 L515.3 106.7 L515.8 105.9 L515.9 105 L516.2 105 L515.8 102.7 L515.9 101.2 L515.7 101.1 L515.7 99.7 L515.7 97.6 L515.7 96.3 L515.7 96.3 L515.7 95.6 L516 96.5 L516.3 97.5 L517 99.8 L517.3 101 L517.6 101.9 L517.8 99.8 L517.8 103 L518.1 104 L519 104.6 L519.2 104 L518.9 100.5 L519.1 98.8 L519.2 98.6 L519.4 98.7 L520.1 98.1 L520.3 96.9 L520.5 95.9 L520.7 94.5 L520.9 92.7 L520.8 90.8 L521 89.5 L520.8 91.6 L521.1 93.2 L521.3 94.5 L521.6 92.2 L521.9 93.8 L522.1 95.1 L522.9 97.5 L523.3 99.7 L523.6 100.7 L523.8 102.3 L524 100.4 L524.2 101.7 L524.2 103.6 L524.4 104.6 L524.6 105.7 L525.1 106.1 L525.4 107.5 L525.5 110.4 L525.8 111.7 L526 112.9 L526 113.6 L526.2 115.2 L526.5 116.1 L526.7 117.1 L526.6 117.4 L526.8 119 L527.3 119.9 L527.5 121.4 L527.9 122.6 L528.1 124.1 L527.9 125.1 L528.1 126.4 L528.4 127.5 L528.9 130.6 L529.1 131.9 L529.4 133.1 L529 130.9 L529.2 131.9 L529.5 133.4 L530.3 135.6 L530.6 136.4 L530.9 137.4 L531.6 137.9 L531.9 139 L532.3 140.5 L532.6 141.2 L532 143.8 L532.9 145.2 L533.3 146.6 L533.2 145.3 L533.6 146.4 L534.7 148.4 L535.1 149.6 L535.5 150.9 L535.3 151.8 L535.6 150.8 L535.9 149 L536.7 147.9 L537.2 146.2 L537.8 144.4 L538.5 144.4 L539.2 142.9 L539.9 142.1 L540.6 141.5 L541.2 139.9 L542 139.1 L543.2 139.2 L544.4 138 L545.6 139.1 L546.9 138.5 L547.9 138.1 L548.8 137.5 L549.5 138.1 L549.4 140.6 L549.8 142 L550.1 140.9 L550.4 139.2 L550.7 138.6 L550.9 136.7 L551.5 135.4 L551.8 134.6 L552.1 135.2 L552.3 133 L553 132.4 L553.2 131.5 L553.5 130.5 L553 128.4 L553.3 126.9 L553.5 125.7 L554.6 122.8 L554.8 121.6 L554.5 122.6 L555.1 120.3 L555.4 118.7 L555.9 118.4 L556.2 117.8 L555.8 120.5 L556 121.5 L556.1 122.9 L556.5 121 L556.7 122.9 L556.8 123.6 L557.3 127.6 L557.5 128.9 L557.7 129.5 L557.3 128.8 L557.5 130.3 L557.8 134.2 L557.9 135.4 L558.1 136.8 L558.2 137.9 L558.4 138.8 L558.6 138.9 L559.2 137.9 L559.4 139.1 L559.6 139.6 L559.4 144.6 L559.7 145.8 L559.5 147.2 L559.8 148.7 L560 150 L560.7 148.8 L560.9 149.2 L561.1 149.5 L561.4 150.8 L561.6 151.9 L562 152.4 L562.2 153.3 L562.5 154.3 L562.9 156.4 L563.1 157.5 L563.5 159.5 L563.7 160.4 L564 162.1 L564.2 163.3 L564.5 164.9 L564.8 165.6 L564.9 165.8 L565.2 167.4 L565.5 169.1 L565.4 166.4 L565.6 165.2 L565.9 163.9 L566.3 163.8 L566.7 162.9 L567.7 163.2 L568.1 162.3 L568.2 160.4 L568.6 159.1 L569 158 L569.3 155.3 L569.8 154.5 L570.2 153.6 L570.9 153.6 L571.4 153.1 L571.9 150.9 L572.1 149.2 L572.6 149.5 L573.1 148.1 L573.8 145 L574.4 144.1 L575.3 143 L576 141.9 L576.5 142.4 L576.9 143.9 L577.6 142.1 L578.3 140.9 L579.4 137.6 L579.5 138.5 L579.3 140.9 L579.4 142.5 L580 142.2 L580.1 143.1 L580.3 144.2 L580.3 148.5 L580.5 149.5 L580.6 151.7 L581 151.1 L580.6 153.2 L580.8 154.8 L581.3 155.4 L581.5 156.6 L581.5 156.4 L581.6 156.7 L582 157.8 L582.1 158.9 L582.2 160.7 L582.4 161.7 L582.6 163.4 L582.8 166 L583 167.1 L583.7 164.3 L583.3 168.5 L583.5 169.1 L583.6 170 L583.7 170.2 L583.9 171.9 L584.1 172.3 L584.4 174.5 L584.2 175.5 L584.4 175.6 L584.6 177.1 L585.3 179.1 L585.2 178.4 L585.4 179.1 L585.6 180.2 L586.6 183.4 L586.2 183.6 L586.4 184.4 L586.8 185.5 L586.8 186.2 L587.4 187.4 L587.6 188 L587.8 188.9 L587.7 190.1 L588.2 192.4 L588.4 193.8 L588.4 194 L589 195 L589.1 197 L589.4 198.3 L589.7 198.7 L590.1 201 L590.4 201.4 L590.7 203.1 L590.6 202.7 L590.9 204.6 L591.5 205.2 L591.7 206.2 L592 206.9 L592.6 210.4 L592.9 211.5 L593.2 213.1 L593.1 213.9 L593.4 215.1 L593.8 216.2 L594.1 218.5 L594.4 220.1 L594.7 220.6 L595 223.9 L595.3 224.6 L596 224.5 L596.4 225.4 L596.7 226.1 L596.6 225.6 L597 227.3 L597.3 228.2 L598.4 230.3 L598.8 231.6 L599 232.2 L599.4 233.5 L599.9 233.8 L600.4 234.9 L600.8 235.6 L601.1 235.7 L601.5 236.7 L602 237.6 L602.3 238.9 L602.7 240.3 L603.2 241.1 L604.1 243.4 L604.6 244.3 L605.1 244.8 L605.5 246 L606.1 247.2 L606.6 247.6 L607.2 248.8 L607.8 249.9 L608.3 250.9 L608.9 251.5 L609.6 252.9 L610.2 253.4 L610.9 254.1 L611.6 255.1 L612.3 255.9 L613.1 254.9 L613.8 256.3 L614.5 256.4 L615.5 261.6 L615.8 260.7 L616.6 262.2 L618 264.3 L618.8 265.3 L619.4 264.4 L620.2 265.5 L620.9 267.2 L621.8 270.5 L622.6 271.3 L623.4 269.5 L624.4 269.8 L625.4 270.1 L626.6 268.1 L627.7 267.7 L628.8 267.9 L629.7 268.3 L630.4 268.6 L631.1 269.9 L631.4 272.2 L632.1 275.3 L632.9 274.2 L633.7 275.1 L634.5 275.6 L635.4 276.4 L636.4 277.9 L637.7 278.2 L638.6 279.6 L639.1 280.5 L640.1 281 L641.8 281.3 L642.9 282.4 L643.8 280.9 L644.8 280.8 L645.9 281.1 L646.3 283.6 L647.3 284 L648.4 284.3 L650.1 281.1 L651.1 281.4 L652.2 282.2 L653.5 285.3 L654.6 285.2 L655.6 287.1 L656.7 287.6 L657.2 287.4 L658.9 286.4 L660 286 L661.1 286.4 L662.5 287.6 L663.6 286.8 L664.4 285.6 L665.2 286 L666.3 286.7 L667.4 287.4 L668.8 287.7 L669.9 288.1 L671.2 288.1 L672 290.2 L673.1 291 L674.2 290.8 L675.3 291.2 L676.4 292.3 L677.7 294.2 L678.8 293.9 L679.6 294.6 L680.7 295.4 L682 294.4 L683.2 294.4 L684.3 294.5 L685.4 294.6 L686.7 294 L687.8 294.7 L688.5 295.8 L689.7 296.1 L689.7 430 L508.3 430 Z" fill="#fff" stroke="none"/>
<path d="M508.3 209 L508.5 207.9 L508.6 206.7 L509 205.9 L508.8 204.8 L508.9 203.5 L509.1 202.1 L509.8 199.8 L509.3 201.2 L509.5 199.6 L509.5 197.3 L509.7 195.8 L509.4 195.9 L509.5 194.1 L509.6 192.2 L510.3 190.6 L510.4 189.1 L510.8 190.3 L510.9 189.7 L511.1 188.3 L511.3 186.7 L511.4 185.8 L511.5 184.4 L511.7 181 L511.7 179.8 L511.8 178.8 L511.5 178.7 L511.3 176 L511.4 174.6 L512 175.4 L511.8 172.8 L511.7 172.3 L511.8 171.4 L511.9 170.3 L512.2 167.8 L512.3 166.7 L512.4 166.1 L512.2 166.3 L512.3 166 L512.8 164.6 L512.9 163.5 L513 162.2 L512.9 164.3 L513 159 L513.1 158.1 L513.2 156.6 L513 157.2 L513.2 156.6 L513.3 155.2 L513.1 153.7 L513.2 152.1 L513.2 151.3 L513.7 153.2 L513.8 151.3 L513.3 147.1 L513.4 146.2 L513.7 145.1 L513.7 144.7 L513.8 143.5 L513.9 141.6 L513.8 140.2 L513.9 138.9 L514.3 138 L514.1 136.8 L514.3 136.5 L514.4 134.9 L514.4 133.4 L514.6 129.5 L514.6 128.5 L514.5 129.8 L514.1 129.2 L514.2 128.2 L514.6 125.7 L514.7 124 L514.7 123.1 L514.8 120.5 L514.8 119.9 L514.8 118.8 L514.9 117.5 L514.8 119.5 L515.4 119.1 L515.4 117.8 L515.4 116.2 L515.5 114.7 L515.5 113.3 L515 112.5 L515.1 111.8 L515.2 107.8 L515.3 106.7 L515.8 105.9 L515.9 105 L516.2 105 L515.8 102.7 L515.9 101.2 L515.7 101.1 L515.7 99.7 L515.7 97.6 L515.7 96.3 L515.7 96.3 L515.7 95.6 L516 96.5 L516.3 97.5 L517 99.8 L517.3 101 L517.6 101.9 L517.8 99.8 L517.8 103 L518.1 104 L519 104.6 L519.2 104 L518.9 100.5 L519.1 98.8 L519.2 98.6 L519.4 98.7 L520.1 98.1 L520.3 96.9 L520.5 95.9 L520.7 94.5 L520.9 92.7 L520.8 90.8 L521 89.5 L520.8 91.6 L521.1 93.2 L521.3 94.5 L521.6 92.2 L521.9 93.8 L522.1 95.1 L522.9 97.5 L523.3 99.7 L523.6 100.7 L523.8 102.3 L524 100.4 L524.2 101.7 L524.2 103.6 L524.4 104.6 L524.6 105.7 L525.1 106.1 L525.4 107.5 L525.5 110.4 L525.8 111.7 L526 112.9 L526 113.6 L526.2 115.2 L526.5 116.1 L526.7 117.1 L526.6 117.4 L526.8 119 L527.3 119.9 L527.5 121.4 L527.9 122.6 L528.1 124.1 L527.9 125.1 L528.1 126.4 L528.4 127.5 L528.9 130.6 L529.1 131.9 L529.4 133.1 L529 130.9 L529.2 131.9 L529.5 133.4 L530.3 135.6 L530.6 136.4 L530.9 137.4 L531.6 137.9 L531.9 139 L532.3 140.5 L532.6 141.2 L532 143.8 L532.9 145.2 L533.3 146.6 L533.2 145.3 L533.6 146.4 L534.7 148.4 L535.1 149.6 L535.5 150.9 L535.3 151.8 L535.6 150.8 L535.9 149 L536.7 147.9 L537.2 146.2 L537.8 144.4 L538.5 144.4 L539.2 142.9 L539.9 142.1 L540.6 141.5 L541.2 139.9 L542 139.1 L543.2 139.2 L544.4 138 L545.6 139.1 L546.9 138.5 L547.9 138.1 L548.8 137.5 L549.5 138.1 L549.4 140.6 L549.8 142 L550.1 140.9 L550.4 139.2 L550.7 138.6 L550.9 136.7 L551.5 135.4 L551.8 134.6 L552.1 135.2 L552.3 133 L553 132.4 L553.2 131.5 L553.5 130.5 L553 128.4 L553.3 126.9 L553.5 125.7 L554.6 122.8 L554.8 121.6 L554.5 122.6 L555.1 120.3 L555.4 118.7 L555.9 118.4 L556.2 117.8 L555.8 120.5 L556 121.5 L556.1 122.9 L556.5 121 L556.7 122.9 L556.8 123.6 L557.3 127.6 L557.5 128.9 L557.7 129.5 L557.3 128.8 L557.5 130.3 L557.8 134.2 L557.9 135.4 L558.1 136.8 L558.2 137.9 L558.4 138.8 L558.6 138.9 L559.2 137.9 L559.4 139.1 L559.6 139.6 L559.4 144.6 L559.7 145.8 L559.5 147.2 L559.8 148.7 L560 150 L560.7 148.8 L560.9 149.2 L561.1 149.5 L561.4 150.8 L561.6 151.9 L562 152.4 L562.2 153.3 L562.5 154.3 L562.9 156.4 L563.1 157.5 L563.5 159.5 L563.7 160.4 L564 162.1 L564.2 163.3 L564.5 164.9 L564.8 165.6 L564.9 165.8 L565.2 167.4 L565.5 169.1 L565.4 166.4 L565.6 165.2 L565.9 163.9 L566.3 163.8 L566.7 162.9 L567.7 163.2 L568.1 162.3 L568.2 160.4 L568.6 159.1 L569 158 L569.3 155.3 L569.8 154.5 L570.2 153.6 L570.9 153.6 L571.4 153.1 L571.9 150.9 L572.1 149.2 L572.6 149.5 L573.1 148.1 L573.8 145 L574.4 144.1 L575.3 143 L576 141.9 L576.5 142.4 L576.9 143.9 L577.6 142.1 L578.3 140.9 L579.4 137.6 L579.5 138.5 L579.3 140.9 L579.4 142.5 L580 142.2 L580.1 143.1 L580.3 144.2 L580.3 148.5 L580.5 149.5 L580.6 151.7 L581 151.1 L580.6 153.2 L580.8 154.8 L581.3 155.4 L581.5 156.6 L581.5 156.4 L581.6 156.7 L582 157.8 L582.1 158.9 L582.2 160.7 L582.4 161.7 L582.6 163.4 L582.8 166 L583 167.1 L583.7 164.3 L583.3 168.5 L583.5 169.1 L583.6 170 L583.7 170.2 L583.9 171.9 L584.1 172.3 L584.4 174.5 L584.2 175.5 L584.4 175.6 L584.6 177.1 L585.3 179.1 L585.2 178.4 L585.4 179.1 L585.6 180.2 L586.6 183.4 L586.2 183.6 L586.4 184.4 L586.8 185.5 L586.8 186.2 L587.4 187.4 L587.6 188 L587.8 188.9 L587.7 190.1 L588.2 192.4 L588.4 193.8 L588.4 194 L589 195 L589.1 197 L589.4 198.3 L589.7 198.7 L590.1 201 L590.4 201.4 L590.7 203.1 L590.6 202.7 L590.9 204.6 L591.5 205.2 L591.7 206.2 L592 206.9 L592.6 210.4 L592.9 211.5 L593.2 213.1 L593.1 213.9 L593.4 215.1 L593.8 216.2 L594.1 218.5 L594.4 220.1 L594.7 220.6 L595 223.9 L595.3 224.6 L596 224.5 L596.4 225.4 L596.7 226.1 L596.6 225.6 L597 227.3 L597.3 228.2 L598.4 230.3 L598.8 231.6 L599 232.2 L599.4 233.5 L599.9 233.8 L600.4 234.9 L600.8 235.6 L601.1 235.7 L601.5 236.7 L602 237.6 L602.3 238.9 L602.7 240.3 L603.2 241.1 L604.1 243.4 L604.6 244.3 L605.1 244.8 L605.5 246 L606.1 247.2 L606.6 247.6 L607.2 248.8 L607.8 249.9 L608.3 250.9 L608.9 251.5 L609.6 252.9 L610.2 253.4 L610.9 254.1 L611.6 255.1 L612.3 255.9 L613.1 254.9 L613.8 256.3 L614.5 256.4 L615.5 261.6 L615.8 260.7 L616.6 262.2 L618 264.3 L618.8 265.3 L619.4 264.4 L620.2 265.5 L620.9 267.2 L621.8 270.5 L622.6 271.3 L623.4 269.5 L624.4 269.8 L625.4 270.1 L626.6 268.1 L627.7 267.7 L628.8 267.9 L629.7 268.3 L630.4 268.6 L631.1 269.9 L631.4 272.2 L632.1 275.3 L632.9 274.2 L633.7 275.1 L634.5 275.6 L635.4 276.4 L636.4 277.9 L637.7 278.2 L638.6 279.6 L639.1 280.5 L640.1 281 L641.8 281.3 L642.9 282.4 L643.8 280.9 L644.8 280.8 L645.9 281.1 L646.3 283.6 L647.3 284 L648.4 284.3 L650.1 281.1 L651.1 281.4 L652.2 282.2 L653.5 285.3 L654.6 285.2 L655.6 287.1 L656.7 287.6 L657.2 287.4 L658.9 286.4 L660 286 L661.1 286.4 L662.5 287.6 L663.6 286.8 L664.4 285.6 L665.2 286 L666.3 286.7 L667.4 287.4 L668.8 287.7 L669.9 288.1 L671.2 288.1 L672 290.2 L673.1 291 L674.2 290.8 L675.3 291.2 L676.4 292.3 L677.7 294.2 L678.8 293.9 L679.6 294.6 L680.7 295.4 L682 294.4 L683.2 294.4 L684.3 294.5 L685.4 294.6 L686.7 294 L687.8 294.7 L688.5 295.8 L689.7 296.1" fill="none" stroke="#000" stroke-width="3.0" stroke-linejoin="miter" stroke-miterlimit="3"/>
<path d="M502.3 218.3 L502.5 217.1 L502.6 216 L502.6 215.9 L502.8 214.5 L503.1 214.4 L503.2 213.4 L503.8 210.8 L503.9 209.8 L504.1 208.9 L503.8 207.2 L503.9 206.6 L504.1 205.8 L504 203.4 L504.1 202.2 L504.3 201.4 L504.4 200.2 L504.8 199.2 L504.9 198.1 L504.8 196.9 L504.9 195.5 L505 195.6 L505.1 194.6 L505.2 193.4 L505.3 190.6 L505.4 189.8 L505.6 187.8 L505.7 186.7 L505.8 185.3 L505.8 185.2 L505.9 184.4 L506 180.2 L506.1 179 L506.1 178.2 L506.7 178.7 L506.7 177.7 L506.8 176.8 L506.6 174.5 L506.5 174.8 L506.5 174 L507 169.7 L507.1 169.1 L506.9 168.5 L507 167.6 L506.9 167.8 L507.1 167 L506.8 163.5 L506.9 162.4 L507.6 163.5 L507.6 162.5 L507.7 161.7 L507 159.3 L507.1 157.9 L507.2 157 L507.3 156.1 L506.9 156.9 L507 155.9 L507 154.5 L508.3 149.2 L507.8 150 L507.9 149.4 L507.9 148.2 L507.8 147.6 L507.9 146.3 L507.9 145.4 L508 144.2 L508.1 142.8 L508.2 141.3 L508.3 137.4 L508.6 138.6 L508.5 135.4 L508.6 134.3 L508.6 133.4 L508.6 130.8 L508.7 129.2 L508.7 128.5 L509.1 131.7 L509.2 131 L509 127.6 L509.1 126.7 L509.1 125.6 L509.1 124.1 L509.1 123.4 L509.2 122.9 L509.5 121.2 L509.5 119.2 L509.6 118.5 L509.1 118.1 L509.3 115.5 L509.3 113.8 L509.3 112.2 L509.5 113.5 L509.6 112.3 L509.6 111.6 L509.6 108.8 L509.7 107.5 L509.6 106.5 L509.6 105.5 L509.7 106.1 L509.8 104.7 L509.8 104.4 L509.9 102.2 L509.9 101.1 L509.6 101 L509.9 101.8 L510.8 101.5 L510.6 101.5 L510.9 102.8 L511.6 104.9 L511.9 106 L512.1 107.2 L512.4 108.9 L512.4 107.9 L512.6 106.9 L512.8 105.6 L513.4 104 L513.6 102.7 L513.7 101.5 L513.9 100.2 L514.1 100.4 L514.3 99.7 L514.5 99 L514.5 94.2 L514.7 93.1 L514.9 91.6 L514.7 96.3 L515 97.5 L515.2 98.5 L515.9 97.6 L516.1 99.9 L516.4 99.7 L516.6 101.6 L516.8 102.8 L517.3 105.5 L517.3 105.1 L517.6 106.2 L517.8 106.7 L518.2 110.2 L518.4 111.9 L518.6 113.1 L518.7 112.4 L518.9 113.8 L519.2 115.7 L519.4 117.1 L519.3 119.6 L519.5 120.7 L519.8 121.8 L520.2 122.1 L520.4 123 L520.4 123.3 L520.6 125.1 L520.8 126.2 L521.3 126.7 L521.5 127.5 L521.8 128.2 L522 132 L522.2 133.2 L522.4 134.4 L522.8 134.1 L523.1 135.1 L523.3 135.8 L523.6 137.5 L523.5 135.9 L523.8 137.3 L523.8 139.7 L523.8 141 L524.1 141.3 L525.2 144.4 L525.5 145.8 L525.8 146.5 L525.1 146.2 L525.5 147.1 L526.4 147.6 L526.7 148.7 L527.1 149.9 L527.3 152 L527.6 153.2 L528 153.9 L528.4 153.6 L528.8 154.4 L529.2 156.8 L529.5 158.1 L530.2 161.6 L530.6 162.6 L530.5 158 L530.8 156.4 L531.2 155.1 L531.7 155 L532.1 153.3 L532.7 152.3 L533.3 151.1 L534.6 149.9 L535 150.1 L535.1 149.8 L535.9 149.3 L537.2 147.1 L538.4 146.4 L539.7 147.8 L541 147.5 L542.1 147.4 L543.2 147.4 L543.9 147.8 L544.4 148.8 L544.5 149.5 L544.8 148.4 L545 146.7 L545 144.7 L545.2 144.1 L545.5 143.4 L546.1 141.7 L546.3 142.5 L546.5 141.4 L546.8 140.5 L547 137.4 L547.3 136.3 L547.5 134.9 L547.6 133.8 L547.9 133 L548.1 131.8 L548.9 130.7 L549.1 129.2 L548.7 129.3 L549 128.3 L549.9 127 L550.1 126.4 L550.4 125.5 L550.2 125.1 L550.4 126 L550.2 128.6 L550.3 129.3 L550.5 130.4 L550.8 131 L551 132.7 L550.9 133.5 L551 135.2 L551.9 136.2 L551.9 137.9 L552.1 139.1 L552.3 140.2 L552.1 138.4 L552.3 140 L553.1 142.3 L553.3 143.8 L552.8 145.9 L553 146.9 L553.2 148.5 L554.1 151 L554.3 151.3 L554.2 150.6 L554.5 152.3 L554.2 153.8 L554.4 155.1 L554.7 155.6 L555.3 157.3 L555.9 157.9 L556.2 158.7 L556.2 160.2 L556.5 161.3 L556.7 163.4 L557 164.8 L557.7 165.6 L557.9 166.6 L557.9 163.9 L558.1 165.3 L558.7 170.4 L558.9 171.1 L558.5 171.6 L558.7 172.8 L559 173.3 L559.2 174.2 L559.8 177 L560 178.1 L560.3 177.7 L560.5 180.7 L560.8 178.9 L561.1 177.9 L561.4 176.5 L561.3 176.4 L561.6 175.7 L561.8 173.3 L562.1 172.7 L562.4 171.4 L562.8 170.6 L563.1 168.7 L563.3 170 L564 169.2 L564.3 167.5 L564.6 166.2 L565 163.7 L565.3 162.5 L565.7 161.3 L565.7 161.5 L566 160.4 L566.4 159.3 L566.6 157.2 L567.3 155.9 L567.6 154.1 L568.5 156.4 L568.9 155.6 L568.9 154 L569.3 153.1 L569.7 151.8 L570.3 151.6 L570.7 150.4 L571.1 149 L570.7 147.1 L571.8 148.3 L572.2 147 L572 145.2 L572.4 144.3 L572.9 142.9 L573.6 141.5 L573.7 143.3 L574.1 142.3 L574.2 143.6 L574 147.4 L574.1 148.2 L574.2 149.4 L574.6 151.1 L574.7 152.2 L574.9 150.7 L575.1 151.6 L575.2 152.7 L575.4 152.5 L575.7 153.2 L575.9 153.9 L575.8 155.8 L575.9 156.7 L576.1 158.1 L576.4 159.7 L576.6 160.5 L576.8 161.7 L576.9 162.3 L576.4 162.1 L576.9 165.1 L577.2 168.3 L577.4 169.7 L577.5 169.1 L577.5 169.8 L577.6 171.3 L577.8 172.7 L578.5 174.4 L578.7 175.2 L578.8 176.7 L578.3 177.9 L578.6 180.1 L578.8 180.9 L579 181.2 L579.1 180.8 L579.3 182.9 L579.9 184.5 L580.1 185.6 L580.2 184 L580.4 185.3 L580.4 190.2 L580.8 189.2 L581 190.9 L581.4 192 L581.7 194.4 L581.9 195 L582.2 196.7 L582.5 198.5 L582.8 199.3 L581.9 198.9 L582.2 200.7 L583.2 202.9 L583.5 205.4 L583.7 206 L584.3 205.2 L584.4 207.2 L584.7 208.5 L584.9 209.8 L585.2 211.3 L585.4 212.5 L585.7 210.7 L585.8 213.7 L586.1 213.9 L586.5 213.5 L586.8 215 L587.1 216.2 L587.2 220.2 L587.5 221.2 L587.6 219.7 L587.9 220.9 L588.3 222.1 L589 225.2 L589.4 226.3 L589.7 226.9 L590 227.5 L589.9 227.8 L591.3 231.4 L591.6 231.8 L591.7 229 L592.1 230.2 L592.5 231.3 L592.3 234.2 L592.7 235 L593.6 237.2 L594 237.8 L594.4 238.7 L594.4 239.9 L594.8 241.3 L595.3 242.8 L595.9 243.5 L596.4 244.6 L596.8 245.6 L597.3 245.7 L597.8 246.7 L598.3 247.4 L598.5 249.2 L599 250.2 L599.5 251.5 L600 253.4 L600.8 255.1 L601 256 L601.5 257.3 L602.7 259.1 L603.3 259.5 L603.9 260.5 L604.8 260.5 L605.5 261.3 L605.9 261.6 L605.9 261.6 L606.6 263.1 L607.9 265.3 L608.6 266.1 L609 262.1 L609.7 263.1 L610.4 263.5 L611 267.7 L611.8 267.9 L612.7 271.3 L613.4 272.7 L614.2 273.4 L615.1 272.9 L615.9 273.4 L616.7 273.8 L617.6 274.2 L618.4 274.9 L619.4 276.8 L620.2 277.8 L620.6 279.4 L621.6 278.6 L622.8 278.5 L624.2 278.2 L625.2 278.3 L626 278.5 L626.9 278.1 L627.5 279 L628.2 280.2 L629.2 283.9 L629.1 284.7 L629.9 285.6 L631.1 287.9 L631.8 284.5 L632.8 284.7 L633.7 285.2 L634.2 285.7 L635.2 286.6 L636.3 287.4 L637.4 288.6 L638.4 289 L640.3 289.6 L641.4 289.7 L642.3 289.4 L643.3 289.9 L644.4 290.2 L645.5 290.8 L646.5 291.3 L647.5 293.1 L648.5 293.3 L649.6 293.7 L651.1 294.3 L652.2 294.6 L652.8 293.8 L654.1 296.1 L655.2 296.6 L656.3 297.7 L657.9 296.4 L658.4 298.6 L659.5 299.1 L660.7 298.4 L661.8 298.5 L662.9 299.2 L664 300 L664.8 299.8 L665.9 300.4 L667 300.6 L668 300.9 L669.7 303.5 L670.6 304.2 L671.7 303.9 L672.5 303.1 L673.6 303.8 L674.7 303.9 L676 303.9 L677.1 303.7 L678.2 303.9 L679.4 305.3 L680.5 306 L681.6 306 L682.8 307.3 L683.9 307.3 L685.1 305.7 L686.2 306 L686.2 430 L502.3 430 Z" fill="#fff" stroke="none"/>
<path d="M502.3 218.3 L502.5 217.1 L502.6 216 L502.6 215.9 L502.8 214.5 L503.1 214.4 L503.2 213.4 L503.8 210.8 L503.9 209.8 L504.1 208.9 L503.8 207.2 L503.9 206.6 L504.1 205.8 L504 203.4 L504.1 202.2 L504.3 201.4 L504.4 200.2 L504.8 199.2 L504.9 198.1 L504.8 196.9 L504.9 195.5 L505 195.6 L505.1 194.6 L505.2 193.4 L505.3 190.6 L505.4 189.8 L505.6 187.8 L505.7 186.7 L505.8 185.3 L505.8 185.2 L505.9 184.4 L506 180.2 L506.1 179 L506.1 178.2 L506.7 178.7 L506.7 177.7 L506.8 176.8 L506.6 174.5 L506.5 174.8 L506.5 174 L507 169.7 L507.1 169.1 L506.9 168.5 L507 167.6 L506.9 167.8 L507.1 167 L506.8 163.5 L506.9 162.4 L507.6 163.5 L507.6 162.5 L507.7 161.7 L507 159.3 L507.1 157.9 L507.2 157 L507.3 156.1 L506.9 156.9 L507 155.9 L507 154.5 L508.3 149.2 L507.8 150 L507.9 149.4 L507.9 148.2 L507.8 147.6 L507.9 146.3 L507.9 145.4 L508 144.2 L508.1 142.8 L508.2 141.3 L508.3 137.4 L508.6 138.6 L508.5 135.4 L508.6 134.3 L508.6 133.4 L508.6 130.8 L508.7 129.2 L508.7 128.5 L509.1 131.7 L509.2 131 L509 127.6 L509.1 126.7 L509.1 125.6 L509.1 124.1 L509.1 123.4 L509.2 122.9 L509.5 121.2 L509.5 119.2 L509.6 118.5 L509.1 118.1 L509.3 115.5 L509.3 113.8 L509.3 112.2 L509.5 113.5 L509.6 112.3 L509.6 111.6 L509.6 108.8 L509.7 107.5 L509.6 106.5 L509.6 105.5 L509.7 106.1 L509.8 104.7 L509.8 104.4 L509.9 102.2 L509.9 101.1 L509.6 101 L509.9 101.8 L510.8 101.5 L510.6 101.5 L510.9 102.8 L511.6 104.9 L511.9 106 L512.1 107.2 L512.4 108.9 L512.4 107.9 L512.6 106.9 L512.8 105.6 L513.4 104 L513.6 102.7 L513.7 101.5 L513.9 100.2 L514.1 100.4 L514.3 99.7 L514.5 99 L514.5 94.2 L514.7 93.1 L514.9 91.6 L514.7 96.3 L515 97.5 L515.2 98.5 L515.9 97.6 L516.1 99.9 L516.4 99.7 L516.6 101.6 L516.8 102.8 L517.3 105.5 L517.3 105.1 L517.6 106.2 L517.8 106.7 L518.2 110.2 L518.4 111.9 L518.6 113.1 L518.7 112.4 L518.9 113.8 L519.2 115.7 L519.4 117.1 L519.3 119.6 L519.5 120.7 L519.8 121.8 L520.2 122.1 L520.4 123 L520.4 123.3 L520.6 125.1 L520.8 126.2 L521.3 126.7 L521.5 127.5 L521.8 128.2 L522 132 L522.2 133.2 L522.4 134.4 L522.8 134.1 L523.1 135.1 L523.3 135.8 L523.6 137.5 L523.5 135.9 L523.8 137.3 L523.8 139.7 L523.8 141 L524.1 141.3 L525.2 144.4 L525.5 145.8 L525.8 146.5 L525.1 146.2 L525.5 147.1 L526.4 147.6 L526.7 148.7 L527.1 149.9 L527.3 152 L527.6 153.2 L528 153.9 L528.4 153.6 L528.8 154.4 L529.2 156.8 L529.5 158.1 L530.2 161.6 L530.6 162.6 L530.5 158 L530.8 156.4 L531.2 155.1 L531.7 155 L532.1 153.3 L532.7 152.3 L533.3 151.1 L534.6 149.9 L535 150.1 L535.1 149.8 L535.9 149.3 L537.2 147.1 L538.4 146.4 L539.7 147.8 L541 147.5 L542.1 147.4 L543.2 147.4 L543.9 147.8 L544.4 148.8 L544.5 149.5 L544.8 148.4 L545 146.7 L545 144.7 L545.2 144.1 L545.5 143.4 L546.1 141.7 L546.3 142.5 L546.5 141.4 L546.8 140.5 L547 137.4 L547.3 136.3 L547.5 134.9 L547.6 133.8 L547.9 133 L548.1 131.8 L548.9 130.7 L549.1 129.2 L548.7 129.3 L549 128.3 L549.9 127 L550.1 126.4 L550.4 125.5 L550.2 125.1 L550.4 126 L550.2 128.6 L550.3 129.3 L550.5 130.4 L550.8 131 L551 132.7 L550.9 133.5 L551 135.2 L551.9 136.2 L551.9 137.9 L552.1 139.1 L552.3 140.2 L552.1 138.4 L552.3 140 L553.1 142.3 L553.3 143.8 L552.8 145.9 L553 146.9 L553.2 148.5 L554.1 151 L554.3 151.3 L554.2 150.6 L554.5 152.3 L554.2 153.8 L554.4 155.1 L554.7 155.6 L555.3 157.3 L555.9 157.9 L556.2 158.7 L556.2 160.2 L556.5 161.3 L556.7 163.4 L557 164.8 L557.7 165.6 L557.9 166.6 L557.9 163.9 L558.1 165.3 L558.7 170.4 L558.9 171.1 L558.5 171.6 L558.7 172.8 L559 173.3 L559.2 174.2 L559.8 177 L560 178.1 L560.3 177.7 L560.5 180.7 L560.8 178.9 L561.1 177.9 L561.4 176.5 L561.3 176.4 L561.6 175.7 L561.8 173.3 L562.1 172.7 L562.4 171.4 L562.8 170.6 L563.1 168.7 L563.3 170 L564 169.2 L564.3 167.5 L564.6 166.2 L565 163.7 L565.3 162.5 L565.7 161.3 L565.7 161.5 L566 160.4 L566.4 159.3 L566.6 157.2 L567.3 155.9 L567.6 154.1 L568.5 156.4 L568.9 155.6 L568.9 154 L569.3 153.1 L569.7 151.8 L570.3 151.6 L570.7 150.4 L571.1 149 L570.7 147.1 L571.8 148.3 L572.2 147 L572 145.2 L572.4 144.3 L572.9 142.9 L573.6 141.5 L573.7 143.3 L574.1 142.3 L574.2 143.6 L574 147.4 L574.1 148.2 L574.2 149.4 L574.6 151.1 L574.7 152.2 L574.9 150.7 L575.1 151.6 L575.2 152.7 L575.4 152.5 L575.7 153.2 L575.9 153.9 L575.8 155.8 L575.9 156.7 L576.1 158.1 L576.4 159.7 L576.6 160.5 L576.8 161.7 L576.9 162.3 L576.4 162.1 L576.9 165.1 L577.2 168.3 L577.4 169.7 L577.5 169.1 L577.5 169.8 L577.6 171.3 L577.8 172.7 L578.5 174.4 L578.7 175.2 L578.8 176.7 L578.3 177.9 L578.6 180.1 L578.8 180.9 L579 181.2 L579.1 180.8 L579.3 182.9 L579.9 184.5 L580.1 185.6 L580.2 184 L580.4 185.3 L580.4 190.2 L580.8 189.2 L581 190.9 L581.4 192 L581.7 194.4 L581.9 195 L582.2 196.7 L582.5 198.5 L582.8 199.3 L581.9 198.9 L582.2 200.7 L583.2 202.9 L583.5 205.4 L583.7 206 L584.3 205.2 L584.4 207.2 L584.7 208.5 L584.9 209.8 L585.2 211.3 L585.4 212.5 L585.7 210.7 L585.8 213.7 L586.1 213.9 L586.5 213.5 L586.8 215 L587.1 216.2 L587.2 220.2 L587.5 221.2 L587.6 219.7 L587.9 220.9 L588.3 222.1 L589 225.2 L589.4 226.3 L589.7 226.9 L590 227.5 L589.9 227.8 L591.3 231.4 L591.6 231.8 L591.7 229 L592.1 230.2 L592.5 231.3 L592.3 234.2 L592.7 235 L593.6 237.2 L594 237.8 L594.4 238.7 L594.4 239.9 L594.8 241.3 L595.3 242.8 L595.9 243.5 L596.4 244.6 L596.8 245.6 L597.3 245.7 L597.8 246.7 L598.3 247.4 L598.5 249.2 L599 250.2 L599.5 251.5 L600 253.4 L600.8 255.1 L601 256 L601.5 257.3 L602.7 259.1 L603.3 259.5 L603.9 260.5 L604.8 260.5 L605.5 261.3 L605.9 261.6 L605.9 261.6 L606.6 263.1 L607.9 265.3 L608.6 266.1 L609 262.1 L609.7 263.1 L610.4 263.5 L611 267.7 L611.8 267.9 L612.7 271.3 L613.4 272.7 L614.2 273.4 L615.1 272.9 L615.9 273.4 L616.7 273.8 L617.6 274.2 L618.4 274.9 L619.4 276.8 L620.2 277.8 L620.6 279.4 L621.6 278.6 L622.8 278.5 L624.2 278.2 L625.2 278.3 L626 278.5 L626.9 278.1 L627.5 279 L628.2 280.2 L629.2 283.9 L629.1 284.7 L629.9 285.6 L631.1 287.9 L631.8 284.5 L632.8 284.7 L633.7 285.2 L634.2 285.7 L635.2 286.6 L636.3 287.4 L637.4 288.6 L638.4 289 L640.3 289.6 L641.4 289.7 L642.3 289.4 L643.3 289.9 L644.4 290.2 L645.5 290.8 L646.5 291.3 L647.5 293.1 L648.5 293.3 L649.6 293.7 L651.1 294.3 L652.2 294.6 L652.8 293.8 L654.1 296.1 L655.2 296.6 L656.3 297.7 L657.9 296.4 L658.4 298.6 L659.5 299.1 L660.7 298.4 L661.8 298.5 L662.9 299.2 L664 300 L664.8 299.8 L665.9 300.4 L667 300.6 L668 300.9 L669.7 303.5 L670.6 304.2 L671.7 303.9 L672.5 303.1 L673.6 303.8 L674.7 303.9 L676 303.9 L677.1 303.7 L678.2 303.9 L679.4 305.3 L680.5 306 L681.6 306 L682.8 307.3 L683.9 307.3 L685.1 305.7 L686.2 306" fill="none" stroke="#000" stroke-width="3.0" stroke-linejoin="miter" stroke-miterlimit="3"/>
<path d="M495.1 229.4 L495.3 228.2 L495.4 227.1 L495.5 227.9 L495.3 224.8 L495.5 223.9 L496.2 223.1 L496.3 221.4 L496.4 221.8 L496.6 220.5 L496.4 219.3 L496.6 218 L497.1 214.8 L497.2 213.4 L497.3 212.8 L497.1 211.9 L497.6 212.2 L497.1 210 L497.6 207.6 L497.7 206.7 L497.7 206.4 L497.8 205.2 L497.9 203.7 L498.2 203.6 L498.2 202.3 L498.3 201.7 L498.4 200.6 L498.8 200.5 L498.8 198.1 L498.9 196.4 L498.6 193.5 L498.7 191.5 L498.8 191 L498.8 189.7 L498.9 188.8 L499.2 187.3 L499.3 186.5 L499.3 185.2 L499.4 183.8 L499.5 182.6 L499.6 182.2 L499.5 180.9 L499.6 179.9 L499.7 178.9 L499.7 179.5 L499.7 177.1 L499.8 175.7 L499.7 176.3 L499.8 174.8 L499.8 173.5 L500 171.2 L500 169.6 L500.1 168.1 L500.4 169.3 L500.1 167.5 L500.2 165.5 L500.3 164.8 L500.4 163.1 L500.2 161.7 L500.2 160.1 L500.8 159.5 L500.8 158.6 L500.6 160.1 L500.7 158.8 L500.8 157.4 L500.5 155.4 L500.5 155 L500.6 153.1 L501 149.7 L501 149.1 L501.1 148.2 L501.3 147.3 L501.4 145.6 L501.5 144.5 L501.7 142.4 L501.2 138.9 L501.2 137.2 L501.3 135.4 L501.5 139.6 L501.5 138.6 L501.6 134.1 L501.3 132.8 L501.9 131.9 L502 130.4 L501.6 129.2 L501.7 127.1 L501.7 126.3 L502.2 127.5 L501.9 127.6 L502 126.7 L501.8 126.5 L501.9 125.1 L502.8 122.6 L502.8 120.8 L502.7 117.8 L502.8 116.7 L502.8 115.6 L502.4 116.1 L503 113.9 L503.1 113.1 L502.6 112.8 L502.7 111.8 L502.7 111.2 L503.5 112 L503.8 112.9 L504.1 114.5 L504.2 115.8 L504.1 116.2 L505.5 117.5 L505.4 117.6 L505.7 118.6 L505.7 120.3 L506 119.4 L506.2 118.3 L506.2 119.7 L506.4 118.5 L506.6 115.6 L506.8 114.6 L506.9 111.5 L507.2 110.6 L507.3 110.2 L507.5 109.2 L508.3 110.1 L508.6 111.7 L508.8 109.3 L509.3 111.8 L509.6 112.9 L509.9 113.5 L509.5 114.6 L510.2 117.7 L510.5 119.1 L510.8 116.6 L511.1 117.8 L511.4 118.8 L511.1 122 L511.4 123.7 L511.7 124.4 L512 125.6 L512.3 126 L512.7 128.3 L512.9 129.4 L512.9 128.7 L513.1 129.9 L513.3 130.6 L513.7 131.7 L513.9 133.1 L514.1 134.2 L515.1 136 L515.4 136.7 L515.6 137.2 L514.9 137.8 L515.1 138.8 L515.3 140.7 L515.9 143 L516.1 144.1 L516.4 145.3 L516.6 145.6 L516.8 146.6 L517.1 147.4 L517.2 150.5 L517.4 152.5 L517.7 153.2 L518 154.2 L518.3 156.1 L519.2 154.8 L519.5 156.2 L519.8 157.2 L519.8 160.3 L520.2 161.6 L520.7 160 L521.1 159.4 L521.4 159.8 L521.8 162.4 L522.2 163.6 L522.6 164.5 L523.3 164.2 L523.7 164.7 L524 165.7 L524.4 166.9 L524.6 165.3 L524.6 165.8 L525.1 163.1 L525.6 161.9 L525.9 162.4 L526.8 159.6 L527.4 159.1 L528 159.8 L528.7 159.4 L529.6 154.5 L530.4 154.5 L531.4 153.9 L532.6 158.7 L533.9 158.7 L535.1 157.8 L536 155.8 L536.8 156.7 L537.4 157.7 L538 160.1 L538.3 159.3 L538.3 157.8 L538.6 156.8 L538.8 155 L538.7 153.3 L539.5 150.9 L539.8 150 L539.5 150 L540 148.4 L540.2 147.6 L540.5 146.4 L540.9 143.8 L541.2 143.3 L541.5 141.6 L541.6 139.8 L542.1 141.1 L542.3 139.6 L542.5 139.6 L542.3 135.1 L542.6 134.2 L542.8 133.6 L543.3 137.3 L543.7 139.1 L543.7 139.5 L543.9 140.1 L543.9 141.6 L544 143.2 L544.2 146 L544.4 147.3 L544.5 147.8 L545.3 146.6 L545.5 147.7 L545.7 148.7 L545.8 150.8 L546 151.5 L546.2 153.3 L546.4 154.5 L546.5 155.1 L546.7 156.2 L547 158.5 L547.2 159.6 L547.4 160.4 L547.6 159.5 L547.8 160.9 L548 163.1 L548.2 163.5 L548.5 164.8 L548.5 166.3 L549.1 166.8 L549.3 169.1 L549.6 170.3 L549.9 171 L549.7 172.8 L550.5 173.2 L550.8 174.6 L550.8 174.6 L551.1 175.4 L551.4 176.5 L552.1 178.2 L552.4 179.5 L552.8 180.8 L552.6 181.3 L552.9 182.6 L553 186.9 L553.4 188 L553.7 189.7 L554.7 187.7 L555 186 L555.3 184.7 L555.6 183.1 L555.9 182.3 L556.4 182.7 L556.7 180.7 L557 179.7 L557.5 176.8 L557.8 176 L558.2 175.5 L558.2 174.1 L558.6 172.6 L559.1 171.7 L559.5 170.4 L559.9 169.5 L560.4 169.8 L560.4 168.4 L560.8 167 L561.2 166.5 L561.6 165.4 L562.1 164.8 L562.5 164.3 L563 163.1 L563.4 161 L563.6 161.7 L564.1 160.7 L565 157.8 L565.5 157.2 L565.5 157.7 L566 156.6 L566.5 155.4 L567.4 153.9 L567.5 154.4 L567.5 156.7 L567.7 157.6 L567.9 159.5 L567.5 159.8 L567.7 160.9 L568.1 163.2 L568.5 164.7 L568.7 165.8 L568.6 168.2 L568.8 169 L568.9 169.7 L569.2 169.2 L569.3 169.3 L569.5 170 L570.4 169.8 L570.5 170.5 L570.7 171.7 L570.1 172.9 L570.3 173.7 L570.5 174.7 L570.9 177.1 L571.1 178 L571.3 178.7 L571.5 179.8 L571.7 180.8 L571.2 184 L571.4 184.9 L572.2 185.1 L572.4 186.4 L572.6 188 L572.4 187.2 L572.9 192.3 L573.1 193.7 L573.4 194.5 L573.6 194 L573.9 194.8 L573.9 197.5 L574.1 198.6 L574.7 196.2 L575 197.3 L575.2 198.5 L575.2 201 L575.5 202.2 L575.7 203.6 L575.6 204.9 L575.8 205.9 L576.1 207.5 L576.7 208.9 L576.9 209.9 L577.1 210.4 L577.3 212.5 L577.6 212.7 L577.9 213.8 L577.7 211.9 L578 213.3 L578.2 215.1 L578.9 218.9 L579.2 219.7 L579.5 221.1 L579.1 221.2 L579.4 222 L579.7 223.9 L580.4 224.8 L580.8 225.4 L581.1 226.4 L581.7 226.7 L582.1 227.8 L582.3 230 L582.6 230.9 L582.9 231.8 L583.2 232.5 L583.5 233.5 L583.9 234.8 L584.1 237.2 L584.5 238.3 L584.5 239.9 L584.9 241.2 L585.2 242.9 L586.4 243.1 L586.8 244.2 L587.2 245.4 L587.3 244.3 L587.7 245.5 L588 246.6 L588.4 247.6 L589.1 250 L589.6 251.2 L590 252.6 L590.3 254 L590.7 255.2 L591.3 258.1 L591.8 257 L592.2 258 L592.7 258.9 L593.2 259.6 L593.7 259.9 L594.2 260.8 L594.7 261.3 L594.9 265 L595.5 265.9 L596 267.6 L596.9 266.1 L597.5 267.5 L598.1 268.6 L598.7 269.3 L599 272.1 L600.2 271.8 L600.9 272.6 L601.6 273.1 L601.8 274.6 L602.5 275.8 L603.2 277.3 L604.2 279.9 L604.9 281.2 L605.9 281 L606.7 282 L606.9 283.2 L607.2 283.7 L607.9 284.5 L609.2 285.4 L609.9 286.7 L610.8 285.7 L611.6 287.2 L612.9 287.9 L613.7 288.6 L614.4 289 L614.7 291 L615.5 291.4 L616.8 293.3 L617.4 291.5 L618.6 291.3 L619.8 290.9 L621.4 292.7 L622.2 293.4 L622.5 293.5 L623.2 294.4 L623.8 295.8 L624.4 295.7 L625.3 296.1 L626.1 296.3 L626.9 296.2 L627.5 297.1 L628.5 297.8 L629.8 299.5 L630.8 299.6 L631.8 300.3 L633 301 L634 301.3 L635.1 301.7 L636.1 302.3 L637.2 303.3 L637.7 302.5 L639 301.3 L640.1 301.8 L640.9 304.7 L642 305.2 L643.6 304.3 L644.7 303.9 L645.4 305.8 L646.5 306.3 L647.6 306.9 L649 307.9 L650.1 308.3 L651.3 309.1 L652.4 309.7 L652.9 310.5 L654 311 L655 310.6 L656.1 310.6 L657.2 310.7 L658.7 311 L659.8 312.1 L660.9 312 L661.7 310.8 L662.8 310.8 L663.9 311.3 L665.3 311.6 L666.7 313.1 L667.8 313.7 L668.9 313.9 L669.9 314.2 L671 314.7 L672.1 315.5 L673.1 316.5 L674.1 315.6 L675.2 316.5 L676.3 317 L677.6 315.6 L678.7 316.1 L679.9 318.6 L680.9 317.6 L682 317.9 L682 430 L495.1 430 Z" fill="#fff" stroke="none"/>
<path d="M495.1 229.4 L495.3 228.2 L495.4 227.1 L495.5 227.9 L495.3 224.8 L495.5 223.9 L496.2 223.1 L496.3 221.4 L496.4 221.8 L496.6 220.5 L496.4 219.3 L496.6 218 L497.1 214.8 L497.2 213.4 L497.3 212.8 L497.1 211.9 L497.6 212.2 L497.1 210 L497.6 207.6 L497.7 206.7 L497.7 206.4 L497.8 205.2 L497.9 203.7 L498.2 203.6 L498.2 202.3 L498.3 201.7 L498.4 200.6 L498.8 200.5 L498.8 198.1 L498.9 196.4 L498.6 193.5 L498.7 191.5 L498.8 191 L498.8 189.7 L498.9 188.8 L499.2 187.3 L499.3 186.5 L499.3 185.2 L499.4 183.8 L499.5 182.6 L499.6 182.2 L499.5 180.9 L499.6 179.9 L499.7 178.9 L499.7 179.5 L499.7 177.1 L499.8 175.7 L499.7 176.3 L499.8 174.8 L499.8 173.5 L500 171.2 L500 169.6 L500.1 168.1 L500.4 169.3 L500.1 167.5 L500.2 165.5 L500.3 164.8 L500.4 163.1 L500.2 161.7 L500.2 160.1 L500.8 159.5 L500.8 158.6 L500.6 160.1 L500.7 158.8 L500.8 157.4 L500.5 155.4 L500.5 155 L500.6 153.1 L501 149.7 L501 149.1 L501.1 148.2 L501.3 147.3 L501.4 145.6 L501.5 144.5 L501.7 142.4 L501.2 138.9 L501.2 137.2 L501.3 135.4 L501.5 139.6 L501.5 138.6 L501.6 134.1 L501.3 132.8 L501.9 131.9 L502 130.4 L501.6 129.2 L501.7 127.1 L501.7 126.3 L502.2 127.5 L501.9 127.6 L502 126.7 L501.8 126.5 L501.9 125.1 L502.8 122.6 L502.8 120.8 L502.7 117.8 L502.8 116.7 L502.8 115.6 L502.4 116.1 L503 113.9 L503.1 113.1 L502.6 112.8 L502.7 111.8 L502.7 111.2 L503.5 112 L503.8 112.9 L504.1 114.5 L504.2 115.8 L504.1 116.2 L505.5 117.5 L505.4 117.6 L505.7 118.6 L505.7 120.3 L506 119.4 L506.2 118.3 L506.2 119.7 L506.4 118.5 L506.6 115.6 L506.8 114.6 L506.9 111.5 L507.2 110.6 L507.3 110.2 L507.5 109.2 L508.3 110.1 L508.6 111.7 L508.8 109.3 L509.3 111.8 L509.6 112.9 L509.9 113.5 L509.5 114.6 L510.2 117.7 L510.5 119.1 L510.8 116.6 L511.1 117.8 L511.4 118.8 L511.1 122 L511.4 123.7 L511.7 124.4 L512 125.6 L512.3 126 L512.7 128.3 L512.9 129.4 L512.9 128.7 L513.1 129.9 L513.3 130.6 L513.7 131.7 L513.9 133.1 L514.1 134.2 L515.1 136 L515.4 136.7 L515.6 137.2 L514.9 137.8 L515.1 138.8 L515.3 140.7 L515.9 143 L516.1 144.1 L516.4 145.3 L516.6 145.6 L516.8 146.6 L517.1 147.4 L517.2 150.5 L517.4 152.5 L517.7 153.2 L518 154.2 L518.3 156.1 L519.2 154.8 L519.5 156.2 L519.8 157.2 L519.8 160.3 L520.2 161.6 L520.7 160 L521.1 159.4 L521.4 159.8 L521.8 162.4 L522.2 163.6 L522.6 164.5 L523.3 164.2 L523.7 164.7 L524 165.7 L524.4 166.9 L524.6 165.3 L524.6 165.8 L525.1 163.1 L525.6 161.9 L525.9 162.4 L526.8 159.6 L527.4 159.1 L528 159.8 L528.7 159.4 L529.6 154.5 L530.4 154.5 L531.4 153.9 L532.6 158.7 L533.9 158.7 L535.1 157.8 L536 155.8 L536.8 156.7 L537.4 157.7 L538 160.1 L538.3 159.3 L538.3 157.8 L538.6 156.8 L538.8 155 L538.7 153.3 L539.5 150.9 L539.8 150 L539.5 150 L540 148.4 L540.2 147.6 L540.5 146.4 L540.9 143.8 L541.2 143.3 L541.5 141.6 L541.6 139.8 L542.1 141.1 L542.3 139.6 L542.5 139.6 L542.3 135.1 L542.6 134.2 L542.8 133.6 L543.3 137.3 L543.7 139.1 L543.7 139.5 L543.9 140.1 L543.9 141.6 L544 143.2 L544.2 146 L544.4 147.3 L544.5 147.8 L545.3 146.6 L545.5 147.7 L545.7 148.7 L545.8 150.8 L546 151.5 L546.2 153.3 L546.4 154.5 L546.5 155.1 L546.7 156.2 L547 158.5 L547.2 159.6 L547.4 160.4 L547.6 159.5 L547.8 160.9 L548 163.1 L548.2 163.5 L548.5 164.8 L548.5 166.3 L549.1 166.8 L549.3 169.1 L549.6 170.3 L549.9 171 L549.7 172.8 L550.5 173.2 L550.8 174.6 L550.8 174.6 L551.1 175.4 L551.4 176.5 L552.1 178.2 L552.4 179.5 L552.8 180.8 L552.6 181.3 L552.9 182.6 L553 186.9 L553.4 188 L553.7 189.7 L554.7 187.7 L555 186 L555.3 184.7 L555.6 183.1 L555.9 182.3 L556.4 182.7 L556.7 180.7 L557 179.7 L557.5 176.8 L557.8 176 L558.2 175.5 L558.2 174.1 L558.6 172.6 L559.1 171.7 L559.5 170.4 L559.9 169.5 L560.4 169.8 L560.4 168.4 L560.8 167 L561.2 166.5 L561.6 165.4 L562.1 164.8 L562.5 164.3 L563 163.1 L563.4 161 L563.6 161.7 L564.1 160.7 L565 157.8 L565.5 157.2 L565.5 157.7 L566 156.6 L566.5 155.4 L567.4 153.9 L567.5 154.4 L567.5 156.7 L567.7 157.6 L567.9 159.5 L567.5 159.8 L567.7 160.9 L568.1 163.2 L568.5 164.7 L568.7 165.8 L568.6 168.2 L568.8 169 L568.9 169.7 L569.2 169.2 L569.3 169.3 L569.5 170 L570.4 169.8 L570.5 170.5 L570.7 171.7 L570.1 172.9 L570.3 173.7 L570.5 174.7 L570.9 177.1 L571.1 178 L571.3 178.7 L571.5 179.8 L571.7 180.8 L571.2 184 L571.4 184.9 L572.2 185.1 L572.4 186.4 L572.6 188 L572.4 187.2 L572.9 192.3 L573.1 193.7 L573.4 194.5 L573.6 194 L573.9 194.8 L573.9 197.5 L574.1 198.6 L574.7 196.2 L575 197.3 L575.2 198.5 L575.2 201 L575.5 202.2 L575.7 203.6 L575.6 204.9 L575.8 205.9 L576.1 207.5 L576.7 208.9 L576.9 209.9 L577.1 210.4 L577.3 212.5 L577.6 212.7 L577.9 213.8 L577.7 211.9 L578 213.3 L578.2 215.1 L578.9 218.9 L579.2 219.7 L579.5 221.1 L579.1 221.2 L579.4 222 L579.7 223.9 L580.4 224.8 L580.8 225.4 L581.1 226.4 L581.7 226.7 L582.1 227.8 L582.3 230 L582.6 230.9 L582.9 231.8 L583.2 232.5 L583.5 233.5 L583.9 234.8 L584.1 237.2 L584.5 238.3 L584.5 239.9 L584.9 241.2 L585.2 242.9 L586.4 243.1 L586.8 244.2 L587.2 245.4 L587.3 244.3 L587.7 245.5 L588 246.6 L588.4 247.6 L589.1 250 L589.6 251.2 L590 252.6 L590.3 254 L590.7 255.2 L591.3 258.1 L591.8 257 L592.2 258 L592.7 258.9 L593.2 259.6 L593.7 259.9 L594.2 260.8 L594.7 261.3 L594.9 265 L595.5 265.9 L596 267.6 L596.9 266.1 L597.5 267.5 L598.1 268.6 L598.7 269.3 L599 272.1 L600.2 271.8 L600.9 272.6 L601.6 273.1 L601.8 274.6 L602.5 275.8 L603.2 277.3 L604.2 279.9 L604.9 281.2 L605.9 281 L606.7 282 L606.9 283.2 L607.2 283.7 L607.9 284.5 L609.2 285.4 L609.9 286.7 L610.8 285.7 L611.6 287.2 L612.9 287.9 L613.7 288.6 L614.4 289 L614.7 291 L615.5 291.4 L616.8 293.3 L617.4 291.5 L618.6 291.3 L619.8 290.9 L621.4 292.7 L622.2 293.4 L622.5 293.5 L623.2 294.4 L623.8 295.8 L624.4 295.7 L625.3 296.1 L626.1 296.3 L626.9 296.2 L627.5 297.1 L628.5 297.8 L629.8 299.5 L630.8 299.6 L631.8 300.3 L633 301 L634 301.3 L635.1 301.7 L636.1 302.3 L637.2 303.3 L637.7 302.5 L639 301.3 L640.1 301.8 L640.9 304.7 L642 305.2 L643.6 304.3 L644.7 303.9 L645.4 305.8 L646.5 306.3 L647.6 306.9 L649 307.9 L650.1 308.3 L651.3 309.1 L652.4 309.7 L652.9 310.5 L654 311 L655 310.6 L656.1 310.6 L657.2 310.7 L658.7 311 L659.8 312.1 L660.9 312 L661.7 310.8 L662.8 310.8 L663.9 311.3 L665.3 311.6 L666.7 313.1 L667.8 313.7 L668.9 313.9 L669.9 314.2 L671 314.7 L672.1 315.5 L673.1 316.5 L674.1 315.6 L675.2 316.5 L676.3 317 L677.6 315.6 L678.7 316.1 L679.9 318.6 L680.9 317.6 L682 317.9" fill="none" stroke="#000" stroke-width="3.0" stroke-linejoin="miter" stroke-miterlimit="3"/>
<path d="M487.8 240.7 L488 239.5 L488.1 238.4 L488.2 238.9 L488.4 234.8 L488.5 233.1 L488.7 232.1 L489 232.8 L489.1 231.7 L489.2 230.8 L488.6 227.5 L488.8 226.6 L488.9 225.4 L490.1 225.9 L490.2 225.1 L489.7 224.4 L489.8 223.1 L490.2 222.1 L490.3 221.1 L490.4 219.4 L490.1 220.5 L490.4 217.5 L490.5 216.4 L490.6 215.2 L490.7 214.3 L490.8 213.9 L491.3 211.9 L491 208.9 L491.4 209.2 L491.5 208.3 L491.6 205.2 L491.7 203.8 L491.8 203 L491.6 203.7 L491.6 203.4 L491.7 201.6 L492.3 199.7 L492.4 198.7 L492.4 197.5 L491.9 195.9 L492 194.6 L492.4 192.3 L492.3 192.1 L492.3 190.9 L492.4 189.4 L492.5 188.1 L492.5 187.5 L493.1 186.5 L493.2 185.1 L493.3 184.5 L492.8 185.3 L492.9 184.1 L492.7 182.8 L492.8 181.9 L492.8 180.9 L492.8 178.7 L492.8 177.4 L492.9 176 L492.9 174.3 L493 172.8 L493 171.7 L493.6 169.8 L493.4 171 L493.4 169.9 L493.2 167.4 L493.3 165.7 L493.2 163.4 L493.3 162 L493.9 161.2 L494 160 L493.9 159.1 L494 158 L494 155.9 L494.1 155.2 L494.2 154 L494.5 151.9 L494.6 150.5 L494 148.7 L494.1 147.4 L494.1 146.7 L494.8 146.7 L495 147.8 L494.8 144.4 L494.8 143.3 L494.3 144.9 L494.4 143.7 L494.5 142.6 L494.4 138.3 L494.4 137.3 L494.5 135.9 L495.2 136.1 L494.8 135.3 L494.8 134 L494.9 132.9 L495.1 133.5 L495.1 131.8 L495.3 130.2 L495.4 128.9 L495.2 126.5 L495.3 125.7 L495.3 124.8 L495.7 124 L495.1 124.3 L495.2 122.4 L495.2 120.8 L496 119.8 L496.3 121 L496.6 122.5 L496.5 122.8 L496.8 124.8 L497.6 127.8 L497.6 128.1 L498.4 130.8 L498.6 130.2 L498.8 129.2 L499.2 126.4 L499.4 125.4 L499.6 125 L499.3 122.8 L499.6 124.4 L499.8 123.5 L500.5 121.2 L500.7 119.4 L500 116.9 L500.2 116 L500.8 115.4 L501.2 117.2 L501.5 119.8 L501.8 121.1 L502.1 122.3 L502.3 123.3 L502.6 125.5 L503.1 124.9 L503.4 125.5 L503.8 128 L504.1 128.7 L504.4 130.1 L504.3 131.1 L504.6 131.7 L504.9 134.2 L505.1 135.4 L505.4 136.8 L506.3 136.7 L506.5 138.3 L506.8 139.6 L506.5 140.7 L506.9 141.7 L506.9 140.9 L507.1 140.8 L507.4 142.1 L507.9 146.6 L508.1 148.4 L508.7 147.1 L508.9 148.6 L509.2 148.9 L509.4 149.8 L509.6 151.8 L509.8 153.6 L510.1 155.2 L509.9 154.9 L510.2 156.4 L510.4 157.6 L510.7 158.7 L511 159.6 L511.3 160.3 L511.6 162.5 L511.7 163.1 L512.4 164.1 L512.7 165.5 L513 166.5 L513.2 166.4 L513.5 167.7 L513.8 167.8 L514.2 172.5 L514.5 169.2 L514.2 174 L514.4 175.1 L514.7 176.6 L515.5 177.6 L515.8 179.1 L516.2 179.2 L516.5 180.7 L516.6 181.9 L516.9 183 L517.5 182.8 L517.8 184.7 L518.1 188.2 L518.2 186 L518 181.1 L518.1 179.9 L518.3 181.3 L518.6 179.9 L519 176.6 L519.4 175.5 L519.8 173.9 L519.9 173.3 L520.3 172.4 L521.2 170.6 L521.7 170.1 L522.3 169.6 L522.8 170.2 L523.4 169.1 L523.8 165.4 L524.6 164.3 L525.9 164.3 L527.3 161.9 L528.5 161.3 L529.4 161.7 L529.7 162.3 L530.3 163.6 L530.4 167 L530.7 166.3 L530.9 165.4 L531.9 164.4 L531.9 164.4 L532.1 163.8 L532.2 162.6 L532.5 161.4 L533 159.8 L533.2 157.9 L533.6 154.1 L533.8 153 L534.1 151.9 L534 151 L534.5 151.3 L534.7 150 L535 149.1 L535.9 151 L536.1 149.1 L535.7 145 L536.1 144.8 L536.3 143.9 L536.3 146.2 L536.5 147.6 L536.9 148.9 L537.1 149.7 L537.2 151.2 L537.6 150.9 L537.7 151.3 L537.4 155.2 L537.6 155.8 L537.8 157.2 L538.2 156.1 L538.1 157.3 L538.3 159.5 L539.1 160.4 L539.4 161.5 L539.3 161.4 L539.6 162.4 L539.8 163.5 L539.8 165.4 L540 166.2 L539.9 166 L540.1 167.4 L540.4 172.5 L540.6 173.6 L540.9 174.9 L541.4 174.4 L541.7 175.5 L541.8 178.5 L542.1 179.8 L542.4 180.4 L543.1 179.8 L543.4 180.8 L543.7 182.5 L544 183.8 L544.3 185.7 L544.4 186.1 L544.7 187.1 L545 188.2 L545.3 189.1 L545.6 190.9 L546.3 193.3 L546.4 194.5 L546.8 195.3 L547.1 197 L547.7 196.6 L547.5 197.8 L547.8 198.5 L548.3 199.8 L548.6 198.2 L548.7 198.7 L549 197.4 L549.2 196 L549.2 192.9 L549.5 192 L549.8 191.1 L550.2 189.4 L550.5 187.5 L551.3 186.8 L551.5 186.2 L551.9 184.9 L552.2 183.6 L552.7 183.5 L553.1 182.8 L553 180.8 L553.3 179.2 L554.6 176.8 L555 175.7 L555.4 174.5 L555.4 176.6 L555.4 174.7 L556.4 170.2 L556.8 168.9 L557 171.7 L557.4 170 L557.9 167.9 L558.4 167.3 L558.6 166.3 L559.1 165.5 L559.6 164.3 L560.1 163.4 L560.6 162.6 L560.7 164 L560.9 164.9 L561 166.1 L561.7 169.8 L561.9 170.7 L561.6 171.1 L561.7 171.9 L561.9 173.2 L562 175 L562.2 176.1 L562.5 177.5 L562.6 178.9 L562.6 177.9 L562.7 178.9 L562.9 180.8 L563.1 182.2 L563.3 182.8 L563.5 180 L563.8 182.9 L563.7 184.8 L563.7 186.2 L563.9 187.8 L564.1 188.5 L565 188.9 L565.2 189.5 L564.9 194.4 L564.9 193.1 L565.1 193.9 L565.9 195.5 L566.1 197 L566.3 198.3 L566.4 201.3 L566.6 202.3 L567.4 200 L567.6 201.3 L567.2 201.3 L567.8 201.8 L568 203.3 L567.7 206.6 L568.2 206.8 L568.4 208 L568.7 207.1 L568.5 212.2 L568.7 213.2 L569.2 212 L569.5 212.4 L569.7 213.9 L570.3 216.2 L570.6 217.5 L570.8 218.6 L570.5 219.6 L570.8 220.8 L571.3 219.3 L571.6 221.1 L572.1 224 L572.4 225.6 L572.4 226.5 L572.7 227.6 L573.1 226.7 L573.4 227.7 L573.7 229.2 L573.9 232.2 L574.3 232.9 L574.6 234.2 L574.9 236.1 L575.7 236.3 L576 236.5 L576.3 237.8 L576.2 240.1 L576.6 241.1 L577 240.8 L577.4 241.9 L577.8 245.2 L578.2 246.3 L578.3 245.6 L578.7 246.9 L579.1 248.6 L579.5 249.8 L579.9 249 L580.3 249.9 L580.7 251.4 L581 254.6 L581.4 256 L581.8 256.8 L582 259.1 L582.4 260 L582.9 261.2 L583.3 262.7 L583.7 263.7 L584.1 265.1 L584.8 264.9 L585.3 266 L585.7 266.8 L586 267.5 L586.4 267.8 L587.1 268.3 L587.6 269.1 L588.1 269.5 L588.6 270.3 L589.1 272.9 L589.7 274.3 L590.2 276 L590.6 277.4 L591.1 279.4 L591.7 281.1 L592.2 282.6 L593.3 282.5 L593.9 283.8 L594.5 283.9 L595 284.2 L595.7 284.8 L596.6 285.4 L597.3 285.5 L598 286.6 L598.7 286 L599.4 286.3 L600.2 287.4 L600.9 292.1 L601.7 293.2 L602 292.9 L602.8 293.7 L603.4 294.4 L604.2 295.8 L605.3 295 L606.1 295.2 L607.2 295 L607.5 296.7 L608.3 297.9 L609.1 299.2 L609.7 300.3 L610.5 300.8 L611.4 301.4 L612.7 301.7 L613.8 302 L614.7 300.8 L615.8 300.8 L616.8 300.9 L617.5 301.5 L618.5 305 L619.2 306.1 L619.7 305.9 L620.4 306.5 L620.7 310.5 L621.7 310.1 L622.6 311 L623.5 311.9 L625 310.3 L625.5 310.2 L626.3 310.4 L627.3 311.4 L628.7 312.3 L629.8 312.6 L630.8 312.9 L631.4 314.7 L632.4 315.6 L633.5 316.7 L635 315.8 L636 316.9 L637.1 317.1 L638.4 318.8 L639.5 318.9 L640.5 317.9 L642 316.1 L643.1 316.9 L643.7 322.8 L644.8 323 L645.9 324.2 L645.9 323.4 L647.4 323 L648.5 322.5 L649.9 324.6 L651 324.9 L651.8 321.4 L652.9 321.6 L654 321.3 L655.7 322.7 L656.8 323.5 L657.8 324.9 L658.9 324.9 L660 324.9 L661.1 323.8 L662.2 324.2 L663.3 324.3 L664.3 326.4 L665.1 327.2 L666.2 327.4 L667.6 327.9 L668.7 328.4 L669.6 328 L670.7 328.6 L671.9 328.9 L673.1 329.6 L674.2 329.6 L675.6 332.1 L676.6 329.7 L677.7 330 L677.7 430 L487.8 430 Z" fill="#fff" stroke="none"/>
<path d="M487.8 240.7 L488 239.5 L488.1 238.4 L488.2 238.9 L488.4 234.8 L488.5 233.1 L488.7 232.1 L489 232.8 L489.1 231.7 L489.2 230.8 L488.6 227.5 L488.8 226.6 L488.9 225.4 L490.1 225.9 L490.2 225.1 L489.7 224.4 L489.8 223.1 L490.2 222.1 L490.3 221.1 L490.4 219.4 L490.1 220.5 L490.4 217.5 L490.5 216.4 L490.6 215.2 L490.7 214.3 L490.8 213.9 L491.3 211.9 L491 208.9 L491.4 209.2 L491.5 208.3 L491.6 205.2 L491.7 203.8 L491.8 203 L491.6 203.7 L491.6 203.4 L491.7 201.6 L492.3 199.7 L492.4 198.7 L492.4 197.5 L491.9 195.9 L492 194.6 L492.4 192.3 L492.3 192.1 L492.3 190.9 L492.4 189.4 L492.5 188.1 L492.5 187.5 L493.1 186.5 L493.2 185.1 L493.3 184.5 L492.8 185.3 L492.9 184.1 L492.7 182.8 L492.8 181.9 L492.8 180.9 L492.8 178.7 L492.8 177.4 L492.9 176 L492.9 174.3 L493 172.8 L493 171.7 L493.6 169.8 L493.4 171 L493.4 169.9 L493.2 167.4 L493.3 165.7 L493.2 163.4 L493.3 162 L493.9 161.2 L494 160 L493.9 159.1 L494 158 L494 155.9 L494.1 155.2 L494.2 154 L494.5 151.9 L494.6 150.5 L494 148.7 L494.1 147.4 L494.1 146.7 L494.8 146.7 L495 147.8 L494.8 144.4 L494.8 143.3 L494.3 144.9 L494.4 143.7 L494.5 142.6 L494.4 138.3 L494.4 137.3 L494.5 135.9 L495.2 136.1 L494.8 135.3 L494.8 134 L494.9 132.9 L495.1 133.5 L495.1 131.8 L495.3 130.2 L495.4 128.9 L495.2 126.5 L495.3 125.7 L495.3 124.8 L495.7 124 L495.1 124.3 L495.2 122.4 L495.2 120.8 L496 119.8 L496.3 121 L496.6 122.5 L496.5 122.8 L496.8 124.8 L497.6 127.8 L497.6 128.1 L498.4 130.8 L498.6 130.2 L498.8 129.2 L499.2 126.4 L499.4 125.4 L499.6 125 L499.3 122.8 L499.6 124.4 L499.8 123.5 L500.5 121.2 L500.7 119.4 L500 116.9 L500.2 116 L500.8 115.4 L501.2 117.2 L501.5 119.8 L501.8 121.1 L502.1 122.3 L502.3 123.3 L502.6 125.5 L503.1 124.9 L503.4 125.5 L503.8 128 L504.1 128.7 L504.4 130.1 L504.3 131.1 L504.6 131.7 L504.9 134.2 L505.1 135.4 L505.4 136.8 L506.3 136.7 L506.5 138.3 L506.8 139.6 L506.5 140.7 L506.9 141.7 L506.9 140.9 L507.1 140.8 L507.4 142.1 L507.9 146.6 L508.1 148.4 L508.7 147.1 L508.9 148.6 L509.2 148.9 L509.4 149.8 L509.6 151.8 L509.8 153.6 L510.1 155.2 L509.9 154.9 L510.2 156.4 L510.4 157.6 L510.7 158.7 L511 159.6 L511.3 160.3 L511.6 162.5 L511.7 163.1 L512.4 164.1 L512.7 165.5 L513 166.5 L513.2 166.4 L513.5 167.7 L513.8 167.8 L514.2 172.5 L514.5 169.2 L514.2 174 L514.4 175.1 L514.7 176.6 L515.5 177.6 L515.8 179.1 L516.2 179.2 L516.5 180.7 L516.6 181.9 L516.9 183 L517.5 182.8 L517.8 184.7 L518.1 188.2 L518.2 186 L518 181.1 L518.1 179.9 L518.3 181.3 L518.6 179.9 L519 176.6 L519.4 175.5 L519.8 173.9 L519.9 173.3 L520.3 172.4 L521.2 170.6 L521.7 170.1 L522.3 169.6 L522.8 170.2 L523.4 169.1 L523.8 165.4 L524.6 164.3 L525.9 164.3 L527.3 161.9 L528.5 161.3 L529.4 161.7 L529.7 162.3 L530.3 163.6 L530.4 167 L530.7 166.3 L530.9 165.4 L531.9 164.4 L531.9 164.4 L532.1 163.8 L532.2 162.6 L532.5 161.4 L533 159.8 L533.2 157.9 L533.6 154.1 L533.8 153 L534.1 151.9 L534 151 L534.5 151.3 L534.7 150 L535 149.1 L535.9 151 L536.1 149.1 L535.7 145 L536.1 144.8 L536.3 143.9 L536.3 146.2 L536.5 147.6 L536.9 148.9 L537.1 149.7 L537.2 151.2 L537.6 150.9 L537.7 151.3 L537.4 155.2 L537.6 155.8 L537.8 157.2 L538.2 156.1 L538.1 157.3 L538.3 159.5 L539.1 160.4 L539.4 161.5 L539.3 161.4 L539.6 162.4 L539.8 163.5 L539.8 165.4 L540 166.2 L539.9 166 L540.1 167.4 L540.4 172.5 L540.6 173.6 L540.9 174.9 L541.4 174.4 L541.7 175.5 L541.8 178.5 L542.1 179.8 L542.4 180.4 L543.1 179.8 L543.4 180.8 L543.7 182.5 L544 183.8 L544.3 185.7 L544.4 186.1 L544.7 187.1 L545 188.2 L545.3 189.1 L545.6 190.9 L546.3 193.3 L546.4 194.5 L546.8 195.3 L547.1 197 L547.7 196.6 L547.5 197.8 L547.8 198.5 L548.3 199.8 L548.6 198.2 L548.7 198.7 L549 197.4 L549.2 196 L549.2 192.9 L549.5 192 L549.8 191.1 L550.2 189.4 L550.5 187.5 L551.3 186.8 L551.5 186.2 L551.9 184.9 L552.2 183.6 L552.7 183.5 L553.1 182.8 L553 180.8 L553.3 179.2 L554.6 176.8 L555 175.7 L555.4 174.5 L555.4 176.6 L555.4 174.7 L556.4 170.2 L556.8 168.9 L557 171.7 L557.4 170 L557.9 167.9 L558.4 167.3 L558.6 166.3 L559.1 165.5 L559.6 164.3 L560.1 163.4 L560.6 162.6 L560.7 164 L560.9 164.9 L561 166.1 L561.7 169.8 L561.9 170.7 L561.6 171.1 L561.7 171.9 L561.9 173.2 L562 175 L562.2 176.1 L562.5 177.5 L562.6 178.9 L562.6 177.9 L562.7 178.9 L562.9 180.8 L563.1 182.2 L563.3 182.8 L563.5 180 L563.8 182.9 L563.7 184.8 L563.7 186.2 L563.9 187.8 L564.1 188.5 L565 188.9 L565.2 189.5 L564.9 194.4 L564.9 193.1 L565.1 193.9 L565.9 195.5 L566.1 197 L566.3 198.3 L566.4 201.3 L566.6 202.3 L567.4 200 L567.6 201.3 L567.2 201.3 L567.8 201.8 L568 203.3 L567.7 206.6 L568.2 206.8 L568.4 208 L568.7 207.1 L568.5 212.2 L568.7 213.2 L569.2 212 L569.5 212.4 L569.7 213.9 L570.3 216.2 L570.6 217.5 L570.8 218.6 L570.5 219.6 L570.8 220.8 L571.3 219.3 L571.6 221.1 L572.1 224 L572.4 225.6 L572.4 226.5 L572.7 227.6 L573.1 226.7 L573.4 227.7 L573.7 229.2 L573.9 232.2 L574.3 232.9 L574.6 234.2 L574.9 236.1 L575.7 236.3 L576 236.5 L576.3 237.8 L576.2 240.1 L576.6 241.1 L577 240.8 L577.4 241.9 L577.8 245.2 L578.2 246.3 L578.3 245.6 L578.7 246.9 L579.1 248.6 L579.5 249.8 L579.9 249 L580.3 249.9 L580.7 251.4 L581 254.6 L581.4 256 L581.8 256.8 L582 259.1 L582.4 260 L582.9 261.2 L583.3 262.7 L583.7 263.7 L584.1 265.1 L584.8 264.9 L585.3 266 L585.7 266.8 L586 267.5 L586.4 267.8 L587.1 268.3 L587.6 269.1 L588.1 269.5 L588.6 270.3 L589.1 272.9 L589.7 274.3 L590.2 276 L590.6 277.4 L591.1 279.4 L591.7 281.1 L592.2 282.6 L593.3 282.5 L593.9 283.8 L594.5 283.9 L595 284.2 L595.7 284.8 L596.6 285.4 L597.3 285.5 L598 286.6 L598.7 286 L599.4 286.3 L600.2 287.4 L600.9 292.1 L601.7 293.2 L602 292.9 L602.8 293.7 L603.4 294.4 L604.2 295.8 L605.3 295 L606.1 295.2 L607.2 295 L607.5 296.7 L608.3 297.9 L609.1 299.2 L609.7 300.3 L610.5 300.8 L611.4 301.4 L612.7 301.7 L613.8 302 L614.7 300.8 L615.8 300.8 L616.8 300.9 L617.5 301.5 L618.5 305 L619.2 306.1 L619.7 305.9 L620.4 306.5 L620.7 310.5 L621.7 310.1 L622.6 311 L623.5 311.9 L625 310.3 L625.5 310.2 L626.3 310.4 L627.3 311.4 L628.7 312.3 L629.8 312.6 L630.8 312.9 L631.4 314.7 L632.4 315.6 L633.5 316.7 L635 315.8 L636 316.9 L637.1 317.1 L638.4 318.8 L639.5 318.9 L640.5 317.9 L642 316.1 L643.1 316.9 L643.7 322.8 L644.8 323 L645.9 324.2 L645.9 323.4 L647.4 323 L648.5 322.5 L649.9 324.6 L651 324.9 L651.8 321.4 L652.9 321.6 L654 321.3 L655.7 322.7 L656.8 323.5 L657.8 324.9 L658.9 324.9 L660 324.9 L661.1 323.8 L662.2 324.2 L663.3 324.3 L664.3 326.4 L665.1 327.2 L666.2 327.4 L667.6 327.9 L668.7 328.4 L669.6 328 L670.7 328.6 L671.9 328.9 L673.1 329.6 L674.2 329.6 L675.6 332.1 L676.6 329.7 L677.7 330" fill="none" stroke="#000" stroke-width="3.0" stroke-linejoin="miter" stroke-miterlimit="3"/>
<path d="M481.3 250.8 L481.4 249.6 L481.6 248.5 L481.8 245 L481.9 243.8 L481.9 244.5 L482 243.5 L482.2 242.3 L482.8 239.8 L482.9 238.5 L482.5 241.6 L482.6 240.6 L483 238.3 L483.4 236.6 L483.5 235.8 L483.6 234.6 L483.5 233.2 L483.6 232 L484 230.7 L483.5 228.7 L483.6 227.3 L483.7 226 L484.1 225.5 L484.2 223.6 L484.2 223.3 L484.5 219.6 L484.5 220.6 L484.5 219.5 L484.2 220.2 L484.3 219.1 L484.3 218.4 L484.8 216.3 L484.8 215.5 L484.6 212.6 L485.3 210.5 L485 209.5 L485.1 208.6 L485.1 207.3 L485.7 207.9 L485.8 206.3 L485.3 202.4 L485.3 201.5 L485.4 200.7 L485.7 199.9 L485.8 198.8 L485.7 199.5 L486.2 196.3 L486.3 196 L486.3 194.4 L486.1 195.4 L486.2 194 L486.5 192.8 L486.6 191.6 L486.7 191 L486.5 188.7 L486.5 187.3 L486.3 188 L486.3 186.5 L486.4 185.4 L486.4 181.2 L486.5 179.9 L486.7 176.9 L486.7 176.5 L486.8 175 L487.1 175.1 L487.1 174 L487.1 173.1 L487.1 173.1 L487.2 171.3 L487.2 170.3 L487.3 168.1 L487.5 167.2 L487.5 166.2 L487.6 165 L487.4 165.4 L487.5 164.1 L487.5 162.8 L487.6 160.7 L487.6 159.3 L487.7 159.2 L487.6 159.3 L487.6 158 L487.7 156.9 L487.6 153.2 L487.7 152.1 L487.9 153.1 L488 152.2 L488.3 151 L488.3 149.9 L488.4 148.8 L488.4 147.5 L488.6 147.8 L488.6 146.5 L488.6 146.1 L488.7 145.2 L488.8 144.2 L488.8 143.4 L488.6 142.7 L488.7 141.4 L488.7 139.4 L488.7 137.2 L488.3 135 L488.4 133.5 L488.4 132.4 L489.1 131 L488.8 129.9 L488.8 128.4 L489.3 129.7 L489.4 128.2 L489.4 127 L489.7 127.6 L490 127.8 L489.8 127.6 L490.1 128.1 L490.6 129 L490.9 130.4 L490.7 132.4 L491 134.1 L491.2 132.7 L492.7 133.9 L492.9 132.5 L493.1 132.1 L492.5 129.9 L492.6 130.6 L492.8 129.2 L493.5 125.4 L493.7 124.3 L493.4 122.7 L493.6 121.6 L493.8 120 L494.1 118.6 L494.4 119.6 L494.6 120.8 L495.2 123.5 L495.4 124.7 L495.7 125.4 L495.6 125.3 L495.9 125.7 L496.5 129.9 L496.7 131.3 L497 132 L496.6 133.6 L496.8 135.1 L497.3 133.6 L497.6 134.5 L497.8 138.1 L498.1 138.8 L498.3 139.8 L498.8 140.1 L499.1 141.3 L499.5 141.8 L499.7 142 L500 144.2 L500.3 146.3 L500.1 147.5 L500.2 147.2 L500.5 147.3 L500.8 148.9 L501.7 151 L502 152.3 L502.2 153.5 L502.2 153.1 L502.5 154.3 L502.7 155.1 L503 158.7 L503.3 159.9 L503.6 161.5 L503.8 162.2 L503.9 162.5 L504.2 164.1 L504.6 165.6 L504.8 167.1 L504.9 168.7 L505.2 170.2 L505.8 170.9 L506.1 171.7 L506.4 172.2 L506.6 171.1 L506.9 172.1 L507.1 173.4 L507.5 175.7 L508 179.5 L508.3 179.7 L508.2 178.4 L508.5 179.8 L508.8 180.4 L509.3 181.8 L509.6 183.2 L509.9 184.8 L510.1 186.1 L510.4 186.4 L510.9 187.9 L511.2 188.9 L511.6 190 L511.4 193.9 L511.7 195.5 L512.7 194.9 L512.7 193.8 L512.4 193.9 L512.5 192.1 L512.7 190.7 L512.5 187.6 L512.9 186.3 L513.2 184.7 L514.5 182.9 L515 182.2 L515.4 181.2 L515.4 180.6 L515.9 180.5 L516.5 179.4 L517.1 178.8 L517.8 177.2 L518.4 173.4 L519.1 173.8 L520.4 172.5 L521.6 171.9 L523 173.1 L523.8 172.3 L524.4 173.6 L525.1 176 L525.5 175.1 L525.9 173.6 L525.7 174.6 L526.1 173.3 L526.5 172 L526.8 167.8 L527.2 167.5 L527.5 166.7 L528.3 165.9 L528.5 166 L528.8 164.1 L529.2 163.1 L529.9 162.7 L530.2 162.1 L530.5 162.9 L530.4 162.4 L530.8 165.1 L531.1 166.3 L531.5 167.1 L531.8 168.2 L531.9 165.7 L532.2 170.3 L532.5 171.3 L532.8 172.9 L533 173.7 L533.3 175.2 L533.6 176.4 L534.2 179.4 L534.4 178.7 L534.7 180.3 L534.6 183 L534.9 182.9 L535.7 181.1 L536 182.3 L536.2 184.7 L536.3 186.1 L536.6 187.4 L537.1 189 L537.4 189.3 L537.7 190.4 L538 191.2 L537.7 193.1 L538 194.1 L538.8 194.8 L539.1 195.9 L539.4 197.3 L539.4 197.8 L540.3 200.5 L541.1 202.7 L541.4 204.1 L541.7 205.4 L541.3 205.6 L541.6 206.6 L541.9 207.9 L542.1 206.8 L542.5 207.9 L542.8 209 L543 207.3 L543.1 206.2 L543.2 205.3 L543.4 204 L544 201.9 L544 201.7 L544.6 202 L544.3 201.9 L544.6 200.6 L545.2 195.4 L545.5 194 L545.9 195.5 L546 195.2 L546.4 194.5 L547 192.6 L547 191.8 L547.4 190.9 L547.8 191.4 L548.2 190.1 L548.1 187.2 L548.5 185.8 L548.9 184.4 L549.9 186.3 L550.4 185.4 L550.9 184 L551.3 180.5 L551.8 181.1 L552.4 180 L552.8 178.9 L553.4 177.9 L554 177.4 L555 174.5 L555.1 175.7 L555 178.8 L555.2 179.4 L555.3 180.1 L555.8 178.8 L556 180 L555.8 182.3 L556 184.6 L556.2 185.5 L556.4 187.3 L557 185.6 L557.2 187.1 L557.4 187.9 L557.6 190.2 L557.8 190.8 L558.1 192.1 L558.3 193.3 L558.5 194 L558.6 194.6 L558.9 194.9 L559.1 198.3 L559.3 199.7 L559.1 200.3 L559.3 201.2 L559.7 201.1 L559.9 202 L560.2 203.9 L560.6 204.4 L560.9 206.3 L561.1 207.7 L560.9 209.5 L561.2 210.2 L561.4 212 L561.9 213.2 L562.2 214.9 L562.4 216.2 L562.6 218.1 L562.7 219 L563 218.6 L563.2 219.8 L564.1 220.2 L564.3 221.3 L564.2 223.1 L564.4 224.5 L564.7 224.7 L564.9 225.9 L565.4 226.8 L565.7 227.8 L565.6 228.6 L565.8 230.3 L566.3 230 L567.1 233.8 L567.4 234.9 L567.7 236 L567.7 235.5 L568 236.3 L568.3 237.5 L568.5 239.4 L568.8 239.9 L569.1 242 L569.4 244.1 L569.7 244.7 L570.3 245.2 L570.6 245.9 L570.8 246.7 L571.2 247.3 L571.6 248.8 L572 249 L572.3 249.9 L572.8 250.6 L573.1 251.7 L573.5 253.2 L573.6 256.3 L573.9 256.5 L574.2 258.4 L574.6 258.7 L575 258.6 L575.4 259.9 L575.8 261.7 L576.2 263.3 L576.6 264.9 L577.3 266.8 L577.7 269.5 L578.4 270 L578.8 270.9 L578.8 272.1 L579.2 272.5 L579.7 272.7 L579.9 276.2 L580.4 277.5 L581.1 276.6 L581.5 277 L582 277.6 L582.7 279.4 L583.3 279.1 L583.8 280.4 L583.8 281.2 L584.5 282.6 L585.2 283 L585.7 284 L586 286 L586.2 284.5 L586.8 286.3 L587.4 287.2 L588.3 288.5 L588.9 289.3 L589.5 290.6 L590.9 293 L591.5 294.2 L591.6 297.2 L592.3 298.5 L593.3 297.1 L594.1 297.5 L594.8 298.5 L595.5 298.6 L596.3 299.4 L596.9 299.4 L597.6 300.3 L598.1 301.8 L599.3 304 L600.1 304.4 L600.9 304.6 L601.3 304.4 L602.1 305.5 L603.5 307.6 L604 309.7 L604.4 309.8 L605.2 311.4 L606 312.4 L606.7 312.5 L607.5 313 L608.5 313.5 L610.6 312.6 L611.8 311.6 L612.8 311.5 L613 314.5 L613.7 314.7 L614.4 315.3 L615.3 313.5 L615.9 314.3 L616.4 319.2 L617.1 319.9 L618 318 L618.8 318.6 L619.6 317.1 L620.5 318.2 L621.2 321.9 L622.2 323 L623.2 323.2 L625.2 323.9 L626.2 325 L627.3 325.4 L628 326.6 L629.1 326.5 L630.2 327.5 L631.1 327 L632.2 327.1 L633 328 L634 329.1 L635.1 329.3 L636.2 328.3 L637.4 328.7 L639 329.1 L640.1 329.6 L641.2 330 L641.7 331.9 L642.8 331.7 L643.9 332.3 L645.1 332.6 L646.2 332.6 L647.3 333.5 L648 332.8 L649.1 335.1 L650.2 335.2 L651.3 335.7 L652.7 334.9 L653.8 335.9 L654.7 336 L655.8 335.9 L656.9 336.8 L657.9 336.9 L659 337.7 L660.1 337.4 L661.3 338.5 L662.4 339.1 L663.5 338.2 L665.1 340.2 L666.2 340.5 L667 337.6 L668.2 338.4 L669.1 341.6 L670.3 341.4 L671.4 341.1 L672.8 340.5 L673.9 340.8 L673.9 430 L481.3 430 Z" fill="#fff" stroke="none"/>
<path d="M481.3 250.8 L481.4 249.6 L481.6 248.5 L481.8 245 L481.9 243.8 L481.9 244.5 L482 243.5 L482.2 242.3 L482.8 239.8 L482.9 238.5 L482.5 241.6 L482.6 240.6 L483 238.3 L483.4 236.6 L483.5 235.8 L483.6 234.6 L483.5 233.2 L483.6 232 L484 230.7 L483.5 228.7 L483.6 227.3 L483.7 226 L484.1 225.5 L484.2 223.6 L484.2 223.3 L484.5 219.6 L484.5 220.6 L484.5 219.5 L484.2 220.2 L484.3 219.1 L484.3 218.4 L484.8 216.3 L484.8 215.5 L484.6 212.6 L485.3 210.5 L485 209.5 L485.1 208.6 L485.1 207.3 L485.7 207.9 L485.8 206.3 L485.3 202.4 L485.3 201.5 L485.4 200.7 L485.7 199.9 L485.8 198.8 L485.7 199.5 L486.2 196.3 L486.3 196 L486.3 194.4 L486.1 195.4 L486.2 194 L486.5 192.8 L486.6 191.6 L486.7 191 L486.5 188.7 L486.5 187.3 L486.3 188 L486.3 186.5 L486.4 185.4 L486.4 181.2 L486.5 179.9 L486.7 176.9 L486.7 176.5 L486.8 175 L487.1 175.1 L487.1 174 L487.1 173.1 L487.1 173.1 L487.2 171.3 L487.2 170.3 L487.3 168.1 L487.5 167.2 L487.5 166.2 L487.6 165 L487.4 165.4 L487.5 164.1 L487.5 162.8 L487.6 160.7 L487.6 159.3 L487.7 159.2 L487.6 159.3 L487.6 158 L487.7 156.9 L487.6 153.2 L487.7 152.1 L487.9 153.1 L488 152.2 L488.3 151 L488.3 149.9 L488.4 148.8 L488.4 147.5 L488.6 147.8 L488.6 146.5 L488.6 146.1 L488.7 145.2 L488.8 144.2 L488.8 143.4 L488.6 142.7 L488.7 141.4 L488.7 139.4 L488.7 137.2 L488.3 135 L488.4 133.5 L488.4 132.4 L489.1 131 L488.8 129.9 L488.8 128.4 L489.3 129.7 L489.4 128.2 L489.4 127 L489.7 127.6 L490 127.8 L489.8 127.6 L490.1 128.1 L490.6 129 L490.9 130.4 L490.7 132.4 L491 134.1 L491.2 132.7 L492.7 133.9 L492.9 132.5 L493.1 132.1 L492.5 129.9 L492.6 130.6 L492.8 129.2 L493.5 125.4 L493.7 124.3 L493.4 122.7 L493.6 121.6 L493.8 120 L494.1 118.6 L494.4 119.6 L494.6 120.8 L495.2 123.5 L495.4 124.7 L495.7 125.4 L495.6 125.3 L495.9 125.7 L496.5 129.9 L496.7 131.3 L497 132 L496.6 133.6 L496.8 135.1 L497.3 133.6 L497.6 134.5 L497.8 138.1 L498.1 138.8 L498.3 139.8 L498.8 140.1 L499.1 141.3 L499.5 141.8 L499.7 142 L500 144.2 L500.3 146.3 L500.1 147.5 L500.2 147.2 L500.5 147.3 L500.8 148.9 L501.7 151 L502 152.3 L502.2 153.5 L502.2 153.1 L502.5 154.3 L502.7 155.1 L503 158.7 L503.3 159.9 L503.6 161.5 L503.8 162.2 L503.9 162.5 L504.2 164.1 L504.6 165.6 L504.8 167.1 L504.9 168.7 L505.2 170.2 L505.8 170.9 L506.1 171.7 L506.4 172.2 L506.6 171.1 L506.9 172.1 L507.1 173.4 L507.5 175.7 L508 179.5 L508.3 179.7 L508.2 178.4 L508.5 179.8 L508.8 180.4 L509.3 181.8 L509.6 183.2 L509.9 184.8 L510.1 186.1 L510.4 186.4 L510.9 187.9 L511.2 188.9 L511.6 190 L511.4 193.9 L511.7 195.5 L512.7 194.9 L512.7 193.8 L512.4 193.9 L512.5 192.1 L512.7 190.7 L512.5 187.6 L512.9 186.3 L513.2 184.7 L514.5 182.9 L515 182.2 L515.4 181.2 L515.4 180.6 L515.9 180.5 L516.5 179.4 L517.1 178.8 L517.8 177.2 L518.4 173.4 L519.1 173.8 L520.4 172.5 L521.6 171.9 L523 173.1 L523.8 172.3 L524.4 173.6 L525.1 176 L525.5 175.1 L525.9 173.6 L525.7 174.6 L526.1 173.3 L526.5 172 L526.8 167.8 L527.2 167.5 L527.5 166.7 L528.3 165.9 L528.5 166 L528.8 164.1 L529.2 163.1 L529.9 162.7 L530.2 162.1 L530.5 162.9 L530.4 162.4 L530.8 165.1 L531.1 166.3 L531.5 167.1 L531.8 168.2 L531.9 165.7 L532.2 170.3 L532.5 171.3 L532.8 172.9 L533 173.7 L533.3 175.2 L533.6 176.4 L534.2 179.4 L534.4 178.7 L534.7 180.3 L534.6 183 L534.9 182.9 L535.7 181.1 L536 182.3 L536.2 184.7 L536.3 186.1 L536.6 187.4 L537.1 189 L537.4 189.3 L537.7 190.4 L538 191.2 L537.7 193.1 L538 194.1 L538.8 194.8 L539.1 195.9 L539.4 197.3 L539.4 197.8 L540.3 200.5 L541.1 202.7 L541.4 204.1 L541.7 205.4 L541.3 205.6 L541.6 206.6 L541.9 207.9 L542.1 206.8 L542.5 207.9 L542.8 209 L543 207.3 L543.1 206.2 L543.2 205.3 L543.4 204 L544 201.9 L544 201.7 L544.6 202 L544.3 201.9 L544.6 200.6 L545.2 195.4 L545.5 194 L545.9 195.5 L546 195.2 L546.4 194.5 L547 192.6 L547 191.8 L547.4 190.9 L547.8 191.4 L548.2 190.1 L548.1 187.2 L548.5 185.8 L548.9 184.4 L549.9 186.3 L550.4 185.4 L550.9 184 L551.3 180.5 L551.8 181.1 L552.4 180 L552.8 178.9 L553.4 177.9 L554 177.4 L555 174.5 L555.1 175.7 L555 178.8 L555.2 179.4 L555.3 180.1 L555.8 178.8 L556 180 L555.8 182.3 L556 184.6 L556.2 185.5 L556.4 187.3 L557 185.6 L557.2 187.1 L557.4 187.9 L557.6 190.2 L557.8 190.8 L558.1 192.1 L558.3 193.3 L558.5 194 L558.6 194.6 L558.9 194.9 L559.1 198.3 L559.3 199.7 L559.1 200.3 L559.3 201.2 L559.7 201.1 L559.9 202 L560.2 203.9 L560.6 204.4 L560.9 206.3 L561.1 207.7 L560.9 209.5 L561.2 210.2 L561.4 212 L561.9 213.2 L562.2 214.9 L562.4 216.2 L562.6 218.1 L562.7 219 L563 218.6 L563.2 219.8 L564.1 220.2 L564.3 221.3 L564.2 223.1 L564.4 224.5 L564.7 224.7 L564.9 225.9 L565.4 226.8 L565.7 227.8 L565.6 228.6 L565.8 230.3 L566.3 230 L567.1 233.8 L567.4 234.9 L567.7 236 L567.7 235.5 L568 236.3 L568.3 237.5 L568.5 239.4 L568.8 239.9 L569.1 242 L569.4 244.1 L569.7 244.7 L570.3 245.2 L570.6 245.9 L570.8 246.7 L571.2 247.3 L571.6 248.8 L572 249 L572.3 249.9 L572.8 250.6 L573.1 251.7 L573.5 253.2 L573.6 256.3 L573.9 256.5 L574.2 258.4 L574.6 258.7 L575 258.6 L575.4 259.9 L575.8 261.7 L576.2 263.3 L576.6 264.9 L577.3 266.8 L577.7 269.5 L578.4 270 L578.8 270.9 L578.8 272.1 L579.2 272.5 L579.7 272.7 L579.9 276.2 L580.4 277.5 L581.1 276.6 L581.5 277 L582 277.6 L582.7 279.4 L583.3 279.1 L583.8 280.4 L583.8 281.2 L584.5 282.6 L585.2 283 L585.7 284 L586 286 L586.2 284.5 L586.8 286.3 L587.4 287.2 L588.3 288.5 L588.9 289.3 L589.5 290.6 L590.9 293 L591.5 294.2 L591.6 297.2 L592.3 298.5 L593.3 297.1 L594.1 297.5 L594.8 298.5 L595.5 298.6 L596.3 299.4 L596.9 299.4 L597.6 300.3 L598.1 301.8 L599.3 304 L600.1 304.4 L600.9 304.6 L601.3 304.4 L602.1 305.5 L603.5 307.6 L604 309.7 L604.4 309.8 L605.2 311.4 L606 312.4 L606.7 312.5 L607.5 313 L608.5 313.5 L610.6 312.6 L611.8 311.6 L612.8 311.5 L613 314.5 L613.7 314.7 L614.4 315.3 L615.3 313.5 L615.9 314.3 L616.4 319.2 L617.1 319.9 L618 318 L618.8 318.6 L619.6 317.1 L620.5 318.2 L621.2 321.9 L622.2 323 L623.2 323.2 L625.2 323.9 L626.2 325 L627.3 325.4 L628 326.6 L629.1 326.5 L630.2 327.5 L631.1 327 L632.2 327.1 L633 328 L634 329.1 L635.1 329.3 L636.2 328.3 L637.4 328.7 L639 329.1 L640.1 329.6 L641.2 330 L641.7 331.9 L642.8 331.7 L643.9 332.3 L645.1 332.6 L646.2 332.6 L647.3 333.5 L648 332.8 L649.1 335.1 L650.2 335.2 L651.3 335.7 L652.7 334.9 L653.8 335.9 L654.7 336 L655.8 335.9 L656.9 336.8 L657.9 336.9 L659 337.7 L660.1 337.4 L661.3 338.5 L662.4 339.1 L663.5 338.2 L665.1 340.2 L666.2 340.5 L667 337.6 L668.2 338.4 L669.1 341.6 L670.3 341.4 L671.4 341.1 L672.8 340.5 L673.9 340.8" fill="none" stroke="#000" stroke-width="3.0" stroke-linejoin="miter" stroke-miterlimit="3"/>
<path d="M474 262 L474.2 260.9 L474.3 259.7 L474.5 258.2 L474.6 256.3 L474.8 254.9 L475.5 255.4 L475.6 254.4 L474.9 253.7 L475 252.7 L475.6 248.9 L475.9 249.6 L476.1 248.1 L475.2 246.2 L475.4 244.9 L475.5 243.8 L476.4 246.4 L476.5 244.9 L476.7 238.2 L476.8 237 L476.8 240.3 L476.9 239.1 L476.8 236.8 L476.9 235.3 L477 234.1 L477.3 232.1 L477.3 231.1 L477.9 228.8 L478 227.3 L477.4 227.9 L477.5 226.6 L477.6 225.5 L477.7 226.7 L477.8 226.4 L477.9 221.4 L478 220.5 L478 219.5 L478.3 221.3 L478.4 219.5 L478.4 218.7 L478.5 214.9 L478.5 214 L478.6 213 L478.5 213.6 L478.6 212.5 L478.9 211.1 L478.9 210.6 L479 209.4 L478.7 207.3 L478.7 206.4 L478.9 205.1 L479 203.5 L479.1 203.2 L479.1 202.4 L478.8 200.8 L478.8 199.1 L478.9 197.8 L479.3 199.3 L479.3 197.9 L479.4 196.6 L479.3 190.3 L479.3 189.6 L479.4 188.5 L479.7 189.1 L479.7 188 L479.7 188.9 L479.7 188 L479.5 185.1 L479.6 184.2 L479.9 180.2 L480 179.1 L480 178.9 L480 176.5 L480 175.1 L480.1 174.3 L480.2 175.6 L480.3 174.3 L480.3 173.1 L480.4 172.2 L480.4 171.7 L480.3 170.5 L480.3 169.4 L480.6 167.5 L480.8 166.7 L480.9 164.9 L480.9 163.7 L480.6 163.8 L480.6 162.8 L480.8 160.7 L480.8 159.8 L480.9 158.5 L481 158.5 L481 157.6 L481.3 153.8 L481.3 153.4 L481 154.8 L481.3 154.7 L481 148.9 L481.1 149.9 L481.2 148.8 L481.2 147.7 L481.6 145.1 L481.7 143.7 L481.7 142.2 L481.9 143.4 L482 142.7 L482 141.8 L481.8 141.7 L481.8 140.5 L481.8 136.8 L481.8 136.8 L482.2 133.2 L482.2 132.2 L482.3 130.9 L482.7 134.9 L483 135.9 L482.5 134.7 L482.8 134.8 L483.1 136 L483.5 139.9 L483.8 141.2 L484.1 143 L484.5 139 L484.7 138.2 L484.9 137.5 L485.5 138.9 L485.7 138.1 L485.9 137 L485.5 134.2 L485.7 133.3 L485.9 131.5 L486.5 131.2 L486.7 129.7 L486.9 128.9 L487.3 127.2 L487.5 128.5 L487.2 131.7 L487.5 133.1 L487.7 134.4 L488.1 132.9 L488.4 134.2 L488.6 134.7 L489.4 136.7 L489.6 137.9 L489.9 139.3 L489.7 138 L489.9 138.5 L490.2 139.5 L490.7 144.5 L490.5 143.9 L490.8 143.1 L491.1 144.8 L490.9 148 L491.2 149.1 L491.5 149.1 L491.9 149.8 L492.1 151.7 L492.8 155.2 L493.2 154.4 L493.4 155.3 L493.4 156.2 L493.7 158.4 L494 159.6 L494.3 160.4 L494.6 159.3 L494.8 160 L495.1 161.5 L495.5 166.7 L495.8 167.8 L496.1 168.4 L496.1 167.7 L496.4 171.6 L496.7 173.5 L496.7 172.6 L497 173.5 L497.4 174.7 L497.7 175.5 L498.3 175.6 L498.8 175.9 L499.2 177.3 L499.5 177.4 L498.9 181.1 L499.2 181.7 L499.5 182.7 L500.7 181.8 L501 185.1 L501.3 186.4 L501.7 187.7 L501.9 186.8 L502.3 187.9 L502.7 188.6 L503.1 189.7 L503.5 191.1 L503.9 192.3 L504.3 193.1 L504.9 196 L505.3 196.8 L505.6 197.4 L506 198.9 L506.1 197.1 L506.2 194.4 L506.5 192.7 L506.8 191.2 L507.6 190.2 L508.1 189 L507.7 190.5 L508.3 189.1 L509.7 188.3 L510.4 183.8 L511.1 183.5 L511.8 183.1 L512.9 184 L514.2 183.4 L515.4 185.2 L516.5 183.8 L517.2 183.9 L517.7 184.8 L517.5 186 L517.8 184.3 L519.1 183.8 L518.6 181.6 L519 180.6 L519.2 182.2 L519.5 181.9 L520.3 179.4 L520.6 177.8 L520.9 176.8 L521.5 175.1 L521.7 173.8 L522 172.3 L522.4 171.8 L522.3 170.7 L522.6 168.8 L522.9 167.5 L523.5 169 L523.7 170.1 L524.1 172 L524.4 172.7 L524.6 173.9 L524.3 175.8 L524.5 176.4 L525.2 176.7 L525.4 178 L525.8 179.6 L526.1 181.5 L526.3 182.4 L526.2 184.7 L526.9 183.6 L527.2 184.9 L527.4 186.1 L527.7 189.3 L527.9 190.3 L527.9 191.1 L528.2 192.1 L528.2 192.5 L529.2 194.8 L529.4 194.5 L529.7 195.9 L529.9 197.2 L530.2 198.1 L530 199.7 L530.3 200.5 L530.6 201.6 L530.9 203.2 L531.3 204 L531.6 205 L532.4 205.7 L532.8 206.9 L532.8 212.1 L533.4 209.7 L533.8 210.5 L534.1 211.8 L534.4 212.1 L534.8 213.6 L535.1 214.8 L535.5 216.1 L535.9 216.8 L536.6 218.4 L536.9 217.7 L536.8 215.2 L537.1 214.3 L537.3 213.3 L538.5 214.5 L538.8 213.5 L539.1 212 L538.9 207.8 L539.2 206.8 L539.6 206.6 L539.9 205.3 L540.2 203.3 L540.9 204.2 L541.2 202.9 L541.6 202.2 L542 200.8 L542.3 199.7 L542.1 197.6 L542.4 196.4 L542.8 195 L543.4 194.5 L543.8 193.3 L544.1 192.2 L544 191.6 L544.4 189.9 L544.8 188.8 L545.1 186.7 L546.3 188.1 L546.7 187.1 L547.1 185.7 L547.4 181 L547.9 179.8 L548.3 178.7 L548.4 181.9 L548.6 182.9 L548.6 185.4 L548.8 186.2 L548.9 187.2 L548.9 187.2 L549.1 188.5 L549.3 189.7 L549.5 190.4 L549.6 192.6 L549.8 193 L549.9 194.4 L550.1 195.5 L550.3 198.5 L550.5 200 L551.3 200.2 L551.2 199.6 L551.5 200.7 L551.7 202.2 L551.9 203.7 L551.5 205.9 L551.7 206.4 L552.1 205.9 L552.3 207.4 L553.5 209.3 L553.8 209.8 L554 211 L553.3 213.4 L553.5 214.3 L553.7 216.2 L554.1 216.6 L554.3 217.5 L554.8 218.5 L555 219.8 L555.3 220.9 L554.9 222.5 L555.2 223.8 L555.4 225.5 L556.2 227.3 L556.5 228.2 L556.5 227.6 L556.8 228.3 L556.8 230.1 L557.1 231 L557.3 231.6 L558.1 233.2 L558.4 234.7 L558.7 235.6 L559.3 236 L559.6 237.5 L559.6 237.5 L559.9 239.5 L560.2 240.9 L560.7 243.3 L561 244.1 L561.3 245.1 L561.6 245.6 L562 247.3 L562.3 248.6 L562.4 249.8 L562.7 250.5 L563.1 250.6 L563.4 250.1 L563.8 250.7 L564.1 251.5 L564.3 254.7 L564.6 256 L564.9 259 L565.3 261.1 L565.6 262.1 L565.7 263.7 L566.1 264.4 L566.4 265.1 L567 265.2 L567.4 266.2 L567.8 267.2 L568 267 L568.3 267.8 L569.1 270.3 L569.5 271.5 L569.9 272.1 L570.1 273.6 L570.5 274.6 L570.9 276 L571 277.2 L571.4 277.6 L571.9 278.9 L572.3 279.9 L572.7 281 L573 282.8 L573.4 283.4 L573.5 282.7 L574 283.3 L574.4 284.7 L575.5 285.4 L576 286.6 L576.4 287.8 L577.2 291.6 L577.7 293.2 L578 292.6 L578.5 293.8 L579 294.7 L579.5 295.7 L580 296.7 L580.3 295.2 L580.8 295.7 L581.5 297.4 L582 298.9 L582.9 299.4 L583.5 300.9 L583.8 303.7 L584.5 304.7 L585.1 305.9 L585.9 306.9 L586.4 306.1 L587.1 311 L587.8 311.9 L589.4 311.3 L589.8 312 L590.5 312.4 L591 310.6 L591.8 310.3 L592.5 311 L593.1 311.9 L593.8 313 L594.6 313.7 L595.7 315.9 L596.5 317 L597.2 317.7 L598.4 317.9 L599.2 318.8 L599.9 319.8 L600.4 321.8 L601.2 322.2 L602 323.3 L602.6 322.4 L603.5 323 L604.5 323.5 L605.7 323.9 L606.9 323.8 L608.1 323.4 L608.9 323.6 L609.4 323.7 L610.1 324.8 L611 325.3 L611.6 326.9 L612.4 329.8 L613.2 330.7 L614 331.5 L615.3 332.1 L616.2 332.8 L616.6 332.5 L617.5 332 L618.5 333.4 L619.5 334.1 L620.2 335 L621.2 335.8 L622.2 336.8 L624.2 337.9 L625.2 338.4 L626 336.6 L627 336.9 L628.1 336.7 L628.9 339.7 L629.7 340.1 L630.8 340.6 L631.8 341.5 L633.2 341.3 L634.2 341.5 L635.3 341.8 L636.7 342.2 L637.5 342.4 L638.6 342 L639.7 342.1 L640.9 345.2 L642 345.6 L643.1 345.5 L644 345.8 L645.1 346.2 L646.2 347.3 L647.6 346 L648.7 345.9 L649.6 347.3 L651.3 346.7 L651.8 349.3 L652.9 348.9 L654 349.5 L655.4 350.3 L656.5 350.3 L657.6 351.2 L658 348.9 L659.1 349.3 L660.2 349.1 L661.8 349.6 L662.9 349.9 L664 349.7 L665.1 351.3 L666.2 351.5 L667.2 353.1 L668.5 352.5 L669.7 352.8 L669.7 430 L474 430 Z" fill="#fff" stroke="none"/>
<path d="M474 262 L474.2 260.9 L474.3 259.7 L474.5 258.2 L474.6 256.3 L474.8 254.9 L475.5 255.4 L475.6 254.4 L474.9 253.7 L475 252.7 L475.6 248.9 L475.9 249.6 L476.1 248.1 L475.2 246.2 L475.4 244.9 L475.5 243.8 L476.4 246.4 L476.5 244.9 L476.7 238.2 L476.8 237 L476.8 240.3 L476.9 239.1 L476.8 236.8 L476.9 235.3 L477 234.1 L477.3 232.1 L477.3 231.1 L477.9 228.8 L478 227.3 L477.4 227.9 L477.5 226.6 L477.6 225.5 L477.7 226.7 L477.8 226.4 L477.9 221.4 L478 220.5 L478 219.5 L478.3 221.3 L478.4 219.5 L478.4 218.7 L478.5 214.9 L478.5 214 L478.6 213 L478.5 213.6 L478.6 212.5 L478.9 211.1 L478.9 210.6 L479 209.4 L478.7 207.3 L478.7 206.4 L478.9 205.1 L479 203.5 L479.1 203.2 L479.1 202.4 L478.8 200.8 L478.8 199.1 L478.9 197.8 L479.3 199.3 L479.3 197.9 L479.4 196.6 L479.3 190.3 L479.3 189.6 L479.4 188.5 L479.7 189.1 L479.7 188 L479.7 188.9 L479.7 188 L479.5 185.1 L479.6 184.2 L479.9 180.2 L480 179.1 L480 178.9 L480 176.5 L480 175.1 L480.1 174.3 L480.2 175.6 L480.3 174.3 L480.3 173.1 L480.4 172.2 L480.4 171.7 L480.3 170.5 L480.3 169.4 L480.6 167.5 L480.8 166.7 L480.9 164.9 L480.9 163.7 L480.6 163.8 L480.6 162.8 L480.8 160.7 L480.8 159.8 L480.9 158.5 L481 158.5 L481 157.6 L481.3 153.8 L481.3 153.4 L481 154.8 L481.3 154.7 L481 148.9 L481.1 149.9 L481.2 148.8 L481.2 147.7 L481.6 145.1 L481.7 143.7 L481.7 142.2 L481.9 143.4 L482 142.7 L482 141.8 L481.8 141.7 L481.8 140.5 L481.8 136.8 L481.8 136.8 L482.2 133.2 L482.2 132.2 L482.3 130.9 L482.7 134.9 L483 135.9 L482.5 134.7 L482.8 134.8 L483.1 136 L483.5 139.9 L483.8 141.2 L484.1 143 L484.5 139 L484.7 138.2 L484.9 137.5 L485.5 138.9 L485.7 138.1 L485.9 137 L485.5 134.2 L485.7 133.3 L485.9 131.5 L486.5 131.2 L486.7 129.7 L486.9 128.9 L487.3 127.2 L487.5 128.5 L487.2 131.7 L487.5 133.1 L487.7 134.4 L488.1 132.9 L488.4 134.2 L488.6 134.7 L489.4 136.7 L489.6 137.9 L489.9 139.3 L489.7 138 L489.9 138.5 L490.2 139.5 L490.7 144.5 L490.5 143.9 L490.8 143.1 L491.1 144.8 L490.9 148 L491.2 149.1 L491.5 149.1 L491.9 149.8 L492.1 151.7 L492.8 155.2 L493.2 154.4 L493.4 155.3 L493.4 156.2 L493.7 158.4 L494 159.6 L494.3 160.4 L494.6 159.3 L494.8 160 L495.1 161.5 L495.5 166.7 L495.8 167.8 L496.1 168.4 L496.1 167.7 L496.4 171.6 L496.7 173.5 L496.7 172.6 L497 173.5 L497.4 174.7 L497.7 175.5 L498.3 175.6 L498.8 175.9 L499.2 177.3 L499.5 177.4 L498.9 181.1 L499.2 181.7 L499.5 182.7 L500.7 181.8 L501 185.1 L501.3 186.4 L501.7 187.7 L501.9 186.8 L502.3 187.9 L502.7 188.6 L503.1 189.7 L503.5 191.1 L503.9 192.3 L504.3 193.1 L504.9 196 L505.3 196.8 L505.6 197.4 L506 198.9 L506.1 197.1 L506.2 194.4 L506.5 192.7 L506.8 191.2 L507.6 190.2 L508.1 189 L507.7 190.5 L508.3 189.1 L509.7 188.3 L510.4 183.8 L511.1 183.5 L511.8 183.1 L512.9 184 L514.2 183.4 L515.4 185.2 L516.5 183.8 L517.2 183.9 L517.7 184.8 L517.5 186 L517.8 184.3 L519.1 183.8 L518.6 181.6 L519 180.6 L519.2 182.2 L519.5 181.9 L520.3 179.4 L520.6 177.8 L520.9 176.8 L521.5 175.1 L521.7 173.8 L522 172.3 L522.4 171.8 L522.3 170.7 L522.6 168.8 L522.9 167.5 L523.5 169 L523.7 170.1 L524.1 172 L524.4 172.7 L524.6 173.9 L524.3 175.8 L524.5 176.4 L525.2 176.7 L525.4 178 L525.8 179.6 L526.1 181.5 L526.3 182.4 L526.2 184.7 L526.9 183.6 L527.2 184.9 L527.4 186.1 L527.7 189.3 L527.9 190.3 L527.9 191.1 L528.2 192.1 L528.2 192.5 L529.2 194.8 L529.4 194.5 L529.7 195.9 L529.9 197.2 L530.2 198.1 L530 199.7 L530.3 200.5 L530.6 201.6 L530.9 203.2 L531.3 204 L531.6 205 L532.4 205.7 L532.8 206.9 L532.8 212.1 L533.4 209.7 L533.8 210.5 L534.1 211.8 L534.4 212.1 L534.8 213.6 L535.1 214.8 L535.5 216.1 L535.9 216.8 L536.6 218.4 L536.9 217.7 L536.8 215.2 L537.1 214.3 L537.3 213.3 L538.5 214.5 L538.8 213.5 L539.1 212 L538.9 207.8 L539.2 206.8 L539.6 206.6 L539.9 205.3 L540.2 203.3 L540.9 204.2 L541.2 202.9 L541.6 202.2 L542 200.8 L542.3 199.7 L542.1 197.6 L542.4 196.4 L542.8 195 L543.4 194.5 L543.8 193.3 L544.1 192.2 L544 191.6 L544.4 189.9 L544.8 188.8 L545.1 186.7 L546.3 188.1 L546.7 187.1 L547.1 185.7 L547.4 181 L547.9 179.8 L548.3 178.7 L548.4 181.9 L548.6 182.9 L548.6 185.4 L548.8 186.2 L548.9 187.2 L548.9 187.2 L549.1 188.5 L549.3 189.7 L549.5 190.4 L549.6 192.6 L549.8 193 L549.9 194.4 L550.1 195.5 L550.3 198.5 L550.5 200 L551.3 200.2 L551.2 199.6 L551.5 200.7 L551.7 202.2 L551.9 203.7 L551.5 205.9 L551.7 206.4 L552.1 205.9 L552.3 207.4 L553.5 209.3 L553.8 209.8 L554 211 L553.3 213.4 L553.5 214.3 L553.7 216.2 L554.1 216.6 L554.3 217.5 L554.8 218.5 L555 219.8 L555.3 220.9 L554.9 222.5 L555.2 223.8 L555.4 225.5 L556.2 227.3 L556.5 228.2 L556.5 227.6 L556.8 228.3 L556.8 230.1 L557.1 231 L557.3 231.6 L558.1 233.2 L558.4 234.7 L558.7 235.6 L559.3 236 L559.6 237.5 L559.6 237.5 L559.9 239.5 L560.2 240.9 L560.7 243.3 L561 244.1 L561.3 245.1 L561.6 245.6 L562 247.3 L562.3 248.6 L562.4 249.8 L562.7 250.5 L563.1 250.6 L563.4 250.1 L563.8 250.7 L564.1 251.5 L564.3 254.7 L564.6 256 L564.9 259 L565.3 261.1 L565.6 262.1 L565.7 263.7 L566.1 264.4 L566.4 265.1 L567 265.2 L567.4 266.2 L567.8 267.2 L568 267 L568.3 267.8 L569.1 270.3 L569.5 271.5 L569.9 272.1 L570.1 273.6 L570.5 274.6 L570.9 276 L571 277.2 L571.4 277.6 L571.9 278.9 L572.3 279.9 L572.7 281 L573 282.8 L573.4 283.4 L573.5 282.7 L574 283.3 L574.4 284.7 L575.5 285.4 L576 286.6 L576.4 287.8 L577.2 291.6 L577.7 293.2 L578 292.6 L578.5 293.8 L579 294.7 L579.5 295.7 L580 296.7 L580.3 295.2 L580.8 295.7 L581.5 297.4 L582 298.9 L582.9 299.4 L583.5 300.9 L583.8 303.7 L584.5 304.7 L585.1 305.9 L585.9 306.9 L586.4 306.1 L587.1 311 L587.8 311.9 L589.4 311.3 L589.8 312 L590.5 312.4 L591 310.6 L591.8 310.3 L592.5 311 L593.1 311.9 L593.8 313 L594.6 313.7 L595.7 315.9 L596.5 317 L597.2 317.7 L598.4 317.9 L599.2 318.8 L599.9 319.8 L600.4 321.8 L601.2 322.2 L602 323.3 L602.6 322.4 L603.5 323 L604.5 323.5 L605.7 323.9 L606.9 323.8 L608.1 323.4 L608.9 323.6 L609.4 323.7 L610.1 324.8 L611 325.3 L611.6 326.9 L612.4 329.8 L613.2 330.7 L614 331.5 L615.3 332.1 L616.2 332.8 L616.6 332.5 L617.5 332 L618.5 333.4 L619.5 334.1 L620.2 335 L621.2 335.8 L622.2 336.8 L624.2 337.9 L625.2 338.4 L626 336.6 L627 336.9 L628.1 336.7 L628.9 339.7 L629.7 340.1 L630.8 340.6 L631.8 341.5 L633.2 341.3 L634.2 341.5 L635.3 341.8 L636.7 342.2 L637.5 342.4 L638.6 342 L639.7 342.1 L640.9 345.2 L642 345.6 L643.1 345.5 L644 345.8 L645.1 346.2 L646.2 347.3 L647.6 346 L648.7 345.9 L649.6 347.3 L651.3 346.7 L651.8 349.3 L652.9 348.9 L654 349.5 L655.4 350.3 L656.5 350.3 L657.6 351.2 L658 348.9 L659.1 349.3 L660.2 349.1 L661.8 349.6 L662.9 349.9 L664 349.7 L665.1 351.3 L666.2 351.5 L667.2 353.1 L668.5 352.5 L669.7 352.8" fill="none" stroke="#000" stroke-width="3.0" stroke-linejoin="miter" stroke-miterlimit="3"/>
<path d="M467 262 L467.1 260.8 L467.3 259.7 L467.5 257.8 L467.7 257.2 L467.8 256 L467.8 257.7 L468 255.9 L468 252.5 L468.1 251.2 L468.3 249.8 L468.4 249.2 L468.7 249 L468.2 250.6 L468.3 249.4 L468.4 248 L469.1 243.3 L469.2 241.2 L469.7 240.2 L469.2 240.1 L469.4 239.1 L469.5 238.8 L469.6 237.4 L470 234.6 L470.1 233.1 L469.7 234.5 L469.8 232.9 L469.7 231.9 L469.8 229.9 L470.4 229 L470.4 227.3 L470.2 226 L470.3 225.2 L470.4 223.6 L470.3 221 L470.4 222 L470.7 218.5 L470.8 217.6 L470.3 218.6 L470.3 216.9 L470.4 216 L470.4 215 L470.4 214.2 L470.5 211.7 L470.5 210.6 L470.6 209.6 L470.9 209.2 L471 208.5 L471 207.3 L471.1 206.5 L471.4 205.3 L471.4 204 L471 204.4 L471 203.1 L471.1 201.6 L471.6 199.4 L471.6 198.4 L471.7 196.9 L471.6 194.9 L471.7 194.3 L471.7 192.5 L471.9 191.8 L472 189.8 L472.1 188 L472.1 187.7 L472.2 186.5 L471.9 186 L471.9 185.3 L472 184.5 L471.8 183.1 L471.8 180.5 L471.8 179.1 L471.9 177.9 L472.5 176.8 L472.6 175.5 L472.7 175.2 L472.8 176.2 L472.9 175.3 L473 174.3 L473 171.6 L473.1 170.7 L473.2 169.2 L473.6 166.2 L473.7 165.4 L473.8 163.2 L473.3 164.9 L473.4 163.1 L474.1 161.4 L474.2 160.2 L473.3 158.7 L473.4 157.8 L473.9 155.4 L474.2 155.1 L474.3 153.9 L474.4 153 L474.1 150.9 L474.5 151.8 L474.8 153 L475.4 154.2 L475.5 151.9 L475.6 151.3 L475.8 150.9 L475.5 152.6 L475.7 150.9 L476.4 147.2 L476.5 145.4 L477 146.3 L477.5 143.3 L476.6 145.4 L477.4 141.4 L477.6 140.3 L477.7 139.7 L478.1 140.2 L478.2 139 L478.4 138.1 L478.1 137.3 L478.3 138.6 L478.6 141.1 L478.8 142.4 L479 143.6 L479.4 145.1 L479.6 145.8 L479.8 147.1 L479.6 145.9 L479.8 146.8 L480 146.7 L480.4 148.4 L480.7 150.2 L480.9 151 L481.2 153.5 L481.4 152.9 L481.7 154.2 L481.9 155.7 L482.1 159.2 L482.4 161 L482.6 161.5 L482.9 162.8 L483.7 162.2 L484 162.9 L483.9 165.8 L484.2 167.6 L484.5 166.2 L484.7 166.9 L485 168.2 L485.1 170 L485.4 171.8 L485.7 171.6 L486 172.3 L486.3 173.3 L486.5 175.9 L486.6 175.2 L486.9 176.5 L487.2 178.1 L487.8 180.9 L488.1 181.9 L488.1 182.6 L488.4 183.9 L488.7 185.9 L489.4 184.9 L489.5 188.4 L489.8 189.3 L490.2 190.1 L490.6 190.1 L490.9 188.9 L491.3 189.9 L491.6 194.6 L492 196.2 L492.4 197.4 L493.1 199.1 L493.5 200.6 L493.9 201.9 L493.7 203.7 L494.1 205 L494.5 205.9 L495.2 205.3 L495.6 206 L495.5 206.3 L496 207.3 L497.2 207.7 L497.9 210.4 L498.3 211.3 L499.2 210.3 L499.4 208.3 L500.3 207.4 L501.1 206.7 L502.4 209.2 L503.2 209.6 L504.1 210.8 L504.9 210.2 L505.7 210.9 L506.5 212.1 L507.3 213.2 L508 215.2 L508.8 215.9 L509.7 216.5 L511.2 215.4 L511.8 216.6 L512.5 217.6 L512.8 219.1 L513.5 220.2 L513.7 220.6 L514.3 221.8 L515.1 221.6 L515.8 223 L516.7 221.9 L517.2 223.2 L517.8 224.8 L518.3 225.5 L518.5 229.3 L519.1 230.6 L519.8 228.6 L520.4 229.6 L520.9 230.4 L521.7 232.7 L522.3 233.5 L522.3 236.5 L523.5 238.7 L523.3 238.5 L523.9 239.5 L524.5 240 L525.2 239.8 L525.8 241 L526.5 242.1 L527.5 245.7 L528.1 246.7 L529 246.6 L529.1 246.7 L529.8 248.6 L530.6 249.5 L531.3 250.2 L532 252.7 L532.6 248.2 L533.2 247 L533.4 248.6 L533.9 247.2 L534.5 246 L535.2 244.3 L535.8 242.2 L536.4 240.8 L536.9 240.6 L537.5 239.8 L538.7 239.8 L539.4 239.2 L539.7 239.9 L539.7 241 L540 242.3 L540.4 240.8 L540.7 242.9 L541 244 L541.5 246.3 L541.8 247.4 L542.3 247.4 L542.6 248.8 L542.9 251.4 L543.2 251.9 L543.5 252.1 L544 253.5 L544.3 254.4 L544.7 255.5 L544.9 256.2 L545.3 257.3 L545.4 257.6 L545.7 258.8 L545.9 261 L546.2 262.1 L546.6 262.1 L546.9 263.3 L547.2 264.8 L547.4 266.7 L547.7 268.1 L547.9 268.7 L548.2 269.5 L548.7 269.1 L548.9 270.7 L548.9 270.7 L548.8 272.6 L549.8 274.7 L550 275.9 L550.3 276.9 L550.4 275.7 L550.7 276.9 L551.1 281.3 L551.5 282.8 L552.2 283.9 L551.9 285 L552.3 286.1 L552.6 287.5 L553 288.6 L553.4 289.9 L554.3 289.9 L554.8 291.2 L555.2 291.6 L555.5 292.8 L556 293.6 L556.4 294.3 L556.6 295.9 L557 296.9 L557.5 298.1 L558.3 300.3 L558.7 300.9 L559.2 301.6 L559.2 303 L560 305 L560.9 305.9 L561.4 307.1 L561.2 308.7 L562.1 308.9 L562.6 310.1 L563.2 311.6 L563.7 313.4 L564.3 314 L564.9 314.5 L565.3 316.4 L566 317.9 L566.7 318.3 L567.5 317 L568.2 318.1 L568.9 318.9 L569.6 320.1 L570.2 321.7 L571 322.9 L571.8 323.5 L572.6 323.8 L573.6 324.4 L574.4 325.2 L575.2 326.3 L575.4 326.2 L576.2 327.3 L577.1 327.9 L578.7 329.8 L579.6 330.6 L580.3 330.2 L581.2 330.4 L582.1 330.8 L583 332.1 L584 334.6 L584.6 335.7 L585.6 336.6 L586.5 337.6 L587.1 335.9 L588.1 336.7 L589.4 339.3 L590.4 339.7 L591.3 338 L592.3 339.2 L593.3 339.9 L594.3 343 L595.3 344 L596.3 345.2 L597.2 344.2 L598.2 344.4 L599.2 344.3 L600.1 345.2 L601.1 345.9 L602.4 345.5 L603.4 345.9 L604.5 346.2 L605.7 346.9 L606.8 347.4 L607.4 347.4 L609 348.9 L610 349.9 L611.2 350.4 L612.3 350.6 L613.2 348.2 L614.3 348.7 L615.4 349.3 L616.2 350.4 L617.3 350.3 L618.4 350.7 L619.4 352.2 L620.5 352.8 L621.6 353.1 L623.2 352.8 L624.3 352.9 L625 355.9 L626.2 356.5 L627.4 354.7 L628.5 354.7 L629.6 355.1 L630.9 356.2 L632.1 357 L633.2 357.5 L634.1 358.6 L635.2 359 L636.4 359.5 L637.3 360.9 L638.4 361 L639.7 360 L640.8 360.6 L641.8 362.4 L642.9 362.7 L644 362.1 L645.3 360.9 L646.1 361.2 L647.3 361.8 L648.7 360.1 L649.8 360.4 L650.7 362.2 L651.9 362.9 L652.9 363.4 L654 363.8 L655.1 363.9 L656.2 364 L657 364.5 L658.2 364.6 L659.3 364.2 L661.1 363 L662.3 363.3 L663.3 364.2 L664.3 364.5 L665.4 364.8 L665.4 430 L467 430 Z" fill="#fff" stroke="none"/>
<path d="M467 262 L467.1 260.8 L467.3 259.7 L467.5 257.8 L467.7 257.2 L467.8 256 L467.8 257.7 L468 255.9 L468 252.5 L468.1 251.2 L468.3 249.8 L468.4 249.2 L468.7 249 L468.2 250.6 L468.3 249.4 L468.4 248 L469.1 243.3 L469.2 241.2 L469.7 240.2 L469.2 240.1 L469.4 239.1 L469.5 238.8 L469.6 237.4 L470 234.6 L470.1 233.1 L469.7 234.5 L469.8 232.9 L469.7 231.9 L469.8 229.9 L470.4 229 L470.4 227.3 L470.2 226 L470.3 225.2 L470.4 223.6 L470.3 221 L470.4 222 L470.7 218.5 L470.8 217.6 L470.3 218.6 L470.3 216.9 L470.4 216 L470.4 215 L470.4 214.2 L470.5 211.7 L470.5 210.6 L470.6 209.6 L470.9 209.2 L471 208.5 L471 207.3 L471.1 206.5 L471.4 205.3 L471.4 204 L471 204.4 L471 203.1 L471.1 201.6 L471.6 199.4 L471.6 198.4 L471.7 196.9 L471.6 194.9 L471.7 194.3 L471.7 192.5 L471.9 191.8 L472 189.8 L472.1 188 L472.1 187.7 L472.2 186.5 L471.9 186 L471.9 185.3 L472 184.5 L471.8 183.1 L471.8 180.5 L471.8 179.1 L471.9 177.9 L472.5 176.8 L472.6 175.5 L472.7 175.2 L472.8 176.2 L472.9 175.3 L473 174.3 L473 171.6 L473.1 170.7 L473.2 169.2 L473.6 166.2 L473.7 165.4 L473.8 163.2 L473.3 164.9 L473.4 163.1 L474.1 161.4 L474.2 160.2 L473.3 158.7 L473.4 157.8 L473.9 155.4 L474.2 155.1 L474.3 153.9 L474.4 153 L474.1 150.9 L474.5 151.8" fill="none" stroke="#000" stroke-width="1.3" stroke-linejoin="miter" stroke-miterlimit="3"/>
<path d="M474.5 151.8 L474.8 153 L475.4 154.2 L475.5 151.9 L475.6 151.3 L475.8 150.9 L475.5 152.6 L475.7 150.9 L476.4 147.2 L476.5 145.4 L477 146.3 L477.5 143.3 L476.6 145.4 L477.4 141.4 L477.6 140.3 L477.7 139.7 L478.1 140.2 L478.2 139 L478.4 138.1 L478.1 137.3 L478.3 138.6 L478.6 141.1 L478.8 142.4 L479 143.6 L479.4 145.1 L479.6 145.8 L479.8 147.1 L479.6 145.9 L479.8 146.8 L480 146.7 L480.4 148.4 L480.7 150.2 L480.9 151 L481.2 153.5 L481.4 152.9 L481.7 154.2 L481.9 155.7 L482.1 159.2 L482.4 161 L482.6 161.5 L482.9 162.8 L483.7 162.2 L484 162.9 L483.9 165.8 L484.2 167.6 L484.5 166.2 L484.7 166.9 L485 168.2 L485.1 170 L485.4 171.8 L485.7 171.6 L486 172.3 L486.3 173.3 L486.5 175.9 L486.6 175.2 L486.9 176.5 L487.2 178.1 L487.8 180.9 L488.1 181.9 L488.1 182.6 L488.4 183.9 L488.7 185.9 L489.4 184.9 L489.5 188.4 L489.8 189.3 L490.2 190.1 L490.6 190.1 L490.9 188.9 L491.3 189.9 L491.6 194.6 L492 196.2 L492.4 197.4 L493.1 199.1 L493.5 200.6 L493.9 201.9 L493.7 203.7 L494.1 205 L494.5 205.9 L495.2 205.3 L495.6 206 L495.5 206.3 L496 207.3 L497.2 207.7 L497.9 210.4 L498.3 211.3 L499.2 210.3 L499.4 208.3 L500.3 207.4 L501.1 206.7 L502.4 209.2 L503.2 209.6 L504.1 210.8 L504.9 210.2 L505.7 210.9 L506.5 212.1 L507.3 213.2 L508 215.2 L508.8 215.9 L509.7 216.5 L511.2 215.4 L511.8 216.6 L512.5 217.6 L512.8 219.1 L513.5 220.2 L513.7 220.6 L514.3 221.8 L515.1 221.6 L515.8 223 L516.7 221.9 L517.2 223.2 L517.8 224.8 L518.3 225.5 L518.5 229.3 L519.1 230.6 L519.8 228.6 L520.4 229.6 L520.9 230.4 L521.7 232.7 L522.3 233.5 L522.3 236.5 L523.5 238.7 L523.3 238.5 L523.9 239.5 L524.5 240 L525.2 239.8 L525.8 241 L526.5 242.1 L527.5 245.7 L528.1 246.7 L529 246.6 L529.1 246.7 L529.8 248.6 L530.6 249.5 L531.3 250.2 L532 252.7 L532.6 248.2 L533.2 247 L533.4 248.6 L533.9 247.2 L534.5 246 L535.2 244.3 L535.8 242.2 L536.4 240.8 L536.9 240.6 L537.5 239.8 L538.7 239.8 L539.4 239.2 L539.7 239.9 L539.7 241 L540 242.3 L540.4 240.8 L540.7 242.9 L541 244 L541.5 246.3 L541.8 247.4 L542.3 247.4 L542.6 248.8 L542.9 251.4 L543.2 251.9 L543.5 252.1 L544 253.5 L544.3 254.4 L544.7 255.5 L544.9 256.2 L545.3 257.3 L545.4 257.6 L545.7 258.8 L545.9 261 L546.2 262.1 L546.6 262.1 L546.9 263.3 L547.2 264.8 L547.4 266.7 L547.7 268.1 L547.9 268.7 L548.2 269.5 L548.7 269.1 L548.9 270.7 L548.9 270.7 L548.8 272.6 L549.8 274.7 L550 275.9 L550.3 276.9 L550.4 275.7 L550.7 276.9 L551.1 281.3 L551.5 282.8 L552.2 283.9 L551.9 285 L552.3 286.1 L552.6 287.5 L553 288.6 L553.4 289.9 L554.3 289.9 L554.8 291.2 L555.2 291.6 L555.5 292.8 L556 293.6 L556.4 294.3 L556.6 295.9 L557 296.9 L557.5 298.1 L558.3 300.3 L558.7 300.9 L559.2 301.6 L559.2 303 L560 305 L560.9 305.9 L561.4 307.1 L561.2 308.7 L562.1 308.9 L562.6 310.1 L563.2 311.6 L563.7 313.4 L564.3 314 L564.9 314.5 L565.3 316.4 L566 317.9 L566.7 318.3 L567.5 317 L568.2 318.1 L568.9 318.9 L569.6 320.1 L570.2 321.7 L571 322.9 L571.8 323.5 L572.6 323.8 L573.6 324.4 L574.4 325.2 L575.2 326.3 L575.4 326.2 L576.2 327.3 L577.1 327.9 L578.7 329.8 L579.6 330.6 L580.3 330.2 L581.2 330.4 L582.1 330.8 L583 332.1 L584 334.6 L584.6 335.7 L585.6 336.6 L586.5 337.6 L587.1 335.9 L588.1 336.7 L589.4 339.3 L590.4 339.7 L591.3 338 L592.3 339.2 L593.3 339.9 L594.3 343 L595.3 344 L596.3 345.2 L597.2 344.2 L598.2 344.4 L599.2 344.3 L600.1 345.2 L601.1 345.9 L602.4 345.5 L603.4 345.9 L604.5 346.2 L605.7 346.9 L606.8 347.4 L607.4 347.4 L609 348.9 L610 349.9 L611.2 350.4 L612.3 350.6 L613.2 348.2 L614.3 348.7 L615.4 349.3 L616.2 350.4 L617.3 350.3 L618.4 350.7 L619.4 352.2 L620.5 352.8 L621.6 353.1 L623.2 352.8 L624.3 352.9 L625 355.9 L626.2 356.5 L627.4 354.7 L628.5 354.7 L629.6 355.1 L630.9 356.2 L632.1 357 L633.2 357.5 L634.1 358.6 L635.2 359 L636.4 359.5 L637.3 360.9 L638.4 361 L639.7 360 L640.8 360.6 L641.8 362.4 L642.9 362.7 L644 362.1 L645.3 360.9 L646.1 361.2 L647.3 361.8 L648.7 360.1 L649.8 360.4 L650.7 362.2 L651.9 362.9 L652.9 363.4 L654 363.8 L655.1 363.9 L656.2 364 L657 364.5 L658.2 364.6 L659.3 364.2 L661.1 363 L662.3 363.3 L663.3 364.2 L664.3 364.5 L665.4 364.8" fill="none" stroke="#000" stroke-width="2.8" stroke-linejoin="miter" stroke-miterlimit="3"/>
<path d="M430 312 L430.9 311.2 L431.7 310.4 L432.1 309.1 L433 308.6 L433.9 307.9 L434 307.5 L434.8 306.7 L435.6 305.8 L437.4 304.5 L438.2 303.6 L438.8 302.8 L439.5 301.8 L440.5 301.6 L441.2 300.7 L442 299.9 L443.4 298.3 L444.1 297.3 L444.8 297 L445.5 296 L446.2 294.4 L446.9 293.4 L447 293.2 L447.6 292.2 L448.3 291.4 L448.7 289.7 L449.4 288.9 L449.7 288.7 L450.9 287.2 L451.5 286 L452.1 285 L452.6 284.5 L453.2 283.4 L453.8 282.4 L454.3 281.2 L454.9 280.1 L455.7 279.3 L456.2 278.4 L456.1 276.5 L456.6 275.3 L457.6 274.3 L458.2 273.2 L458.7 272.2 L458.3 270.9 L458.8 269.8 L459.3 268.8 L460.6 268.2 L461.1 267 L461.6 266.1 L462.4 265.3 L462.4 264.1 L463.7 262.8 L464.2 261.7 L464.7 260.7 L465 260.2 L465.5 259.1 L465.7 257.9 L466.2 256.8 L466.7 255.7 L467.8 254.4 L468.3 253.4 L468.8 252.4 L468.3 251.4 L468.7 250.5 L469.1 249.3 L469.6 248.2 L470 247.3 L470.8 246 L471.3 244.9 L471.7 244.8 L472.6 243.4 L473.1 242.2 L473.5 241.1 L473.1 240.2 L473.3 240 L472.9 239.6 L472.9 236.3 L472.2 235.4 L471.9 234.2 L471.7 232.8 L471.5 232 L471.3 231.1 L471.1 230 L471.1 228.8 L471.1 227.9 L470.8 227.9 L470.8 226.1 L469.8 224.5 L471.2 222.3 L471.2 221.6 L471.2 220.4 L471.4 219.5 L471.4 218.3 L471 218.2 L471 217.3 L471 216.4 L471.3 213.4 L471.4 212.4 L470.6 213.1 L470.8 211.8 L471.3 209.6 L471.7 209.8 L471.9 209 L472.1 208.1 L472.5 204.2 L472.3 203.5 L472.5 202.7 L473.3 201.7 L473.5 200.3 L473.9 197.3 L474.1 195.6 L473.8 197.9 L474 196.7 L474.3 195.3 L473.9 192.2 L474.2 190.6 L474.5 189.4 L475.9 190 L476.2 189.1 L476.5 188.2 L475.9 187 L476.5 188.5 L476.8 189.9 L477 190.2 L477.6 190.5 L477.8 191.6 L477.8 191.9 L478 194.4 L478.3 195.9 L477.9 198.3 L478.5 201 L478.8 201 L479.1 202.5 L479.6 202.3 L479.9 203.6 L480.3 205.8 L480.6 206.8 L481.4 208.6 L481.7 209.5 L482 210.5 L482.7 209.6 L482.1 211.2 L482.4 212.8 L482.5 216.7 L482.9 217.7 L484 215.9 L484.4 217.1 L484.7 218.8 L484.4 220.3 L484.9 219.9 L485.1 219.2 L485.6 220.9 L486.5 220.5 L487.1 221.6 L487.7 225.4 L488.3 226.3 L488.8 228.3 L489.5 229.7 L490.3 232.9 L491 234.4 L492 229.8 L492.8 228.8 L493.1 235.2 L494 236.5 L494.8 237.7 L496.1 231.2 L497 231.4 L498 232.8 L499.5 233.4 L500.6 234.3 L501.8 236.1 L503 239.1 L503.7 240.1 L504.1 239 L504.8 239.6 L505.5 240.6 L505.9 242.2 L506.6 243.8 L507.3 247.2 L508 248.8 L508.7 249 L509.5 247.7 L510.1 248.6 L510.4 248.5 L511.6 250.5 L512.3 251.1 L513 252.6 L512.8 252 L514.4 254.7 L514.8 255.7 L515.5 256 L516.2 257.4 L516.4 257.1 L517.1 257.8 L518.2 259.3 L518.9 260.5 L519.6 260.6 L519.3 260 L520 260.9 L520.7 261.8 L522.9 263.8 L523.2 265.6 L523.9 266.6 L524.6 267.8 L524.8 266.9 L525.5 268 L526.2 269.7 L527 270.7 L527.7 271.3 L528.5 272.8 L529.1 273.6 L529.9 275.7 L530.7 275.3 L531.4 275.7 L532.5 278.1 L533.1 279.3 L533.8 280.1 L533.6 280.7 L534.3 282.1 L534.9 283.3 L535.5 285.2 L536.7 285.2 L537.4 286.2 L537.6 289.2 L538.3 291.2 L539 291.7 L540.7 291.2 L540.7 291.4 L541.4 292.6 L542 292.9 L542.2 295.5 L542.9 296.5 L543.6 297.6 L544.5 296.6 L545.2 297.4 L545.8 298.2 L546.3 300.6 L547 301.9 L547.7 302.6 L548.5 300 L549.2 301.6 L550 305.6 L550.6 307 L551.5 305.6 L552.2 306.4 L552.8 307.4 L553.3 309.2 L554.5 309.7 L555.1 310.3 L555.8 311.8 L556.3 313.4 L557.1 314.5 L557.1 314.3 L557.9 314.9 L559 316.2 L559.7 317.1 L560.5 318 L561.9 318.6 L562.7 319 L563.5 319.6 L563.8 320.8 L564.9 321.5 L565.8 322.6 L566.6 323 L567.5 323.3 L567.5 325.8 L568.5 326 L570.4 325.5 L571.3 325.6 L572.7 327.4 L573.2 326.9 L574.2 327.6 L574.6 327.9 L575.6 328 L576.5 328.9 L578.3 327.2 L578.9 328.6 L580 329.2 L580.9 330.7 L581.3 331.6 L582.3 332 L583.3 332.4 L585 333 L586 333.8 L587 334.8 L587.1 336.7 L588.2 336.9 L590 337.2 L591 338.1 L591.3 335.2 L592.3 336 L593.4 336.7 L595.1 342.5 L596.1 343.6 L596.4 342.3 L597.4 342.3 L599.3 342.4 L600.4 343.5 L601.1 345.3 L602.2 345.7 L603.3 345.7 L604.5 346.1 L605.6 345.9 L606.1 344.8 L607.2 344.8 L608.6 346.8 L609.7 347.3 L611.2 346.8 L612.3 347.1 L613.1 348.1 L614.2 348.4 L615.7 347.2 L616.8 347.1 L617.9 346.9 L617.9 348.4 L619 348.9 L620.1 349 L622.1 352.4 L623.2 352.4 L624.1 348.3 L625.2 347.8 L626.2 348.8 L627.4 349.2 L628.3 349.7 L630.6 351.3 L631.7 352.2 L632 352.4 L633.3 354.3 L634.4 354.6 L634.7 355 L635.8 355.3 L636.9 355.7 L638.4 353.8 L639.5 354.5 L640.9 355.2 L642 356.6 L643.1 357.2 L643.9 358.3 L644.9 359 L646.3 359.8 L647.3 359.8 L648.4 360.8 L649.6 359.1 L650.6 360.1 L651.7 360.4 L652 364.2 L653 364.9 L654.2 364.6 L655.6 365.7 L656.6 366.5 L656.7 364.3 L658.2 367.6 L659.1 368 L660.3 366.4 L661.2 367.5 L662.1 368.6 L663 368.5 L663.9 369.2 L663.9 430 L430 430 Z" fill="#fff" stroke="none"/>
<path d="M430 312 L430.9 311.2 L431.7 310.4 L432.1 309.1 L433 308.6 L433.9 307.9 L434 307.5 L434.8 306.7 L435.6 305.8 L437.4 304.5 L438.2 303.6 L438.8 302.8 L439.5 301.8 L440.5 301.6 L441.2 300.7 L442 299.9 L443.4 298.3 L444.1 297.3 L444.8 297 L445.5 296 L446.2 294.4 L446.9 293.4 L447 293.2 L447.6 292.2 L448.3 291.4 L448.7 289.7 L449.4 288.9 L449.7 288.7 L450.9 287.2 L451.5 286 L452.1 285 L452.6 284.5 L453.2 283.4 L453.8 282.4 L454.3 281.2 L454.9 280.1 L455.7 279.3 L456.2 278.4 L456.1 276.5 L456.6 275.3 L457.6 274.3 L458.2 273.2 L458.7 272.2 L458.3 270.9 L458.8 269.8 L459.3 268.8 L460.6 268.2 L461.1 267 L461.6 266.1 L462.4 265.3 L462.4 264.1 L463.7 262.8 L464.2 261.7 L464.7 260.7 L465 260.2 L465.5 259.1 L465.7 257.9 L466.2 256.8 L466.7 255.7 L467.8 254.4 L468.3 253.4 L468.8 252.4 L468.3 251.4 L468.7 250.5 L469.1 249.3 L469.6 248.2 L470 247.3 L470.8 246 L471.3 244.9 L471.7 244.8 L472.6 243.4 L473.1 242.2 L473.5 241.1 L473.1 240.2 L473.3 240" fill="none" stroke="#000" stroke-width="1.0" stroke-linejoin="miter" stroke-miterlimit="3"/>
<path d="M473.3 240 L472.9 239.6 L472.9 236.3 L472.2 235.4 L471.9 234.2 L471.7 232.8 L471.5 232 L471.3 231.1 L471.1 230 L471.1 228.8 L471.1 227.9 L470.8 227.9 L470.8 226.1 L469.8 224.5 L471.2 222.3 L471.2 221.6 L471.2 220.4 L471.4 219.5 L471.4 218.3 L471 218.2 L471 217.3 L471 216.4 L471.3 213.4 L471.4 212.4 L470.6 213.1 L470.8 211.8 L471.3 209.6 L471.7 209.8 L471.9 209 L472.1 208.1 L472.5 204.2 L472.3 203.5 L472.5 202.7 L473.3 201.7 L473.5 200.3 L473.9 197.3 L474.1 195.6 L473.8 197.9 L474 196.7 L474.3 195.3 L473.9 192.2 L474.2 190.6 L474.5 189.4 L475.9 190 L476.2 189.1 L476.5 188.2 L475.9 187" fill="none" stroke="#000" stroke-width="1.2" stroke-linejoin="miter" stroke-miterlimit="3"/>
<path d="M475.9 187 L476.5 188.5 L476.8 189.9 L477 190.2 L477.6 190.5 L477.8 191.6 L477.8 191.9 L478 194.4 L478.3 195.9 L477.9 198.3 L478.5 201 L478.8 201 L479.1 202.5 L479.6 202.3 L479.9 203.6 L480.3 205.8 L480.6 206.8 L481.4 208.6 L481.7 209.5 L482 210.5 L482.7 209.6 L482.1 211.2 L482.4 212.8 L482.5 216.7 L482.9 217.7 L484 215.9 L484.4 217.1 L484.7 218.8 L484.4 220.3 L484.9 219.9 L485.1 219.2 L485.6 220.9 L486.5 220.5 L487.1 221.6 L487.7 225.4 L488.3 226.3 L488.8 228.3 L489.5 229.7 L490.3 232.9 L491 234.4 L492 229.8 L492.8 228.8" fill="none" stroke="#000" stroke-width="2.7" stroke-linejoin="miter" stroke-miterlimit="3"/>
<path d="M492.8 228.8 L493.1 235.2 L494 236.5 L494.8 237.7 L496.1 231.2 L497 231.4 L498 232.8 L499.5 233.4 L500.6 234.3 L501.8 236.1 L503 239.1 L503.7 240.1" fill="none" stroke="#000" stroke-width="2.6" stroke-linejoin="miter" stroke-miterlimit="3"/>
<path d="M503.7 240.1 L504.1 239 L504.8 239.6 L505.5 240.6 L505.9 242.2 L506.6 243.8 L507.3 247.2 L508 248.8 L508.7 249 L509.5 247.7 L510.1 248.6 L510.4 248.5 L511.6 250.5 L512.3 251.1 L513 252.6 L512.8 252 L514.4 254.7 L514.8 255.7 L515.5 256 L516.2 257.4 L516.4 257.1 L517.1 257.8 L518.2 259.3 L518.9 260.5 L519.6 260.6 L519.3 260 L520 260.9 L520.7 261.8 L522.9 263.8 L523.2 265.6 L523.9 266.6 L524.6 267.8 L524.8 266.9 L525.5 268 L526.2 269.7 L527 270.7 L527.7 271.3 L528.5 272.8 L529.1 273.6 L529.9 275.7 L530.7 275.3 L531.4 275.7 L532.5 278.1 L533.1 279.3 L533.8 280.1 L533.6 280.7 L534.3 282.1 L534.9 283.3 L535.5 285.2 L536.7 285.2 L537.4 286.2 L537.6 289.2 L538.3 291.2 L539 291.7 L540.7 291.2 L540.7 291.4 L541.4 292.6 L542 292.9 L542.2 295.5 L542.9 296.5 L543.6 297.6 L544.5 296.6 L545.2 297.4 L545.8 298.2 L546.3 300.6 L547 301.9 L547.7 302.6 L548.5 300 L549.2 301.6 L550 305.6 L550.6 307 L551.5 305.6 L552.2 306.4 L552.8 307.4 L553.3 309.2 L554.5 309.7 L555.1 310.3 L555.8 311.8 L556.3 313.4 L557.1 314.5 L557.1 314.3 L557.9 314.9 L559 316.2 L559.7 317.1 L560.5 318 L561.9 318.6 L562.7 319 L563.5 319.6 L563.8 320.8 L564.9 321.5 L565.8 322.6 L566.6 323 L567.5 323.3 L567.5 325.8 L568.5 326 L570.4 325.5 L571.3 325.6 L572.7 327.4 L573.2 326.9 L574.2 327.6 L574.6 327.9 L575.6 328 L576.5 328.9 L578.3 327.2 L578.9 328.6 L580 329.2 L580.9 330.7 L581.3 331.6 L582.3 332 L583.3 332.4 L585 333 L586 333.8 L587 334.8 L587.1 336.7 L588.2 336.9 L590 337.2 L591 338.1 L591.3 335.2 L592.3 336 L593.4 336.7 L595.1 342.5 L596.1 343.6 L596.4 342.3 L597.4 342.3 L599.3 342.4 L600.4 343.5 L601.1 345.3 L602.2 345.7 L603.3 345.7 L604.5 346.1 L605.6 345.9 L606.1 344.8 L607.2 344.8 L608.6 346.8 L609.7 347.3 L611.2 346.8 L612.3 347.1 L613.1 348.1 L614.2 348.4 L615.7 347.2 L616.8 347.1 L617.9 346.9 L617.9 348.4 L619 348.9 L620.1 349 L622.1 352.4 L623.2 352.4 L624.1 348.3 L625.2 347.8 L626.2 348.8 L627.4 349.2 L628.3 349.7 L630.6 351.3 L631.7 352.2 L632 352.4 L633.3 354.3 L634.4 354.6 L634.7 355 L635.8 355.3 L636.9 355.7 L638.4 353.8 L639.5 354.5 L640.9 355.2 L642 356.6 L643.1 357.2 L643.9 358.3 L644.9 359 L646.3 359.8 L647.3 359.8 L648.4 360.8 L649.6 359.1 L650.6 360.1 L651.7 360.4 L652 364.2 L653 364.9 L654.2 364.6 L655.6 365.7 L656.6 366.5 L656.7 364.3 L658.2 367.6 L659.1 368 L660.3 366.4 L661.2 367.5 L662.1 368.6 L663 368.5 L663.9 369.2" fill="none" stroke="#000" stroke-width="2.7" stroke-linejoin="miter" stroke-miterlimit="3"/>
<path d="M426 315 L427.2 314.6 L428.3 314.2 L429 313.5 L430.1 313.1 L431.7 313.4 L432.7 313 L433.8 312.3 L434.7 311.8 L435.7 311.3 L436.6 310.8 L436.9 310 L437.7 309.3 L439.8 308.4 L440.7 307.7 L441.3 307.3 L442 306.4 L442.8 305.6 L442.4 304.3 L443.1 303.4 L443.8 302.5 L444.5 301.4 L444.7 300.3 L445.3 298.9 L446 297.9 L447.5 297.2 L448.1 296.3 L448.7 295.3 L449.3 293.7 L450.5 293.5 L451.1 292.4 L451.6 291.3 L452 289.9 L452.5 288.8 L452.9 288 L453.4 286.9 L453.9 286 L454.4 285 L454.9 284 L454.7 282.9 L455.2 281.8 L455.7 280.6 L456.9 279.3 L457.4 278.4 L457.3 277.6 L457.8 276.6 L458.2 275.8 L458.7 274 L459.5 273.2 L460.4 272.2 L460.8 271.2 L461.3 270 L461.8 269.6 L461.5 267.5 L462 266.4 L462.4 265.3 L463.6 265.1 L464.1 263.9 L464.8 263 L465.2 262.1 L465.7 261.1 L466.5 260.1 L466.9 259.1 L466.3 257.7 L466.4 257.2 L467.6 255.5 L468.1 254.2 L469 253.7 L469.5 252.8 L467.9 251.4 L468.4 250.3 L468.4 249.3 L471.1 247.6 L470.9 246.2 L471.3 245.5 L471.7 244.4 L472.2 243.3 L472.8 242.2 L473.2 241.3 L472.7 239.8 L473.1 239 L474.2 237.9 L474.6 236.9 L474.6 236.7 L475 235.4 L475.4 234.4 L477.3 230.6 L478 233.1 L479.1 233.2 L479.8 233.3 L482 230.7 L482.3 235.2 L483.5 236 L484.6 236.9 L486.8 237.4 L488 238.9 L489.1 240.5 L489.1 234.4 L490.1 234.1 L492 230.4 L493.1 230.6 L493.3 238.9 L494.3 240.3 L495.4 230.4 L496.3 232.6 L497.3 232.4 L498.7 238.8 L499.4 239.8 L498.9 245.5 L499.6 246.5 L500.2 242.5 L500.9 244.1 L501.9 245.7 L502.6 247.6 L503.9 247.4 L504.6 248 L504.8 249.6 L505.4 251.1 L506 254.8 L506.7 256.1 L508.6 255.4 L509.3 255.7 L509.5 257.6 L509.8 257 L510.4 257.8 L510.8 259.7 L511.4 260.3 L512 260.9 L513.1 261.2 L513 262.5 L513.6 263.8 L514.2 265.1 L515 265.4 L515.1 264.4 L516.3 266.7 L516.8 267.4 L517.4 268.1 L518.3 270.6 L518.9 271.8 L519.5 272.7 L520.4 274.9 L521 275.9 L520.5 275.5 L521 277.5 L521.6 278.5 L522.5 276.9 L523 279.9 L523.7 280.7 L524.4 282.4 L524.7 284.3 L525.3 286.3 L526.6 281.5 L527.3 282.7 L528.2 285.4 L528.9 285.5 L529.6 286.1 L530.7 290.2 L530.4 288.5 L531.1 289.7 L531.7 292 L532.3 292.6 L533 293.8 L534.1 294 L534.7 295.7 L535.3 296.9 L536 297.6 L536.2 299.7 L537.1 302 L537.8 302.5 L538.2 299.7 L538.9 300.9 L540.4 305.6 L541.1 306.8 L540.6 305.5 L541.3 306 L542.8 304.5 L543.5 305.5 L544.3 308.2 L545 308.7 L545.8 310.7 L546.5 312 L547.3 312.3 L548.7 313.1 L549.4 313.6 L549.7 313.5 L550.5 315.3 L551.3 315.7 L552.1 316.3 L553.4 315.2 L554.2 316.8 L555.2 319.7 L556 320.6 L556.9 321.8 L556.5 323.9 L557.4 323.9 L558.3 325.4 L559.9 323.4 L560.8 323.2 L561.7 323.8 L563 326.6 L564 327.4 L564.9 327.6 L564.9 325.2 L565.5 327.4 L566.5 328.2 L568.6 330.5 L569.6 331.8 L570 330.8 L570.9 331.3 L571.3 332.7 L572.3 333.1 L573.3 334 L574.8 333 L575.7 333.5 L576.6 334.8 L577.5 335.7 L578 335.5 L579 335.5 L580 335.6 L581.4 337.1 L582.4 338.1 L584.4 339.7 L585.5 338 L586.5 337.7 L587.6 340.7 L588.7 341.4 L589.7 341.4 L590.5 341.3 L591.5 342.3 L592.6 343.2 L593.8 343.5 L594.1 342.9 L595.1 343.5 L596.2 344.3 L597.4 344.5 L598.5 345.1 L599.6 345.2 L601.1 349 L602.2 348.9 L603.4 347.8 L604.5 348.5 L605.6 348.8 L605.4 349.5 L606.5 350.4 L609 349.5 L610.1 349.1 L610.8 347.8 L611.9 348.3 L613 347.5 L613.6 349.8 L614.7 350 L616.6 349.2 L617.7 349.4 L618.4 348.8 L619.5 350.1 L620.6 350.3 L622.2 351.6 L623.3 351.5 L624.3 353.1 L625 353.3 L626.1 353.5 L627.2 354.6 L628.4 354.2 L629.6 354.3 L630.7 355 L632 357.4 L633.1 357.4 L634.2 358.1 L635.6 358.3 L636.7 359.2 L637.9 356.2 L638.9 356.6 L639.7 359.9 L640.7 360.8 L641.5 360.3 L642.2 359.7 L643.2 360.1 L644.6 361.5 L645.6 361.6 L646.4 359.8 L647.4 360.9 L647.9 364.9 L648.9 365.9 L649.8 366.5 L650.6 366.4 L651.5 367.8 L652.4 368.1 L652.8 370.5 L653.7 371.4 L654.6 371.6 L657.3 370.8 L658.2 371.5 L658.4 371.8 L658.3 373.6 L659.1 374 L660.7 375.1 L661.5 376 L661.5 430 L426 430 Z" fill="#fff" stroke="none"/>
<path d="M426 315 L427.2 314.6 L428.3 314.2 L429 313.5 L430.1 313.1 L431.7 313.4 L432.7 313 L433.8 312.3 L434.7 311.8 L435.7 311.3 L436.6 310.8 L436.9 310 L437.7 309.3 L439.8 308.4 L440.7 307.7 L441.3 307.3 L442 306.4 L442.8 305.6 L442.4 304.3 L443.1 303.4 L443.8 302.5 L444.5 301.4 L444.7 300.3 L445.3 298.9 L446 297.9 L447.5 297.2 L448.1 296.3 L448.7 295.3 L449.3 293.7 L450.5 293.5 L451.1 292.4 L451.6 291.3 L452 289.9 L452.5 288.8 L452.9 288 L453.4 286.9 L453.9 286 L454.4 285 L454.9 284 L454.7 282.9 L455.2 281.8 L455.7 280.6 L456.9 279.3 L457.4 278.4 L457.3 277.6 L457.8 276.6 L458.2 275.8 L458.7 274 L459.5 273.2 L460.4 272.2 L460.8 271.2 L461.3 270 L461.8 269.6 L461.5 267.5 L462 266.4 L462.4 265.3 L463.6 265.1 L464.1 263.9 L464.8 263 L465.2 262.1 L465.7 261.1 L466.5 260.1 L466.9 259.1 L466.3 257.7 L466.4 257.2 L467.6 255.5 L468.1 254.2 L469 253.7 L469.5 252.8 L467.9 251.4 L468.4 250.3 L468.4 249.3 L471.1 247.6 L470.9 246.2 L471.3 245.5 L471.7 244.4 L472.2 243.3 L472.8 242.2 L473.2 241.3 L472.7 239.8 L473.1 239 L474.2 237.9 L474.6 236.9 L474.6 236.7 L475 235.4 L475.4 234.4 L477.3 230.6" fill="none" stroke="#000" stroke-width="1.0" stroke-linejoin="miter" stroke-miterlimit="3"/>
<path d="M477.3 230.6 L478 233.1 L479.1 233.2 L479.8 233.3 L482 230.7 L482.3 235.2 L483.5 236 L484.6 236.9 L486.8 237.4 L488 238.9 L489.1 240.5 L489.1 234.4 L490.1 234.1 L492 230.4 L493.1 230.6 L493.3 238.9 L494.3 240.3 L495.4 230.4 L496.3 232.6 L497.3 232.4 L498.7 238.8 L499.4 239.8 L498.9 245.5 L499.6 246.5 L500.2 242.5 L500.9 244.1 L501.9 245.7 L502.6 247.6 L503.9 247.4 L504.6 248 L504.8 249.6 L505.4 251.1 L506 254.8 L506.7 256.1 L508.6 255.4 L509.3 255.7 L509.5 257.6 L509.8 257 L510.4 257.8 L510.8 259.7 L511.4 260.3 L512 260.9 L513.1 261.2 L513 262.5 L513.6 263.8 L514.2 265.1 L515 265.4 L515.1 264.4 L516.3 266.7 L516.8 267.4 L517.4 268.1 L518.3 270.6 L518.9 271.8 L519.5 272.7 L520.4 274.9 L521 275.9 L520.5 275.5 L521 277.5 L521.6 278.5 L522.5 276.9 L523 279.9 L523.7 280.7 L524.4 282.4 L524.7 284.3 L525.3 286.3 L526.6 281.5 L527.3 282.7 L528.2 285.4 L528.9 285.5 L529.6 286.1 L530.7 290.2 L530.4 288.5 L531.1 289.7 L531.7 292 L532.3 292.6 L533 293.8 L534.1 294 L534.7 295.7 L535.3 296.9 L536 297.6 L536.2 299.7 L537.1 302 L537.8 302.5 L538.2 299.7 L538.9 300.9 L540.4 305.6 L541.1 306.8 L540.6 305.5 L541.3 306 L542.8 304.5 L543.5 305.5 L544.3 308.2 L545 308.7 L545.8 310.7 L546.5 312 L547.3 312.3 L548.7 313.1 L549.4 313.6 L549.7 313.5 L550.5 315.3 L551.3 315.7 L552.1 316.3 L553.4 315.2 L554.2 316.8 L555.2 319.7 L556 320.6 L556.9 321.8 L556.5 323.9 L557.4 323.9 L558.3 325.4 L559.9 323.4 L560.8 323.2 L561.7 323.8 L563 326.6 L564 327.4 L564.9 327.6 L564.9 325.2 L565.5 327.4 L566.5 328.2 L568.6 330.5 L569.6 331.8 L570 330.8 L570.9 331.3 L571.3 332.7 L572.3 333.1 L573.3 334 L574.8 333 L575.7 333.5 L576.6 334.8 L577.5 335.7 L578 335.5 L579 335.5 L580 335.6 L581.4 337.1 L582.4 338.1 L584.4 339.7 L585.5 338 L586.5 337.7 L587.6 340.7 L588.7 341.4 L589.7 341.4 L590.5 341.3 L591.5 342.3 L592.6 343.2 L593.8 343.5 L594.1 342.9 L595.1 343.5 L596.2 344.3 L597.4 344.5 L598.5 345.1 L599.6 345.2 L601.1 349 L602.2 348.9 L603.4 347.8 L604.5 348.5 L605.6 348.8 L605.4 349.5 L606.5 350.4 L609 349.5 L610.1 349.1 L610.8 347.8 L611.9 348.3 L613 347.5 L613.6 349.8 L614.7 350 L616.6 349.2 L617.7 349.4 L618.4 348.8 L619.5 350.1 L620.6 350.3 L622.2 351.6 L623.3 351.5 L624.3 353.1 L625 353.3 L626.1 353.5 L627.2 354.6 L628.4 354.2 L629.6 354.3 L630.7 355 L632 357.4 L633.1 357.4 L634.2 358.1 L635.6 358.3 L636.7 359.2 L637.9 356.2 L638.9 356.6 L639.7 359.9 L640.7 360.8 L641.5 360.3 L642.2 359.7 L643.2 360.1 L644.6 361.5 L645.6 361.6 L646.4 359.8 L647.4 360.9 L647.9 364.9 L648.9 365.9 L649.8 366.5 L650.6 366.4 L651.5 367.8 L652.4 368.1 L652.8 370.5 L653.7 371.4 L654.6 371.6 L657.3 370.8 L658.2 371.5 L658.4 371.8 L658.3 373.6 L659.1 374 L660.7 375.1 L661.5 376" fill="none" stroke="#000" stroke-width="2.6" stroke-linejoin="miter" stroke-miterlimit="3"/>
<path d="M418 315.5 L419.2 315.2 L420.4 314.9 L420.7 318.8 L421.9 319 L424.7 316.3 L424.6 311.6 L425.6 310 L426.7 309.6 L427.8 311.5 L428.8 311.9 L430 307.7 L431 307.7 L431.8 306.1 L432.1 305.3 L435.4 307.2 L433.7 305.1 L434.5 304.4 L435.7 303.6 L437.7 301.3 L438.6 301.5 L437.8 301 L438.5 300.5 L439.8 296.7 L440.5 295.9 L441.1 294.6 L441.6 294.8 L441.8 294.2 L442.4 294.1 L443 294.7 L444.3 293.5 L445.5 295 L446 293.6 L446.6 294.7 L446.5 289.2 L447 288 L447.5 287.7 L447.4 287.5 L447.9 286.7 L448.8 283.7 L449.3 283.3 L449.2 284.2 L449.7 281.8 L450.2 280.8 L450.6 280.3 L451.1 279.8 L451.3 274.2 L451.8 270.9 L454.3 274.6 L454.7 273.2 L455.2 272.6 L454.7 269.9 L455.2 269 L455.6 269.8 L455.4 268.8 L455.8 266.4 L457.1 268.6 L457.5 267 L458 266.5 L458.4 262.5 L458.9 261.4 L459.4 260.6 L460.1 260.1 L460.6 259.2 L460.5 256.1 L461 254.7 L461.5 253.8 L462.6 254.3 L462.4 257.5 L462.9 256.8 L463.4 255.9 L463.2 252.1 L463.7 254.2 L464.2 251 L466.1 244.9 L466.2 242.5 L466.7 243 L467.2 242.1 L467.5 243.9 L469.2 244.8 L469.8 242.5 L468.5 242 L469.1 242.4 L469.7 242.1 L471 243.9 L471.6 242.9 L472.2 242.7 L472.2 239.9 L474 235.8 L475.1 236.5 L476.2 238 L475.9 237.2 L477 236.2 L478.6 239 L479.7 240.1 L481.1 235.7 L482.2 236.7 L483.8 241.6 L484.6 243.1 L485.7 244.2 L486.4 246.6 L487.5 245.8 L488 246.4 L489.7 243.5 L489.2 243.4 L489.8 244.6 L490.3 245.1 L491.3 245 L491.9 245.7 L492.5 247.3 L493 248.8 L493.7 245.9 L494.3 246.4 L494.8 246.7 L494.9 253.5 L495.5 254.2 L495.3 252.9 L495.9 253.7 L496.4 254.7 L497.7 257 L498.3 258.4 L498.8 259.5 L498.9 261.5 L499.5 263.1 L500.5 263 L501 264.8 L501.6 266.3 L502.1 266.8 L502.6 267 L503.9 269 L505.4 270.7 L504.9 270.2 L505.5 270.8 L506.1 272.1 L506.6 272.9 L507.2 277.9 L507.8 278.8 L508.4 279.4 L509.6 274.4 L510.2 275.8 L509.4 279.8 L510 280.6 L510.5 281.8 L511.7 281.9 L512.2 283.1 L513 283.2 L513.6 284.1 L514.2 285.7 L514.1 290.7 L514.6 292.4 L515.2 293.7 L515.8 291.4 L516.4 292.2 L517 293 L518.5 292.5 L518.8 293.8 L519.4 295 L520 296 L520.1 298.3 L520.7 299.7 L521.4 300.9 L522.8 300.5 L523.4 301.2 L524.1 302.1 L524.3 302.4 L524.9 303.8 L525.5 306.2 L526.2 307.1 L526.4 307.5 L527 308.7 L527.7 309.9 L528.8 312.1 L529.5 312.9 L530.2 313.6 L530 311.8 L530.7 312.8 L531.4 313.1 L531.8 314 L532.5 314.6 L533.2 315.3 L534.7 319.4 L535.4 320 L537.8 318.1 L538.6 318.6 L538.8 322.8 L539.6 323.3 L540.3 323.2 L541.1 324 L541.9 325.1 L542.2 325.5 L543 326 L543.8 326 L544.5 325.5 L545.4 326.2 L546.3 328.1 L547.4 327.8 L548.3 330.7 L549.2 331.3 L550.1 332.2 L551 332.3 L551.9 333.2 L554 333.6 L554.9 334.4 L555.8 335.2 L555.8 334.5 L556.7 335.5 L557.3 339.4 L558.3 340.5 L558.5 338.9 L559.4 339.4 L560.5 340.6 L562.5 338.5 L563.4 338.9 L564.4 339.5 L564.5 341 L565.5 341.9 L566.4 343.8 L567.4 344.7 L568.4 344.9 L569.4 345.4 L570.3 345.9 L571.3 346.8 L571.5 351.2 L572.5 351.8 L573.5 352.7 L575.8 350.3 L576.8 350.3 L578.6 350.8 L577.1 351.9 L579.8 353 L580.8 353.7 L581.8 354.2 L583 353.7 L584 354.4 L584.7 352.6 L585.8 352.4 L586.8 352.4 L588.7 352.8 L590 352.6 L591 353.2 L592.1 353.1 L593.6 356.4 L594.7 356.8 L595.7 357.8 L596.1 357.3 L597.2 357.3 L598.3 357.6 L598.7 360.9 L599.7 360.8 L600.1 358.8 L601.3 361.3 L602.6 359.8 L603.7 359.8 L605.6 361.9 L606.7 363.1 L607.8 364 L608.3 364.2 L609.3 364.4 L610.1 363.5 L611.2 363.5 L613.2 365.4 L614.3 365.4 L615.7 364.5 L616.8 365.6 L617.9 366.2 L618.1 366.3 L619.2 367.4 L620.3 368.4 L620.6 369.5 L621.7 370.4 L622.7 369.5 L623.8 369.2 L626.2 370.3 L627.3 370.6 L628.2 371.6 L629.3 372 L630.4 372.4 L631.3 371.8 L632.4 371.7 L633 370.9 L634.1 371.1 L636.5 374.1 L637.1 370.2 L638.2 370.9 L639.2 372.3 L640.2 371.7 L641.8 371.7 L642.9 372.5 L644 375.6 L643.4 373.3 L644.5 373.6 L645.6 375 L647.9 377 L649 377.7 L650 378 L650.9 375.9 L652 376.1 L653.6 377.3 L654.7 376.8 L655.8 376.9 L655.9 379.7 L657 380.1 L658.6 380.8 L659.7 381.2 L659.7 430 L418 430 Z" fill="#fff" stroke="none"/>
<path d="M418 315.5 L419.2 315.2 L420.4 314.9 L420.7 318.8 L421.9 319 L424.7 316.3 L424.6 311.6 L425.6 310 L426.7 309.6 L427.8 311.5 L428.8 311.9 L430 307.7 L431 307.7 L431.8 306.1 L432.1 305.3 L435.4 307.2 L433.7 305.1 L434.5 304.4 L435.7 303.6 L437.7 301.3 L438.6 301.5 L437.8 301 L438.5 300.5 L439.8 296.7 L440.5 295.9 L441.1 294.6 L441.6 294.8 L441.8 294.2 L442.4 294.1 L443 294.7 L444.3 293.5 L445.5 295 L446 293.6 L446.6 294.7 L446.5 289.2 L447 288 L447.5 287.7 L447.4 287.5 L447.9 286.7 L448.8 283.7 L449.3 283.3 L449.2 284.2 L449.7 281.8 L450.2 280.8 L450.6 280.3 L451.1 279.8 L451.3 274.2 L451.8 270.9 L454.3 274.6 L454.7 273.2 L455.2 272.6 L454.7 269.9 L455.2 269 L455.6 269.8 L455.4 268.8 L455.8 266.4 L457.1 268.6 L457.5 267 L458 266.5 L458.4 262.5 L458.9 261.4 L459.4 260.6 L460.1 260.1 L460.6 259.2 L460.5 256.1 L461 254.7 L461.5 253.8 L462.6 254.3 L462.4 257.5 L462.9 256.8 L463.4 255.9 L463.2 252.1 L463.7 254.2 L464.2 251 L466.1 244.9 L466.2 242.5 L466.7 243 L467.2 242.1 L467.5 243.9 L469.2 244.8 L469.8 242.5 L468.5 242 L469.1 242.4 L469.7 242.1 L471 243.9 L471.6 242.9 L472.2 242.7 L472.2 239.9 L474 235.8" fill="none" stroke="#000" stroke-width="1.7" stroke-linejoin="miter" stroke-miterlimit="3"/>
<path d="M474 235.8 L475.1 236.5 L476.2 238 L475.9 237.2 L477 236.2 L478.6 239 L479.7 240.1 L481.1 235.7 L482.2 236.7 L483.8 241.6 L484.6 243.1 L485.7 244.2 L486.4 246.6 L487.5 245.8 L488 246.4 L489.7 243.5 L489.2 243.4 L489.8 244.6 L490.3 245.1 L491.3 245 L491.9 245.7 L492.5 247.3 L493 248.8 L493.7 245.9 L494.3 246.4 L494.8 246.7 L494.9 253.5 L495.5 254.2 L495.3 252.9 L495.9 253.7 L496.4 254.7 L497.7 257 L498.3 258.4 L498.8 259.5 L498.9 261.5 L499.5 263.1 L500.5 263 L501 264.8 L501.6 266.3 L502.1 266.8 L502.6 267 L503.9 269 L505.4 270.7 L504.9 270.2 L505.5 270.8 L506.1 272.1 L506.6 272.9 L507.2 277.9 L507.8 278.8 L508.4 279.4 L509.6 274.4 L510.2 275.8 L509.4 279.8 L510 280.6 L510.5 281.8 L511.7 281.9 L512.2 283.1 L513 283.2 L513.6 284.1 L514.2 285.7 L514.1 290.7 L514.6 292.4 L515.2 293.7 L515.8 291.4 L516.4 292.2 L517 293 L518.5 292.5 L518.8 293.8 L519.4 295 L520 296 L520.1 298.3 L520.7 299.7 L521.4 300.9 L522.8 300.5 L523.4 301.2 L524.1 302.1 L524.3 302.4 L524.9 303.8 L525.5 306.2 L526.2 307.1 L526.4 307.5 L527 308.7 L527.7 309.9 L528.8 312.1 L529.5 312.9 L530.2 313.6 L530 311.8 L530.7 312.8 L531.4 313.1 L531.8 314 L532.5 314.6 L533.2 315.3 L534.7 319.4 L535.4 320 L537.8 318.1 L538.6 318.6 L538.8 322.8 L539.6 323.3 L540.3 323.2 L541.1 324 L541.9 325.1 L542.2 325.5 L543 326 L543.8 326 L544.5 325.5 L545.4 326.2 L546.3 328.1 L547.4 327.8 L548.3 330.7 L549.2 331.3 L550.1 332.2 L551 332.3 L551.9 333.2 L554 333.6 L554.9 334.4 L555.8 335.2 L555.8 334.5 L556.7 335.5 L557.3 339.4 L558.3 340.5 L558.5 338.9 L559.4 339.4 L560.5 340.6 L562.5 338.5 L563.4 338.9 L564.4 339.5 L564.5 341 L565.5 341.9 L566.4 343.8 L567.4 344.7 L568.4 344.9 L569.4 345.4 L570.3 345.9 L571.3 346.8 L571.5 351.2 L572.5 351.8 L573.5 352.7 L575.8 350.3 L576.8 350.3 L578.6 350.8 L577.1 351.9 L579.8 353 L580.8 353.7 L581.8 354.2 L583 353.7 L584 354.4 L584.7 352.6 L585.8 352.4 L586.8 352.4 L588.7 352.8 L590 352.6 L591 353.2 L592.1 353.1 L593.6 356.4 L594.7 356.8 L595.7 357.8 L596.1 357.3 L597.2 357.3 L598.3 357.6 L598.7 360.9 L599.7 360.8 L600.1 358.8 L601.3 361.3 L602.6 359.8 L603.7 359.8 L605.6 361.9 L606.7 363.1 L607.8 364 L608.3 364.2 L609.3 364.4 L610.1 363.5 L611.2 363.5 L613.2 365.4 L614.3 365.4 L615.7 364.5 L616.8 365.6 L617.9 366.2 L618.1 366.3 L619.2 367.4 L620.3 368.4 L620.6 369.5 L621.7 370.4 L622.7 369.5 L623.8 369.2 L626.2 370.3 L627.3 370.6 L628.2 371.6 L629.3 372 L630.4 372.4 L631.3 371.8 L632.4 371.7 L633 370.9 L634.1 371.1 L636.5 374.1 L637.1 370.2 L638.2 370.9 L639.2 372.3 L640.2 371.7 L641.8 371.7 L642.9 372.5 L644 375.6 L643.4 373.3 L644.5 373.6 L645.6 375 L647.9 377 L649 377.7 L650 378 L650.9 375.9 L652 376.1 L653.6 377.3 L654.7 376.8 L655.8 376.9 L655.9 379.7 L657 380.1 L658.6 380.8 L659.7 381.2" fill="none" stroke="#000" stroke-width="2.6" stroke-linejoin="miter" stroke-miterlimit="3"/>
<path d="M471.5 229.5 L472.3 231 L473.2 233.8 L473.7 227.4 L474.7 230.1 L475.4 237.9 L476.2 236.3 L476.9 234.3 L477.5 234.3 L478.6 233.3 L479.5 234.9 L480 235.9 L480.9 231.2 L481.4 237.2 L482.2 235.7 L483.2 235.8 L484.3 232.6 L485.3 233.2 L486.3 237.9 L486.9 230.1 L487.5 238.9 L488.3 235.4 L488.9 234.2 L489.7 232.7 L490.5 235.2 L491.6 236.4 L492.6 238.3 L493.7 236.5 L494.3 238.5 L495.4 239.1 L496.2 237.2 L496.9 238.5 L497.7 232.9 L498.2 238.9 L499.3 231 L500.3 234.5 L500.9 233.3 L501.9 239.5 L502.4 236.9 L502.9 238 L503.6 239.8 L504.7 236 L505.8 234 L506.4 237.1 L506.9 233 L507.6 237.4 L508.2 231.5" fill="none" stroke="#000" stroke-width="2.1" stroke-linejoin="miter"/>
<path d="M418.0 315.5 L659.3 382.2" stroke="#000" stroke-width="3.8" fill="none"/>
<path d="M418.0 315.5 L385.2 103.5" stroke="#000" stroke-width="4.3" fill="none" stroke-linecap="square"/>
<path d="M659.3 382.2 L714.6 223.4" stroke="#000" stroke-width="2.6" fill="none"/>
<path d="M417 315.5 l-2.6 -1" stroke="#000" stroke-width="1.8" fill="none"/>
<path d="M410 278.7 l-2.6 -1" stroke="#000" stroke-width="1.8" fill="none"/>
<path d="M404.3 240 l-2.6 -1" stroke="#000" stroke-width="1.8" fill="none"/>
<path d="M396.7 198 l-2.6 -1" stroke="#000" stroke-width="1.8" fill="none"/>
<path d="M390.4 153.6 l-2.6 -1" stroke="#000" stroke-width="1.8" fill="none"/>
<path d="M384.2 103.2 l-2.6 -1" stroke="#000" stroke-width="1.8" fill="none"/>
<text x="376.4" y="119.3" font-size="18.6" text-anchor="end">1000</text>
<text x="383.8" y="168.3" font-size="18.6" text-anchor="end">800</text>
<text x="391" y="212.9" font-size="18.6" text-anchor="end">600</text>
<text x="397.7" y="255.3" font-size="18.6" text-anchor="end">400</text>
<text x="404" y="294.4" font-size="18.6" text-anchor="end">200</text>
<text x="402.2" y="330.7" font-size="18.6">0</text>
<text x="405.6" y="337.8" font-size="18.6">10</text>
<path d="M512.7 343.7 l-0.8 3.4" stroke="#000" stroke-width="2.2" fill="none"/>
<path d="M606.5 370.1 l-0.8 3.4" stroke="#000" stroke-width="2.2" fill="none"/>
<text x="493.6" y="364.5" font-size="18.6">20</text>
<text x="588.8" y="390.9" font-size="18.6">30</text>
<rect x="658.8" y="380.7" width="4" height="3" fill="#000"/>
<rect x="668.9" y="350.3" width="4" height="3" fill="#000"/>
<rect x="677.8" y="322.1" width="4" height="3" fill="#000"/>
<rect x="688" y="294.9" width="4" height="3" fill="#000"/>
<rect x="697.4" y="271.3" width="4" height="3" fill="#000"/>
<rect x="705.7" y="246" width="4" height="3" fill="#000"/>
<rect x="714.1" y="223.9" width="4" height="3" fill="#000"/>
<text x="672.6" y="399.2" font-size="18.6">0</text>
<text x="683.6" y="367.5" font-size="18.6">5</text>
<text x="693.8" y="339" font-size="18.6">10</text>
<text x="702.7" y="311.7" font-size="18.6">15</text>
<text x="710" y="286.8" font-size="18.6">20</text>
<text x="717.8" y="263" font-size="18.6">25</text>
<text x="725.4" y="241.4" font-size="18.6">30</text>
<g transform="translate(338.4 227.5) rotate(-94.8)"><text x="0" y="0" font-size="21.8" text-anchor="middle">Relative Intensity</text></g>
<g transform="translate(744.6 318.4) rotate(-71.4)"><text x="0" y="0" font-size="21.5" text-anchor="middle">Time (min)</text></g>
<g transform="translate(490 406.5) rotate(13)"><text x="0" y="0" font-size="31" font-style="italic">2</text></g>
<text x="512.6" y="415.8" font-size="27" font-style="italic" style="font-family:'Liberation Serif',serif">θ</text>
<text x="412" y="127.4" font-size="37">(a)</text>
<rect x="322.3" y="23.5" width="101.7" height="57" fill="#000"/>
<rect x="317.3" y="18.4" width="101.7" height="57" fill="#fff" stroke="#333" stroke-width="0.9"/>
<text x="368.2" y="41.9" font-size="20" text-anchor="middle">PET-LMw</text>
<text x="369.4" y="66.5" font-size="20" text-anchor="middle">160°C</text>
</g>
<g id="pb">
<polyline fill="none" stroke="#000" stroke-width="2.6" stroke-linejoin="round" stroke-linecap="butt" points="96.6,781.3 98.3,775.9 99.9,770.5 101.5,763.7 103.1,753.4 104.8,741.2 106.4,728.1 108,714.8 109.6,702.5 111.3,690.6 112.9,679.4 114.5,669.7 116.1,661.1 117.8,653.3 119.4,645.9 121,638.9 122.7,632.1 124.3,625.8 125.9,619.9 127.5,614.6 129.2,609.6 130.8,604.8 132.4,600.1 134,595.3 135.7,590.5 137.3,585.8 138.9,581.1 140.6,576.7 142.2,572.6 143.8,568.8 145.4,565.3 147.1,562.1 148.7,558.9 150.3,555.9 151.9,553 153.6,550.3 155.2,547.6 156.8,545.1 158.5,542.8 160.1,540.5 161.7,538.5 163.3,536.5 165,534.6 166.6,532.8 168.2,531.1 169.8,529.4 171.5,527.8 173.1,526.3 174.7,524.8 176.3,523.4 178,522.1 179.6,520.9 181.2,519.7 182.9,518.6 184.5,517.6 186.1,516.5 187.7,515.6 189.4,514.6 191,513.7 192.6,512.8 194.2,512 195.9,511.2 197.5,510.5 199.1,509.9 200.8,509.3 202.4,508.7 204,508.2 205.6,507.8 207.3,507.3 208.9,506.9 210.5,506.5 212.1,506.1 213.8,505.8 215.4,505.4 217,505.1 218.6,504.8 220.3,504.5 221.9,504.2 223.5,504 225.2,503.8 226.8,503.6 228.4,503.4 230,503.2 231.7,503.1 233.3,502.9 234.9,502.8 236.5,502.6 238.2,502.5 239.8,502.4 241.4,502.2 243.1,502.1 244.7,502 246.3,501.9 247.9,501.8 249.6,501.7 251.2,501.6 252.8,501.5 254.4,501.5 256.1,501.4 257.7,501.3 259.3,501.3 261,501.2 262.6,501.1 264.2,501.1 265.8,501 267.5,501 269.1,500.9 270.7,500.9 272.3,500.8 274,500.8 275.6,500.7 277.2,500.7 278.8,500.6 280.5,500.6 282.1,500.5 283.7,500.5 285.4,500.5 287,500.4 288.6,500.4 290.2,500.4 291.9,500.3 293.5,500.3 295.1,500.3 296.7,500.2 298.4,500.2 300,500.2 301.6,500.2 303.3,500.2 304.9,500.2 306.5,500.1 308.1,500.1 309.8,500.1 311.4,500.1 313,500.1 314.6,500.1 316.3,500.1 317.9,500.1 319.5,500 321.1,500 322.8,500 324.4,500 326,500 327.7,500 329.3,500 330.9,500 332.5,500 334.2,500 335.8,499.9 337.4,499.9 339,499.9 340.7,499.9 342.3,499.9 343.9,499.9 345.6,499.9 347.2,499.9 348.8,499.9 350.4,499.9 352.1,499.9 353.7,499.9 355.3,499.9 356.9,499.8 358.6,499.8 360.2,499.8 361.8,499.8 363.4,499.8 365.1,499.8 366.7,499.8 368.3,499.8 370,499.8 371.6,499.8 373.2,499.8 374.8,499.8 376.5,499.8 378.1,499.8 379.7,499.8 381.3,499.8 383,499.8 384.6,499.8 386.2,499.8 387.9,499.8 389.5,499.8 391.1,499.8 392.7,499.8 394.4,499.8 396,499.8 397.6,499.8 399.2,499.8 400.9,499.8 402.5,499.8 404.1,499.8 405.8,499.8 407.4,499.8 409,499.8 410.6,499.8 412.3,499.8 413.9,499.8 415.5,499.8 417.1,499.8 418.8,499.8 420.4,499.8 422,499.8 423.6,499.8 425.3,499.8 426.9,499.8 428.5,499.8 430.2,499.8 431.8,499.8 433.4,499.8 435,499.8 436.7,499.8 438.3,499.8 439.9,499.8 441.5,499.8 443.2,499.8 444.8,499.8 446.4,499.8 448.1,499.8 449.7,499.8 451.3,499.8 452.9,499.8 454.6,499.8 456.2,499.8 457.8,499.8 459.4,499.8 461.1,499.8 462.7,499.8 464.3,499.8 465.9,499.8 467.6,499.8 469.2,499.8 470.8,499.8 472.5,499.8 474.1,499.8 475.7,499.8 477.3,499.8 479,499.8 480.6,499.8 482.2,499.8 483.8,499.8 485.5,499.8 487.1,499.8"/>
<polyline fill="none" stroke="#f00" stroke-width="2.8" stroke-linejoin="round" stroke-linecap="butt" points="94.4,781.3 96,771.5 97.7,761.6 99.3,751.9 100.9,742.5 102.6,733.3 104.2,724.4 105.9,715.8 107.5,707.4 109.1,699.3 110.8,691.5 112.4,684 114,676.7 115.7,669.7 117.3,662.9 118.9,656.3 120.6,650 122.2,643.9 123.9,638 125.5,632.4 127.1,626.9 128.8,621.6 130.4,616.5 132,611.6 133.7,606.9 135.3,602.4 136.9,598 138.6,593.8 140.2,589.7 141.9,585.8 143.5,582 145.1,578.4 146.8,574.9 148.4,571.5 150,568.3 151.7,565.1 153.3,562.1 154.9,559.2 156.6,556.4 158.2,553.8 159.9,551.2 161.5,548.7 163.1,546.3 164.8,544 166.4,541.8 168,539.6 169.7,537.6 171.3,535.6 172.9,533.7 174.6,531.9 176.2,530.1 177.8,528.4 179.5,526.8 181.1,525.2 182.8,523.7 184.4,522.3 186,520.9 187.7,519.5 189.3,518.2 190.9,517 192.6,515.8 194.2,514.6 195.8,513.5 197.5,512.5 199.1,511.4 200.8,510.5 202.4,509.5 204,508.6 205.7,507.7 207.3,506.9 208.9,506.1 210.6,505.3 212.2,504.5 213.8,503.8 215.5,503.1 217.1,502.5 218.8,501.8 220.4,501.2 222,500.6 223.7,500.1 225.3,499.5 226.9,499 228.6,498.5 230.2,498 231.8,497.5 233.5,497.1 235.1,496.6 236.8,496.2 238.4,495.8 240,495.5 241.7,495.1 243.3,494.7 244.9,494.4 246.6,494.1 248.2,493.7 249.8,493.4 251.5,493.2 253.1,492.9 254.8,492.6 256.4,492.3 258,492.1 259.7,491.9 261.3,491.6 262.9,491.4 264.6,491.2 266.2,491 267.8,490.8 269.5,490.6 271.1,490.4 272.8,490.3 274.4,490.1 276,489.9 277.7,489.8 279.3,489.6 280.9,489.5 282.6,489.4 284.2,489.2 285.8,489.1 287.5,489 289.1,488.9 290.8,488.7 292.4,488.6 294,488.5 295.7,488.4 297.3,488.3 298.9,488.2 300.6,488.2 302.2,488.1 303.8,488 305.5,487.9 307.1,487.8 308.7,487.8 310.4,487.7 312,487.6 313.7,487.6 315.3,487.5 316.9,487.5 318.6,487.4 320.2,487.3 321.8,487.3 323.5,487.2 325.1,487.2 326.7,487.1 328.4,487.1 330,487.1 331.7,487 333.3,487 334.9,486.9 336.6,486.9 338.2,486.9 339.8,486.8 341.5,486.8 343.1,486.8 344.7,486.7 346.4,486.7 348,486.7 349.7,486.7 351.3,486.6 352.9,486.6 354.6,486.6 356.2,486.6 357.8,486.5 359.5,486.5 361.1,486.5 362.7,486.5 364.4,486.5 366,486.4 367.7,486.4 369.3,486.4 370.9,486.4 372.6,486.4 374.2,486.4 375.8,486.4 377.5,486.3 379.1,486.3 380.7,486.3 382.4,486.3 384,486.3 385.7,486.3 387.3,486.3 388.9,486.3 390.6,486.3 392.2,486.2 393.8,486.2 395.5,486.2 397.1,486.2 398.7,486.2 400.4,486.2 402,486.2 403.7,486.2 405.3,486.2 406.9,486.2 408.6,486.2 410.2,486.2 411.8,486.2 413.5,486.2 415.1,486.1 416.7,486.1 418.4,486.1 420,486.1 421.6,486.1 423.3,486.1 424.9,486.1 426.6,486.1 428.2,486.1 429.8,486.1 431.5,486.1 433.1,486.1 434.7,486.1 436.4,486.1 438,486.1 439.6,486.1 441.3,486.1 442.9,486.1 444.6,486.1 446.2,486.1 447.8,486.1 449.5,486.1 451.1,486.1 452.7,486.1 454.4,486.1 456,486.1 457.6,486.1 459.3,486.1 460.9,486.1 462.6,486.1 464.2,486.1 465.8,486.1 467.5,486.1 469.1,486.1 470.7,486.1 472.4,486.1 474,486.1 475.6,486 477.3,486 478.9,486 480.6,486 482.2,486 483.8,486 485.5,486 487.1,486"/>
<polyline fill="none" stroke="#00f" stroke-width="2.8" stroke-linejoin="round" stroke-linecap="butt" points="94.4,758.2 96,757.9 97.7,757.6 99.3,757.3 100.9,757 102.6,756.7 104.2,756.4 105.9,756.1 107.5,755.8 109.1,755.5 110.8,755.2 112.4,754.9 114,754.6 115.7,754.3 117.3,754 118.9,753.6 120.6,753.3 122.2,752.9 123.9,752.6 125.5,752.2 127.1,751.9 128.8,751.5 130.4,751.1 132,750.7 133.7,750.3 135.3,749.9 136.9,749.5 138.6,749.1 140.2,748.7 141.9,748.3 143.5,747.9 145.1,747.5 146.8,747.1 148.4,746.7 150,746.4 151.7,746 153.3,745.6 154.9,745.2 156.6,744.8 158.2,744.5 159.9,744.1 161.5,743.7 163.1,743.3 164.8,742.9 166.4,742.6 168,742.2 169.7,741.8 171.3,741.4 172.9,741 174.6,740.6 176.2,740.1 177.8,739.7 179.5,739.3 181.1,738.9 182.8,738.4 184.4,738 186,737.6 187.7,737.1 189.3,736.7 190.9,736.2 192.6,735.8 194.2,735.3 195.8,734.9 197.5,734.4 199.1,734 200.8,733.6 202.4,733.1 204,732.7 205.7,732.2 207.3,731.8 208.9,731.3 210.6,730.9 212.2,730.4 213.8,730 215.5,729.5 217.1,729.1 218.8,728.6 220.4,728.1 222,727.6 223.7,727.1 225.3,726.6 226.9,726.1 228.6,725.5 230.2,725 231.8,724.4 233.5,723.9 235.1,723.3 236.8,722.7 238.4,722.1 240,721.5 241.7,720.9 243.3,720.3 244.9,719.7 246.6,719.1 248.2,718.4 249.8,717.8 251.5,717.2 253.1,716.5 254.8,715.9 256.4,715.2 258,714.6 259.7,713.9 261.3,713.2 262.9,712.5 264.6,711.9 266.2,711.2 267.8,710.5 269.5,709.8 271.1,709 272.8,708.3 274.4,707.6 276,706.9 277.7,706.1 279.3,705.4 280.9,704.7 282.6,704 284.2,703.2 285.8,702.5 287.5,701.8 289.1,701 290.8,700.3 292.4,699.5 294,698.7 295.7,697.9 297.3,697.1 298.9,696.2 300.6,695.4 302.2,694.5 303.8,693.5 305.5,692.5 307.1,691.5 308.7,690.4 310.4,689.3 312,688.2 313.7,687 315.3,685.8 316.9,684.5 318.6,683.3 320.2,682 321.8,680.7 323.5,679.4 325.1,678.1 326.7,676.9 328.4,675.6 330,674.3 331.7,673 333.3,671.7 334.9,670.4 336.6,669.1 338.2,667.7 339.8,666.4 341.5,665 343.1,663.7 344.7,662.3 346.4,660.9 348,659.5 349.7,658.1 351.3,656.7 352.9,655.3 354.6,653.9 356.2,652.5 357.8,651.1 359.5,649.7 361.1,648.2 362.7,646.8 364.4,645.4 366,643.9 367.7,642.4 369.3,641 370.9,639.5 372.6,638 374.2,636.4 375.8,634.9 377.5,633.3 379.1,631.8 380.7,630.2 382.4,628.6 384,626.9 385.7,625.2 387.3,623.5 388.9,621.7 390.6,619.9 392.2,618.1 393.8,616.2 395.5,614.4 397.1,612.6 398.7,610.7 400.4,608.9 402,607 403.7,605.2 405.3,603.4 406.9,601.7 408.6,599.9 410.2,598.2 411.8,596.4 413.5,594.7 415.1,592.9 416.7,591.1 418.4,589.3 420,587.6 421.6,585.8 423.3,584.1 424.9,582.4 426.6,580.8 428.2,579.2 429.8,577.7 431.5,576.2 433.1,574.8 434.7,573.5 436.4,572.2 438,571 439.6,569.8 441.3,568.6 442.9,567.4 444.6,566.3 446.2,565.3 447.8,564.3 449.5,563.4 451.1,562.6 452.7,562 454.4,561.4 456,560.8 457.6,560.2 459.3,559.7 460.9,559.3 462.6,558.8 464.2,558.5 465.8,558.2 467.5,557.9 469.1,557.8 470.7,557.6 472.4,557.5 474,557.4 475.6,557.3 477.3,557.2 478.9,557.2 480.6,557.1 482.2,557 483.8,556.9 485.5,556.8 487.1,556.8"/>
<circle cx="107.5" cy="774.8" r="3.65" fill="#000"/>
<circle cx="114" cy="749.4" r="3.65" fill="#000"/>
<circle cx="120.6" cy="600.7" r="3.65" fill="#000"/>
<circle cx="146.8" cy="512.1" r="3.65" fill="#000"/>
<circle cx="172.9" cy="497.6" r="3.65" fill="#000"/>
<circle cx="199.1" cy="507.1" r="3.65" fill="#000"/>
<circle cx="225.3" cy="517.2" r="3.65" fill="#000"/>
<circle cx="251.5" cy="504.9" r="3.65" fill="#000"/>
<circle cx="277.7" cy="505.6" r="3.65" fill="#000"/>
<circle cx="303.8" cy="514.3" r="3.65" fill="#000"/>
<circle cx="330" cy="499.8" r="3.65" fill="#000"/>
<circle cx="356.2" cy="496.9" r="3.65" fill="#000"/>
<circle cx="382.4" cy="511.4" r="3.65" fill="#000"/>
<circle cx="408.6" cy="490.4" r="3.65" fill="#000"/>
<circle cx="434.7" cy="507.1" r="3.65" fill="#000"/>
<circle cx="460.9" cy="510" r="3.65" fill="#000"/>
<circle cx="487.1" cy="504.2" r="3.65" fill="#000"/>
<path d="M107.5 731.9L111.9 739.4L103.1 739.4Z" fill="#f00"/>
<path d="M120.6 647.8L125 655.3L116.2 655.3Z" fill="#f00"/>
<path d="M133.7 612.2L138.1 619.7L129.3 619.7Z" fill="#f00"/>
<path d="M146.8 544.7L151.2 552.2L142.4 552.2Z" fill="#f00"/>
<path d="M172.9 518.6L177.3 526.1L168.5 526.1Z" fill="#f00"/>
<path d="M199.1 504.8L203.5 512.3L194.7 512.3Z" fill="#f00"/>
<path d="M225.3 497.6L229.7 505.1L220.9 505.1Z" fill="#f00"/>
<path d="M251.5 492.5L255.9 500L247.1 500Z" fill="#f00"/>
<path d="M277.7 501.9L282.1 509.4L273.3 509.4Z" fill="#f00"/>
<path d="M303.8 472.2L308.2 479.7L299.4 479.7Z" fill="#f00"/>
<path d="M330 488.9L334.4 496.4L325.6 496.4Z" fill="#f00"/>
<path d="M356.2 481.6L360.6 489.1L351.8 489.1Z" fill="#f00"/>
<path d="M382.4 476.5L386.8 484L378 484Z" fill="#f00"/>
<path d="M408.6 488.9L413 496.4L404.2 496.4Z" fill="#f00"/>
<path d="M434.7 483.8L439.1 491.3L430.3 491.3Z" fill="#f00"/>
<path d="M460.9 478.7L465.3 486.2L456.5 486.2Z" fill="#f00"/>
<path d="M487.1 472.2L491.5 479.7L482.7 479.7Z" fill="#f00"/>
<rect x="104.5" y="769.6" width="6" height="6" fill="#00f"/>
<rect x="117.6" y="754.4" width="6" height="6" fill="#00f"/>
<rect x="130.7" y="748.6" width="6" height="6" fill="#00f"/>
<rect x="143.8" y="742" width="6" height="6" fill="#00f"/>
<rect x="169.9" y="732.6" width="6" height="6" fill="#00f"/>
<rect x="196.1" y="718.8" width="6" height="6" fill="#00f"/>
<rect x="222.3" y="717.4" width="6" height="6" fill="#00f"/>
<rect x="248.5" y="713.7" width="6" height="6" fill="#00f"/>
<rect x="274.7" y="694.9" width="6" height="6" fill="#00f"/>
<rect x="300.8" y="689.8" width="6" height="6" fill="#00f"/>
<rect x="327" y="671.7" width="6" height="6" fill="#00f"/>
<rect x="353.2" y="661.5" width="6" height="6" fill="#00f"/>
<rect x="379.4" y="627.4" width="6" height="6" fill="#00f"/>
<rect x="405.6" y="596.9" width="6" height="6" fill="#00f"/>
<rect x="431.7" y="570.8" width="6" height="6" fill="#00f"/>
<rect x="457.9" y="561.4" width="6" height="6" fill="#00f"/>
<rect x="484.1" y="553.4" width="6" height="6" fill="#00f"/>
<rect x="92.4" y="455" width="4.0" height="328.1" fill="#000"/>
<rect x="87.9" y="779.5" width="412.1" height="3.6" fill="#000"/>
<rect x="90.4" y="455" width="4" height="2" fill="#000"/>
<rect x="87.2" y="779.5" width="6" height="3.6" fill="#000"/>
<text x="84.2" y="787.1" font-size="16" text-anchor="end">0</text>
<rect x="89.6" y="743.4" width="3.5" height="3.2" fill="#000"/>
<rect x="87.2" y="707" width="6" height="3.6" fill="#000"/>
<text x="84.2" y="714.5" font-size="16" text-anchor="end">10</text>
<rect x="89.6" y="670.9" width="3.5" height="3.2" fill="#000"/>
<rect x="87.2" y="634.4" width="6" height="3.6" fill="#000"/>
<text x="84.2" y="642" font-size="16" text-anchor="end">20</text>
<rect x="89.6" y="598.3" width="3.5" height="3.2" fill="#000"/>
<rect x="87.2" y="561.9" width="6" height="3.6" fill="#000"/>
<text x="84.2" y="569.4" font-size="16" text-anchor="end">30</text>
<rect x="89.6" y="525.8" width="3.5" height="3.2" fill="#000"/>
<rect x="87.2" y="489.3" width="6" height="3.6" fill="#000"/>
<text x="84.2" y="496.9" font-size="16" text-anchor="end">40</text>
<rect x="92.4" y="782.3" width="4" height="5.3" fill="#000"/>
<text x="94.4" y="804.6" font-size="16" text-anchor="middle">0</text>
<rect x="125.3" y="782.3" width="3.6" height="2.6" fill="#000"/>
<rect x="157.9" y="782.3" width="4" height="5.3" fill="#000"/>
<text x="159.9" y="804.6" font-size="16" text-anchor="middle">5</text>
<rect x="190.8" y="782.3" width="3.6" height="2.6" fill="#000"/>
<rect x="223.3" y="782.3" width="4" height="5.3" fill="#000"/>
<text x="225.3" y="804.6" font-size="16" text-anchor="middle">10</text>
<rect x="256.2" y="782.3" width="3.6" height="2.6" fill="#000"/>
<rect x="288.8" y="782.3" width="4" height="5.3" fill="#000"/>
<text x="290.8" y="804.6" font-size="16" text-anchor="middle">15</text>
<rect x="321.7" y="782.3" width="3.6" height="2.6" fill="#000"/>
<rect x="354.2" y="782.3" width="4" height="5.3" fill="#000"/>
<text x="356.2" y="804.6" font-size="16" text-anchor="middle">20</text>
<rect x="387.1" y="782.3" width="3.6" height="2.6" fill="#000"/>
<rect x="419.6" y="782.3" width="4" height="5.3" fill="#000"/>
<text x="421.6" y="804.6" font-size="16" text-anchor="middle">25</text>
<rect x="452.6" y="782.3" width="3.6" height="2.6" fill="#000"/>
<rect x="485.1" y="782.3" width="4" height="5.3" fill="#000"/>
<text x="487.1" y="804.6" font-size="16" text-anchor="middle">30</text>
<text x="297.3" y="831.6" font-size="26.1" text-anchor="middle">Time (min)</text>
<g transform="translate(47.3 637.3) rotate(-90)"><text x="0" y="0" font-size="26.4" text-anchor="middle">X<tspan font-size="16.4" dy="10.4">C</tspan><tspan dy="-10.4"> (%)</tspan></text></g>
<text x="449.5" y="655" font-size="35">(b)</text>
<rect x="388.4" y="679.9" width="106.5" height="87.7" fill="#000"/>
<rect x="383" y="674.5" width="106.5" height="87.7" fill="#fff" stroke="#555" stroke-width="0.8"/>
<text x="438.5" y="694.5" font-size="16" text-anchor="middle">PET-LMw</text>
<circle cx="409.5" cy="708.7" r="3.65" fill="#000"/>
<text x="432.5" y="714.4" font-size="15.9">160 °C</text>
<path d="M409.5 723.7L413.8 731L405.2 731Z" fill="#f00"/>
<text x="432.5" y="733.7" font-size="15.9">200 °C</text>
<rect x="406.5" y="744.3" width="6" height="6" fill="#00f"/>
<text x="432.5" y="753" font-size="15.9">220 °C</text>
</g>
<g id="pc">
<polyline fill="none" stroke="#000" stroke-width="2.6" stroke-linejoin="round" stroke-linecap="butt" points="579.6,779.6 581.2,766.2 582.9,752 584.5,738 586.1,724.5 587.8,711.4 589.4,699 591,687.1 592.7,675.9 594.3,665.2 596,655.1 597.6,645.5 599.2,636.5 600.9,628 602.5,620 604.1,612.4 605.8,605.3 607.4,598.6 609,592.4 610.7,586.5 612.3,581 613.9,575.8 615.6,570.9 617.2,566.4 618.8,562.1 620.5,558.1 622.1,554.4 623.7,550.9 625.4,547.6 627,544.6 628.6,541.7 630.3,539.1 631.9,536.6 633.6,534.2 635.2,532.1 636.8,530 638.5,528.1 640.1,526.4 641.7,524.7 643.4,523.2 645,521.7 646.6,520.4 648.3,519.2 649.9,518 651.5,516.9 653.2,515.9 654.8,515 656.4,514.1 658.1,513.3 659.7,512.5 661.4,511.8 663,511.1 664.6,510.5 666.3,510 667.9,509.4 669.5,508.9 671.2,508.5 672.8,508.1 674.4,507.7 676.1,507.3 677.7,506.9 679.3,506.6 681,506.3 682.6,506.1 684.2,505.8 685.9,505.6 687.5,505.3 689.1,505.1 690.8,504.9 692.4,504.8 694.1,504.6 695.7,504.4 697.3,504.3 699,504.2 700.6,504.1 702.2,503.9 703.9,503.8 705.5,503.7 707.1,503.6 708.8,503.6 710.4,503.5 712,503.4 713.7,503.3 715.3,503.3 716.9,503.2 718.6,503.2 720.2,503.1 721.8,503.1 723.5,503 725.1,503 726.8,503 728.4,502.9 730,502.9 731.7,502.9 733.3,502.8 734.9,502.8 736.6,502.8 738.2,502.8 739.8,502.7 741.5,502.7 743.1,502.7 744.7,502.7 746.4,502.7 748,502.7 749.6,502.7 751.3,502.6 752.9,502.6 754.5,502.6 756.2,502.6 757.8,502.6 759.5,502.6 761.1,502.6 762.7,502.6 764.4,502.6 766,502.6 767.6,502.6 769.3,502.6 770.9,502.6 772.5,502.6 774.2,502.5 775.8,502.5 777.4,502.5 779.1,502.5 780.7,502.5 782.3,502.5 784,502.5 785.6,502.5 787.2,502.5 788.9,502.5 790.5,502.5 792.2,502.5 793.8,502.5 795.4,502.5 797.1,502.5 798.7,502.5 800.3,502.5 802,502.5 803.6,502.5 805.2,502.5 806.9,502.5 808.5,502.5 810.1,502.5 811.8,502.5 813.4,502.5 815,502.5 816.7,502.5 818.3,502.5 819.9,502.5 821.6,502.5 823.2,502.5 824.9,502.5 826.5,502.5 828.1,502.5 829.8,502.5 831.4,502.5 833,502.5 834.7,502.5 836.3,502.5 837.9,502.5 839.6,502.5 841.2,502.5 842.8,502.5 844.5,502.5 846.1,502.5 847.7,502.5 849.4,502.5 851,502.5 852.6,502.5 854.3,502.5 855.9,502.5 857.5,502.5 859.2,502.5 860.8,502.5 862.5,502.5 864.1,502.5 865.7,502.5 867.4,502.5 869,502.5 870.6,502.5 872.3,502.5 873.9,502.5 875.5,502.5 877.2,502.5 878.8,502.5 880.4,502.5 882.1,502.5 883.7,502.5 885.3,502.5 887,502.5 888.6,502.5 890.2,502.5 891.9,502.5 893.5,502.5 895.2,502.5 896.8,502.5 898.4,502.5 900.1,502.5 901.7,502.5 903.3,502.5 905,502.5 906.6,502.5 908.2,502.5 909.9,502.5 911.5,502.5 913.1,502.5 914.8,502.5 916.4,502.5 918,502.5 919.7,502.5 921.3,502.5 923,502.5 924.6,502.5 926.2,502.5 927.9,502.5 929.5,502.5 931.1,502.5 932.8,502.5 934.4,502.5 936,502.5 937.7,502.5 939.3,502.5 940.9,502.5 942.6,502.5 944.2,502.5 945.8,502.5 947.5,502.5 949.1,502.5 950.7,502.5 952.4,502.5 954,502.5 955.7,502.5 957.3,502.5 958.9,502.5 960.6,502.5 962.2,502.5 963.8,502.5 965.5,502.5 967.1,502.5 968.7,502.5 970.4,502.5 972,502.5"/>
<polyline fill="none" stroke="#f00" stroke-width="2.8" stroke-linejoin="round" stroke-linecap="butt" points="579.6,779.6 581.2,774.3 582.9,764.9 584.5,752.6 586.1,738.9 587.8,725.2 589.4,713 591,702 592.7,691 594.3,680.6 596,670.9 597.6,662.3 599.2,654.9 600.9,648.1 602.5,641.4 604.1,634.5 605.8,627.7 607.4,620.9 609,614.1 610.7,607.4 612.3,600.7 613.9,594.2 615.6,588 617.2,582.1 618.8,576.8 620.5,571.9 622.1,567.2 623.7,562.7 625.4,558.5 627,554.4 628.6,550.6 630.3,547.1 631.9,543.7 633.6,540.6 635.2,537.5 636.8,534.5 638.5,531.7 640.1,529 641.7,526.5 643.4,524.1 645,521.9 646.6,519.8 648.3,517.9 649.9,516.2 651.5,514.5 653.2,512.9 654.8,511.4 656.4,509.9 658.1,508.6 659.7,507.3 661.4,506.1 663,505 664.6,503.9 666.3,502.9 667.9,501.8 669.5,500.9 671.2,499.9 672.8,499 674.4,498.1 676.1,497.3 677.7,496.6 679.3,495.8 681,495.2 682.6,494.6 684.2,494 685.9,493.4 687.5,492.9 689.1,492.3 690.8,491.8 692.4,491.3 694.1,490.8 695.7,490.4 697.3,489.9 699,489.5 700.6,489.1 702.2,488.7 703.9,488.4 705.5,488.1 707.1,487.8 708.8,487.5 710.4,487.3 712,487.1 713.7,486.9 715.3,486.7 716.9,486.5 718.6,486.4 720.2,486.2 721.8,486.1 723.5,485.9 725.1,485.8 726.8,485.7 728.4,485.6 730,485.5 731.7,485.4 733.3,485.3 734.9,485.2 736.6,485.1 738.2,485 739.8,485 741.5,484.9 743.1,484.8 744.7,484.8 746.4,484.7 748,484.7 749.6,484.6 751.3,484.5 752.9,484.5 754.5,484.4 756.2,484.4 757.8,484.3 759.5,484.3 761.1,484.3 762.7,484.2 764.4,484.2 766,484.2 767.6,484.1 769.3,484.1 770.9,484.1 772.5,484.1 774.2,484.1 775.8,484.1 777.4,484 779.1,484 780.7,484 782.3,484 784,484 785.6,484 787.2,484 788.9,484 790.5,484 792.2,484 793.8,484 795.4,484 797.1,484 798.7,484 800.3,484 802,484 803.6,483.9 805.2,483.9 806.9,483.9 808.5,483.9 810.1,483.9 811.8,483.9 813.4,483.9 815,483.9 816.7,483.9 818.3,483.9 819.9,483.9 821.6,483.9 823.2,483.9 824.9,483.9 826.5,483.9 828.1,483.9 829.8,483.9 831.4,483.9 833,483.9 834.7,483.9 836.3,483.9 837.9,483.9 839.6,483.9 841.2,483.9 842.8,483.9 844.5,483.9 846.1,483.9 847.7,483.8 849.4,483.8 851,483.8 852.6,483.8 854.3,483.8 855.9,483.8 857.5,483.8 859.2,483.8 860.8,483.8 862.5,483.8 864.1,483.8 865.7,483.8 867.4,483.8 869,483.8 870.6,483.8 872.3,483.8 873.9,483.8 875.5,483.8 877.2,483.8 878.8,483.8 880.4,483.8 882.1,483.8 883.7,483.8 885.3,483.8 887,483.8 888.6,483.8 890.2,483.8 891.9,483.8 893.5,483.8 895.2,483.8 896.8,483.8 898.4,483.8 900.1,483.8 901.7,483.8 903.3,483.8 905,483.8 906.6,483.8 908.2,483.8 909.9,483.8 911.5,483.8 913.1,483.8 914.8,483.8 916.4,483.8 918,483.8 919.7,483.8 921.3,483.8 923,483.8 924.6,483.8 926.2,483.8 927.9,483.8 929.5,483.7 931.1,483.7 932.8,483.7 934.4,483.7 936,483.7 937.7,483.7 939.3,483.7 940.9,483.7 942.6,483.7 944.2,483.7 945.8,483.7 947.5,483.7 949.1,483.7 950.7,483.7 952.4,483.7 954,483.7 955.7,483.7 957.3,483.7 958.9,483.7 960.6,483.7 962.2,483.7 963.8,483.7 965.5,483.7 967.1,483.7 968.7,483.7 970.4,483.7 972,483.7"/>
<polyline fill="none" stroke="#00f" stroke-width="2.8" stroke-linejoin="round" stroke-linecap="butt" points="579.6,766.2 581.2,765.7 582.9,765.2 584.5,764.8 586.1,764.3 587.8,763.8 589.4,763.4 591,762.9 592.7,762.4 594.3,762 596,761.5 597.6,761 599.2,760.5 600.9,760 602.5,759.4 604.1,758.9 605.8,758.3 607.4,757.7 609,757.1 610.7,756.5 612.3,755.8 613.9,755.1 615.6,754.4 617.2,753.7 618.8,752.9 620.5,752.2 622.1,751.4 623.7,750.6 625.4,749.9 627,749.1 628.6,748.2 630.3,747.4 631.9,746.6 633.6,745.8 635.2,744.9 636.8,744.1 638.5,743.2 640.1,742.3 641.7,741.4 643.4,740.5 645,739.5 646.6,738.6 648.3,737.6 649.9,736.7 651.5,735.7 653.2,734.7 654.8,733.7 656.4,732.7 658.1,731.7 659.7,730.6 661.4,729.6 663,728.6 664.6,727.5 666.3,726.5 667.9,725.4 669.5,724.3 671.2,723.2 672.8,722.1 674.4,721 676.1,719.8 677.7,718.7 679.3,717.5 681,716.3 682.6,715.1 684.2,713.8 685.9,712.6 687.5,711.2 689.1,709.9 690.8,708.6 692.4,707.2 694.1,705.8 695.7,704.3 697.3,702.9 699,701.4 700.6,699.9 702.2,698.5 703.9,697 705.5,695.5 707.1,694 708.8,692.5 710.4,691 712,689.5 713.7,688 715.3,686.5 716.9,684.9 718.6,683.4 720.2,681.8 721.8,680.3 723.5,678.7 725.1,677.2 726.8,675.6 728.4,674 730,672.5 731.7,670.9 733.3,669.3 734.9,667.8 736.6,666.2 738.2,664.7 739.8,663.1 741.5,661.6 743.1,660 744.7,658.5 746.4,656.9 748,655.4 749.6,653.8 751.3,652.3 752.9,650.7 754.5,649.2 756.2,647.7 757.8,646.2 759.5,644.7 761.1,643.2 762.7,641.8 764.4,640.3 766,638.9 767.6,637.5 769.3,636.1 770.9,634.7 772.5,633.3 774.2,631.9 775.8,630.5 777.4,629.2 779.1,627.8 780.7,626.5 782.3,625.2 784,623.8 785.6,622.5 787.2,621.3 788.9,620 790.5,618.8 792.2,617.5 793.8,616.3 795.4,615 797.1,613.8 798.7,612.5 800.3,611.3 802,610.1 803.6,608.9 805.2,607.8 806.9,606.6 808.5,605.5 810.1,604.4 811.8,603.4 813.4,602.4 815,601.4 816.7,600.5 818.3,599.6 819.9,598.7 821.6,597.8 823.2,597 824.9,596.2 826.5,595.4 828.1,594.6 829.8,593.8 831.4,593.1 833,592.3 834.7,591.6 836.3,590.8 837.9,590.1 839.6,589.4 841.2,588.6 842.8,587.8 844.5,587.1 846.1,586.3 847.7,585.6 849.4,584.8 851,584.1 852.6,583.3 854.3,582.6 855.9,581.9 857.5,581.1 859.2,580.4 860.8,579.7 862.5,579 864.1,578.3 865.7,577.7 867.4,577 869,576.4 870.6,575.7 872.3,575.1 873.9,574.4 875.5,573.8 877.2,573.2 878.8,572.5 880.4,571.9 882.1,571.3 883.7,570.7 885.3,570.2 887,569.6 888.6,569.1 890.2,568.6 891.9,568.1 893.5,567.6 895.2,567.2 896.8,566.7 898.4,566.3 900.1,565.9 901.7,565.5 903.3,565.1 905,564.7 906.6,564.3 908.2,563.9 909.9,563.6 911.5,563.3 913.1,562.9 914.8,562.6 916.4,562.3 918,562.1 919.7,561.8 921.3,561.6 923,561.4 924.6,561.2 926.2,560.9 927.9,560.8 929.5,560.6 931.1,560.4 932.8,560.2 934.4,560 936,559.9 937.7,559.7 939.3,559.6 940.9,559.4 942.6,559.2 944.2,559.1 945.8,558.9 947.5,558.8 949.1,558.6 950.7,558.5 952.4,558.3 954,558.2 955.7,558.1 957.3,557.9 958.9,557.8 960.6,557.7 962.2,557.5 963.8,557.4 965.5,557.3 967.1,557.2 968.7,557 970.4,556.9 972,556.8"/>
<circle cx="579.6" cy="779.6" r="3.65" fill="#000"/>
<circle cx="592.7" cy="705.8" r="3.65" fill="#000"/>
<circle cx="605.8" cy="559.7" r="3.65" fill="#000"/>
<circle cx="631.9" cy="537.2" r="3.65" fill="#000"/>
<circle cx="658.1" cy="522.8" r="3.65" fill="#000"/>
<circle cx="684.2" cy="511.9" r="3.65" fill="#000"/>
<circle cx="710.4" cy="508.3" r="3.65" fill="#000"/>
<circle cx="736.6" cy="504.7" r="3.65" fill="#000"/>
<circle cx="762.7" cy="503.2" r="3.65" fill="#000"/>
<circle cx="788.9" cy="502.5" r="3.65" fill="#000"/>
<circle cx="815" cy="503.2" r="3.65" fill="#000"/>
<circle cx="841.2" cy="499.6" r="3.65" fill="#000"/>
<circle cx="867.4" cy="504.7" r="3.65" fill="#000"/>
<circle cx="893.5" cy="501.1" r="3.65" fill="#000"/>
<circle cx="919.7" cy="504.7" r="3.65" fill="#000"/>
<circle cx="945.8" cy="502.5" r="3.65" fill="#000"/>
<circle cx="972" cy="493.1" r="3.65" fill="#000"/>
<path d="M592.7 705L597.1 712.5L588.3 712.5Z" fill="#f00"/>
<path d="M605.8 634.1L610.2 641.6L601.4 641.6Z" fill="#f00"/>
<path d="M618.8 572.6L623.2 580.1L614.4 580.1Z" fill="#f00"/>
<path d="M631.9 511.1L636.3 518.6L627.5 518.6Z" fill="#f00"/>
<path d="M658.1 485.1L662.5 492.6L653.7 492.6Z" fill="#f00"/>
<path d="M684.2 487.2L688.6 494.7L679.8 494.7Z" fill="#f00"/>
<path d="M710.4 486.5L714.8 494L706 494Z" fill="#f00"/>
<path d="M736.6 483.6L741 491.1L732.2 491.1Z" fill="#f00"/>
<path d="M762.7 482.9L767.1 490.4L758.3 490.4Z" fill="#f00"/>
<path d="M788.9 488L793.3 495.5L784.5 495.5Z" fill="#f00"/>
<path d="M815 483.6L819.4 491.1L810.6 491.1Z" fill="#f00"/>
<path d="M841.2 476.4L845.6 483.9L836.8 483.9Z" fill="#f00"/>
<path d="M867.4 468.4L871.8 475.9L863 475.9Z" fill="#f00"/>
<path d="M893.5 481.5L897.9 489L889.1 489Z" fill="#f00"/>
<path d="M919.7 477.8L924.1 485.3L915.3 485.3Z" fill="#f00"/>
<path d="M945.8 486.5L950.2 494L941.4 494Z" fill="#f00"/>
<path d="M972 479.3L976.4 486.8L967.6 486.8Z" fill="#f00"/>
<rect x="576.6" y="776.6" width="6" height="6" fill="#00f"/>
<rect x="602.8" y="748.4" width="6" height="6" fill="#00f"/>
<rect x="628.9" y="731.7" width="6" height="6" fill="#00f"/>
<rect x="655.1" y="722.3" width="6" height="6" fill="#00f"/>
<rect x="681.2" y="717.3" width="6" height="6" fill="#00f"/>
<rect x="707.4" y="696.3" width="6" height="6" fill="#00f"/>
<rect x="733.6" y="663.7" width="6" height="6" fill="#00f"/>
<rect x="759.7" y="638.4" width="6" height="6" fill="#00f"/>
<rect x="785.9" y="616.7" width="6" height="6" fill="#00f"/>
<rect x="812" y="596.4" width="6" height="6" fill="#00f"/>
<rect x="838.2" y="587.8" width="6" height="6" fill="#00f"/>
<rect x="864.4" y="577.6" width="6" height="6" fill="#00f"/>
<rect x="890.5" y="561" width="6" height="6" fill="#00f"/>
<rect x="916.7" y="558.8" width="6" height="6" fill="#00f"/>
<rect x="942.8" y="557.4" width="6" height="6" fill="#00f"/>
<rect x="969" y="555.9" width="6" height="6" fill="#00f"/>
<rect x="577.6" y="453" width="4.0" height="328.4" fill="#000"/>
<rect x="573.1" y="777.8" width="412.9" height="3.6" fill="#000"/>
<rect x="575.6" y="453" width="4" height="2" fill="#000"/>
<rect x="572.4" y="777.8" width="6" height="3.6" fill="#000"/>
<text x="569.4" y="785.4" font-size="16" text-anchor="end">0</text>
<rect x="574.8" y="741.8" width="3.5" height="3.2" fill="#000"/>
<rect x="572.4" y="705.5" width="6" height="3.6" fill="#000"/>
<text x="569.4" y="713" font-size="16" text-anchor="end">10</text>
<rect x="574.8" y="669.5" width="3.5" height="3.2" fill="#000"/>
<rect x="572.4" y="633.1" width="6" height="3.6" fill="#000"/>
<text x="569.4" y="640.7" font-size="16" text-anchor="end">20</text>
<rect x="574.8" y="597.1" width="3.5" height="3.2" fill="#000"/>
<rect x="572.4" y="560.8" width="6" height="3.6" fill="#000"/>
<text x="569.4" y="568.3" font-size="16" text-anchor="end">30</text>
<rect x="574.8" y="524.8" width="3.5" height="3.2" fill="#000"/>
<rect x="572.4" y="488.4" width="6" height="3.6" fill="#000"/>
<text x="569.4" y="496" font-size="16" text-anchor="end">40</text>
<rect x="577.6" y="780.6" width="4" height="5.3" fill="#000"/>
<text x="579.6" y="802.9" font-size="16" text-anchor="middle">0</text>
<rect x="610.5" y="780.6" width="3.6" height="2.6" fill="#000"/>
<rect x="643" y="780.6" width="4" height="5.3" fill="#000"/>
<text x="645" y="802.9" font-size="16" text-anchor="middle">5</text>
<rect x="675.9" y="780.6" width="3.6" height="2.6" fill="#000"/>
<rect x="708.4" y="780.6" width="4" height="5.3" fill="#000"/>
<text x="710.4" y="802.9" font-size="16" text-anchor="middle">10</text>
<rect x="741.3" y="780.6" width="3.6" height="2.6" fill="#000"/>
<rect x="773.8" y="780.6" width="4" height="5.3" fill="#000"/>
<text x="775.8" y="802.9" font-size="16" text-anchor="middle">15</text>
<rect x="806.7" y="780.6" width="3.6" height="2.6" fill="#000"/>
<rect x="839.2" y="780.6" width="4" height="5.3" fill="#000"/>
<text x="841.2" y="802.9" font-size="16" text-anchor="middle">20</text>
<rect x="872.1" y="780.6" width="3.6" height="2.6" fill="#000"/>
<rect x="904.6" y="780.6" width="4" height="5.3" fill="#000"/>
<text x="906.6" y="802.9" font-size="16" text-anchor="middle">25</text>
<rect x="937.5" y="780.6" width="3.6" height="2.6" fill="#000"/>
<rect x="970" y="780.6" width="4" height="5.3" fill="#000"/>
<text x="972" y="802.9" font-size="16" text-anchor="middle">30</text>
<text x="783" y="829.9" font-size="26.1" text-anchor="middle">Time (min)</text>
<g transform="translate(532.7 636) rotate(-90)"><text x="0" y="0" font-size="26.4" text-anchor="middle">X<tspan font-size="16.4" dy="10.4">C</tspan><tspan dy="-10.4"> (%)</tspan></text></g>
<text x="934" y="655" font-size="35">(c)</text>
<rect x="872.4" y="675.9" width="109" height="92" fill="#000"/>
<rect x="867" y="670.5" width="109" height="92" fill="#fff" stroke="#555" stroke-width="0.8"/>
<text x="922.5" y="693.2" font-size="16" text-anchor="middle">PET-HMw</text>
<circle cx="893.5" cy="707.4" r="3.65" fill="#000"/>
<text x="916.5" y="713.1" font-size="15.9">160 °C</text>
<path d="M893.5 722.4L897.8 729.7L889.2 729.7Z" fill="#f00"/>
<text x="916.5" y="732.4" font-size="15.9">200 °C</text>
<rect x="890.5" y="743" width="6" height="6" fill="#00f"/>
<text x="916.5" y="751.7" font-size="15.9">220 °C</text>
</g>
</svg>
</body></html>
